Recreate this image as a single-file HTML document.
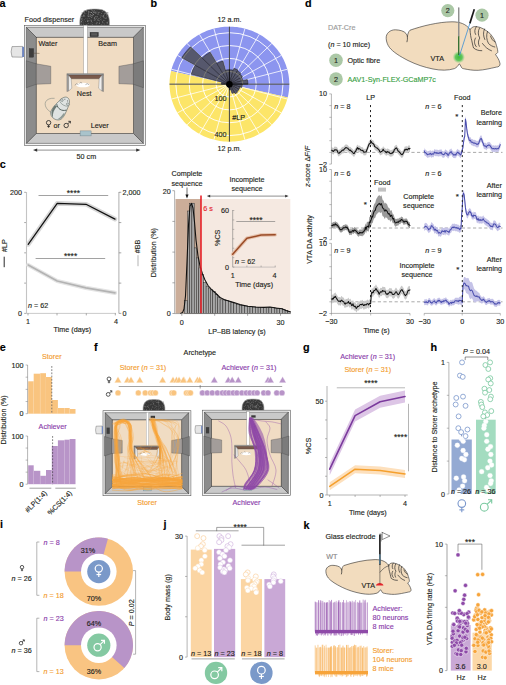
<!DOCTYPE html>
<html><head><meta charset="utf-8"><style>
html,body{margin:0;padding:0;background:#fff;width:506px;height:685px;overflow:hidden}
svg{display:block}
text{font-family:"Liberation Sans", sans-serif;}
</style></head><body>
<svg width="506" height="685" viewBox="0 0 506 685">
<rect width="506" height="685" fill="#fff"/>
<text x="-0.6" y="7.4" font-size="10.8" text-anchor="start" fill="#000" font-weight="bold" font-style="normal"  stroke="#000" stroke-width="0.14">a</text>
<rect x="24.30" y="25.30" width="121.10" height="120.10" fill="#f4f4f4" stroke="#5a5a5a" stroke-width="0.6" />
<polygon points="26.30,27.30 143.40,27.30 133.40,37.30 36.30,37.30" fill="#c9c9c9" stroke="#333" stroke-width="0.45" />
<polygon points="26.30,143.40 143.40,143.40 133.40,133.40 36.30,133.40" fill="#c9c9c9" stroke="#333" stroke-width="0.45" />
<polygon points="26.30,27.30 36.30,37.30 36.30,133.40 26.30,143.40" fill="#8c8c8c" stroke="#333" stroke-width="0.45" />
<polygon points="143.40,27.30 133.40,37.30 133.40,133.40 143.40,143.40" fill="#8c8c8c" stroke="#333" stroke-width="0.45" />
<rect x="36.30" y="37.30" width="97.10" height="96.10" fill="#f0dcc3" stroke="#333" stroke-width="0.5" />
<polygon points="26.30,60.80 36.30,63.80 36.30,84.30 26.30,87.70" fill="#7b7b7b" stroke="#3a3a3a" stroke-width="0.3" />
<polygon points="36.30,63.80 50.80,66.30 50.80,83.70 36.30,84.30" fill="#a39d9a" stroke="#3a3a3a" stroke-width="0.3" />
<polygon points="143.40,60.80 133.40,63.80 133.40,84.30 143.40,87.70" fill="#7b7b7b" stroke="#3a3a3a" stroke-width="0.3" />
<polygon points="133.40,63.80 118.90,66.30 118.90,83.70 133.40,84.30" fill="#a39d9a" stroke="#3a3a3a" stroke-width="0.3" />
<path d="M12,46.6 L22.5,46.4 L22.5,57.2 L12,57 Q10.2,51.8 12,46.6 Z" fill="#e6e6e6" stroke="#555" stroke-width="0.45"/>
<rect x="22.20" y="46.80" width="1.80" height="10.20" fill="#6d86c4" stroke="none" stroke-width="0.5" />
<rect x="29.20" y="48.60" width="4.40" height="8.60" fill="#3d3d3d" stroke="#222" stroke-width="0.3" />
<line x1="33.50" y1="53.20" x2="39.50" y2="53.40" stroke="#5a4a3a" stroke-width="0.5" />
<path d="M79.90,25.40 C79.30,18.43 80.80,11.95 87.00,9.80 C91.00,8.80 98.20,8.80 102.20,9.80 C108.40,11.95 109.90,18.43 109.30,25.40 Z" fill="#363636" stroke="#9a9a9a" stroke-width="0.6"/>
<circle cx="84.53" cy="11.96" r="0.30" fill="#7a7a7a" stroke="none" stroke-width="0.5" />
<circle cx="94.47" cy="18.04" r="0.41" fill="#b8b8b8" stroke="none" stroke-width="0.5" />
<circle cx="83.42" cy="24.47" r="0.34" fill="#b8b8b8" stroke="none" stroke-width="0.5" />
<circle cx="101.82" cy="24.87" r="0.30" fill="#b8b8b8" stroke="none" stroke-width="0.5" />
<circle cx="102.91" cy="15.87" r="0.43" fill="#7a7a7a" stroke="none" stroke-width="0.5" />
<circle cx="81.68" cy="24.51" r="0.44" fill="#7a7a7a" stroke="none" stroke-width="0.5" />
<circle cx="91.33" cy="21.59" r="0.40" fill="#b8b8b8" stroke="none" stroke-width="0.5" />
<circle cx="95.36" cy="13.24" r="0.36" fill="#b8b8b8" stroke="none" stroke-width="0.5" />
<circle cx="90.35" cy="14.57" r="0.44" fill="#b8b8b8" stroke="none" stroke-width="0.5" />
<circle cx="106.34" cy="18.55" r="0.29" fill="#7a7a7a" stroke="none" stroke-width="0.5" />
<circle cx="84.16" cy="19.82" r="0.35" fill="#b8b8b8" stroke="none" stroke-width="0.5" />
<circle cx="105.89" cy="22.00" r="0.37" fill="#5e5e5e" stroke="none" stroke-width="0.5" />
<circle cx="105.13" cy="11.98" r="0.37" fill="#b8b8b8" stroke="none" stroke-width="0.5" />
<circle cx="81.79" cy="21.19" r="0.33" fill="#b8b8b8" stroke="none" stroke-width="0.5" />
<circle cx="85.60" cy="16.52" r="0.27" fill="#5e5e5e" stroke="none" stroke-width="0.5" />
<circle cx="99.11" cy="23.25" r="0.35" fill="#9c9c9c" stroke="none" stroke-width="0.5" />
<circle cx="91.66" cy="17.42" r="0.34" fill="#7a7a7a" stroke="none" stroke-width="0.5" />
<circle cx="89.33" cy="11.95" r="0.38" fill="#b8b8b8" stroke="none" stroke-width="0.5" />
<circle cx="85.48" cy="21.44" r="0.40" fill="#7a7a7a" stroke="none" stroke-width="0.5" />
<circle cx="95.69" cy="11.76" r="0.33" fill="#9c9c9c" stroke="none" stroke-width="0.5" />
<circle cx="90.30" cy="11.96" r="0.34" fill="#5e5e5e" stroke="none" stroke-width="0.5" />
<circle cx="88.25" cy="16.53" r="0.33" fill="#7a7a7a" stroke="none" stroke-width="0.5" />
<circle cx="106.67" cy="17.08" r="0.35" fill="#9c9c9c" stroke="none" stroke-width="0.5" />
<circle cx="96.29" cy="18.39" r="0.35" fill="#7a7a7a" stroke="none" stroke-width="0.5" />
<circle cx="90.88" cy="16.44" r="0.35" fill="#b8b8b8" stroke="none" stroke-width="0.5" />
<circle cx="90.66" cy="19.62" r="0.34" fill="#5e5e5e" stroke="none" stroke-width="0.5" />
<circle cx="81.61" cy="21.40" r="0.36" fill="#9c9c9c" stroke="none" stroke-width="0.5" />
<circle cx="85.81" cy="23.50" r="0.26" fill="#5e5e5e" stroke="none" stroke-width="0.5" />
<circle cx="106.81" cy="23.83" r="0.34" fill="#7a7a7a" stroke="none" stroke-width="0.5" />
<circle cx="101.60" cy="20.61" r="0.27" fill="#5e5e5e" stroke="none" stroke-width="0.5" />
<circle cx="98.04" cy="19.64" r="0.28" fill="#7a7a7a" stroke="none" stroke-width="0.5" />
<circle cx="87.86" cy="10.36" r="0.38" fill="#5e5e5e" stroke="none" stroke-width="0.5" />
<circle cx="88.94" cy="14.17" r="0.34" fill="#b8b8b8" stroke="none" stroke-width="0.5" />
<circle cx="81.49" cy="19.00" r="0.41" fill="#b8b8b8" stroke="none" stroke-width="0.5" />
<circle cx="87.95" cy="21.03" r="0.44" fill="#9c9c9c" stroke="none" stroke-width="0.5" />
<circle cx="92.72" cy="10.00" r="0.25" fill="#9c9c9c" stroke="none" stroke-width="0.5" />
<circle cx="84.87" cy="13.92" r="0.34" fill="#9c9c9c" stroke="none" stroke-width="0.5" />
<circle cx="94.77" cy="18.39" r="0.45" fill="#9c9c9c" stroke="none" stroke-width="0.5" />
<circle cx="98.20" cy="14.29" r="0.29" fill="#b8b8b8" stroke="none" stroke-width="0.5" />
<circle cx="98.69" cy="18.87" r="0.38" fill="#5e5e5e" stroke="none" stroke-width="0.5" />
<circle cx="92.57" cy="13.64" r="0.44" fill="#9c9c9c" stroke="none" stroke-width="0.5" />
<circle cx="104.94" cy="20.22" r="0.31" fill="#7a7a7a" stroke="none" stroke-width="0.5" />
<circle cx="106.69" cy="13.54" r="0.36" fill="#b8b8b8" stroke="none" stroke-width="0.5" />
<circle cx="84.43" cy="16.34" r="0.37" fill="#7a7a7a" stroke="none" stroke-width="0.5" />
<circle cx="86.83" cy="11.14" r="0.28" fill="#b8b8b8" stroke="none" stroke-width="0.5" />
<circle cx="100.22" cy="17.13" r="0.29" fill="#b8b8b8" stroke="none" stroke-width="0.5" />
<circle cx="83.56" cy="16.15" r="0.37" fill="#b8b8b8" stroke="none" stroke-width="0.5" />
<circle cx="94.39" cy="10.58" r="0.31" fill="#b8b8b8" stroke="none" stroke-width="0.5" />
<circle cx="94.59" cy="19.93" r="0.43" fill="#b8b8b8" stroke="none" stroke-width="0.5" />
<circle cx="81.33" cy="21.83" r="0.41" fill="#5e5e5e" stroke="none" stroke-width="0.5" />
<circle cx="96.34" cy="22.84" r="0.29" fill="#b8b8b8" stroke="none" stroke-width="0.5" />
<circle cx="99.40" cy="12.11" r="0.43" fill="#5e5e5e" stroke="none" stroke-width="0.5" />
<circle cx="103.90" cy="16.74" r="0.26" fill="#9c9c9c" stroke="none" stroke-width="0.5" />
<circle cx="81.95" cy="22.87" r="0.43" fill="#9c9c9c" stroke="none" stroke-width="0.5" />
<circle cx="86.70" cy="13.31" r="0.32" fill="#5e5e5e" stroke="none" stroke-width="0.5" />
<circle cx="90.20" cy="20.45" r="0.28" fill="#b8b8b8" stroke="none" stroke-width="0.5" />
<circle cx="96.01" cy="23.31" r="0.33" fill="#7a7a7a" stroke="none" stroke-width="0.5" />
<circle cx="91.30" cy="9.76" r="0.42" fill="#9c9c9c" stroke="none" stroke-width="0.5" />
<circle cx="90.22" cy="15.51" r="0.27" fill="#b8b8b8" stroke="none" stroke-width="0.5" />
<circle cx="95.98" cy="16.26" r="0.32" fill="#5e5e5e" stroke="none" stroke-width="0.5" />
<circle cx="88.97" cy="16.74" r="0.34" fill="#7a7a7a" stroke="none" stroke-width="0.5" />
<circle cx="88.47" cy="12.88" r="0.25" fill="#5e5e5e" stroke="none" stroke-width="0.5" />
<circle cx="99.29" cy="23.50" r="0.42" fill="#7a7a7a" stroke="none" stroke-width="0.5" />
<circle cx="102.58" cy="22.03" r="0.28" fill="#b8b8b8" stroke="none" stroke-width="0.5" />
<circle cx="93.25" cy="14.50" r="0.40" fill="#9c9c9c" stroke="none" stroke-width="0.5" />
<circle cx="83.67" cy="10.99" r="0.41" fill="#b8b8b8" stroke="none" stroke-width="0.5" />
<circle cx="95.78" cy="12.40" r="0.39" fill="#5e5e5e" stroke="none" stroke-width="0.5" />
<circle cx="89.49" cy="21.73" r="0.26" fill="#5e5e5e" stroke="none" stroke-width="0.5" />
<circle cx="88.97" cy="15.79" r="0.33" fill="#b8b8b8" stroke="none" stroke-width="0.5" />
<circle cx="91.81" cy="23.92" r="0.44" fill="#5e5e5e" stroke="none" stroke-width="0.5" />
<circle cx="107.53" cy="23.20" r="0.41" fill="#9c9c9c" stroke="none" stroke-width="0.5" />
<circle cx="102.25" cy="11.29" r="0.38" fill="#b8b8b8" stroke="none" stroke-width="0.5" />
<circle cx="87.97" cy="16.63" r="0.29" fill="#5e5e5e" stroke="none" stroke-width="0.5" />
<circle cx="90.76" cy="12.38" r="0.45" fill="#7a7a7a" stroke="none" stroke-width="0.5" />
<circle cx="93.17" cy="14.94" r="0.44" fill="#5e5e5e" stroke="none" stroke-width="0.5" />
<circle cx="91.59" cy="20.22" r="0.29" fill="#5e5e5e" stroke="none" stroke-width="0.5" />
<circle cx="102.66" cy="16.06" r="0.30" fill="#5e5e5e" stroke="none" stroke-width="0.5" />
<circle cx="83.61" cy="15.56" r="0.30" fill="#7a7a7a" stroke="none" stroke-width="0.5" />
<circle cx="81.40" cy="21.18" r="0.30" fill="#7a7a7a" stroke="none" stroke-width="0.5" />
<circle cx="104.72" cy="13.77" r="0.38" fill="#7a7a7a" stroke="none" stroke-width="0.5" />
<circle cx="88.84" cy="12.80" r="0.34" fill="#b8b8b8" stroke="none" stroke-width="0.5" />
<circle cx="104.49" cy="23.36" r="0.27" fill="#5e5e5e" stroke="none" stroke-width="0.5" />
<circle cx="106.97" cy="22.26" r="0.45" fill="#9c9c9c" stroke="none" stroke-width="0.5" />
<circle cx="103.45" cy="20.02" r="0.39" fill="#7a7a7a" stroke="none" stroke-width="0.5" />
<circle cx="103.81" cy="15.71" r="0.43" fill="#9c9c9c" stroke="none" stroke-width="0.5" />
<circle cx="84.74" cy="11.00" r="0.41" fill="#7a7a7a" stroke="none" stroke-width="0.5" />
<circle cx="103.44" cy="15.38" r="0.29" fill="#9c9c9c" stroke="none" stroke-width="0.5" />
<circle cx="92.75" cy="22.49" r="0.30" fill="#9c9c9c" stroke="none" stroke-width="0.5" />
<circle cx="103.09" cy="16.51" r="0.42" fill="#b8b8b8" stroke="none" stroke-width="0.5" />
<circle cx="93.31" cy="18.86" r="0.28" fill="#5e5e5e" stroke="none" stroke-width="0.5" />
<circle cx="94.21" cy="12.79" r="0.45" fill="#b8b8b8" stroke="none" stroke-width="0.5" />
<circle cx="81.36" cy="14.34" r="0.37" fill="#9c9c9c" stroke="none" stroke-width="0.5" />
<circle cx="88.46" cy="16.29" r="0.37" fill="#9c9c9c" stroke="none" stroke-width="0.5" />
<circle cx="87.26" cy="24.79" r="0.35" fill="#5e5e5e" stroke="none" stroke-width="0.5" />
<circle cx="98.70" cy="18.21" r="0.30" fill="#9c9c9c" stroke="none" stroke-width="0.5" />
<circle cx="94.46" cy="17.59" r="0.39" fill="#9c9c9c" stroke="none" stroke-width="0.5" />
<circle cx="90.11" cy="15.57" r="0.44" fill="#5e5e5e" stroke="none" stroke-width="0.5" />
<circle cx="86.88" cy="10.83" r="0.28" fill="#5e5e5e" stroke="none" stroke-width="0.5" />
<circle cx="101.92" cy="11.42" r="0.31" fill="#5e5e5e" stroke="none" stroke-width="0.5" />
<circle cx="89.08" cy="16.47" r="0.39" fill="#9c9c9c" stroke="none" stroke-width="0.5" />
<circle cx="101.11" cy="15.82" r="0.43" fill="#7a7a7a" stroke="none" stroke-width="0.5" />
<circle cx="107.27" cy="16.18" r="0.28" fill="#9c9c9c" stroke="none" stroke-width="0.5" />
<circle cx="92.58" cy="10.52" r="0.35" fill="#7a7a7a" stroke="none" stroke-width="0.5" />
<circle cx="91.67" cy="15.17" r="0.35" fill="#b8b8b8" stroke="none" stroke-width="0.5" />
<circle cx="85.37" cy="13.76" r="0.35" fill="#7a7a7a" stroke="none" stroke-width="0.5" />
<circle cx="83.32" cy="21.00" r="0.30" fill="#7a7a7a" stroke="none" stroke-width="0.5" />
<circle cx="84.67" cy="13.05" r="0.34" fill="#7a7a7a" stroke="none" stroke-width="0.5" />
<circle cx="91.36" cy="12.64" r="0.33" fill="#b8b8b8" stroke="none" stroke-width="0.5" />
<circle cx="105.89" cy="18.21" r="0.44" fill="#b8b8b8" stroke="none" stroke-width="0.5" />
<circle cx="84.12" cy="15.73" r="0.43" fill="#b8b8b8" stroke="none" stroke-width="0.5" />
<circle cx="99.02" cy="20.66" r="0.40" fill="#b8b8b8" stroke="none" stroke-width="0.5" />
<circle cx="80.95" cy="22.00" r="0.37" fill="#b8b8b8" stroke="none" stroke-width="0.5" />
<circle cx="87.50" cy="20.93" r="0.31" fill="#9c9c9c" stroke="none" stroke-width="0.5" />
<circle cx="95.77" cy="20.73" r="0.42" fill="#5e5e5e" stroke="none" stroke-width="0.5" />
<circle cx="93.12" cy="11.75" r="0.36" fill="#9c9c9c" stroke="none" stroke-width="0.5" />
<circle cx="94.35" cy="11.83" r="0.36" fill="#9c9c9c" stroke="none" stroke-width="0.5" />
<circle cx="91.39" cy="20.56" r="0.43" fill="#7a7a7a" stroke="none" stroke-width="0.5" />
<circle cx="81.50" cy="16.21" r="0.36" fill="#7a7a7a" stroke="none" stroke-width="0.5" />
<circle cx="107.40" cy="13.28" r="0.27" fill="#9c9c9c" stroke="none" stroke-width="0.5" />
<circle cx="91.12" cy="12.60" r="0.35" fill="#b8b8b8" stroke="none" stroke-width="0.5" />
<circle cx="90.66" cy="16.83" r="0.27" fill="#7a7a7a" stroke="none" stroke-width="0.5" />
<circle cx="100.60" cy="19.55" r="0.32" fill="#b8b8b8" stroke="none" stroke-width="0.5" />
<circle cx="100.96" cy="16.18" r="0.38" fill="#7a7a7a" stroke="none" stroke-width="0.5" />
<circle cx="91.23" cy="21.79" r="0.45" fill="#7a7a7a" stroke="none" stroke-width="0.5" />
<circle cx="98.33" cy="13.87" r="0.45" fill="#9c9c9c" stroke="none" stroke-width="0.5" />
<circle cx="93.54" cy="12.16" r="0.44" fill="#b8b8b8" stroke="none" stroke-width="0.5" />
<circle cx="100.44" cy="9.82" r="0.34" fill="#9c9c9c" stroke="none" stroke-width="0.5" />
<circle cx="99.25" cy="21.89" r="0.39" fill="#7a7a7a" stroke="none" stroke-width="0.5" />
<circle cx="96.78" cy="10.08" r="0.42" fill="#5e5e5e" stroke="none" stroke-width="0.5" />
<circle cx="96.92" cy="13.69" r="0.35" fill="#7a7a7a" stroke="none" stroke-width="0.5" />
<circle cx="101.37" cy="15.12" r="0.38" fill="#5e5e5e" stroke="none" stroke-width="0.5" />
<circle cx="92.04" cy="15.29" r="0.41" fill="#b8b8b8" stroke="none" stroke-width="0.5" />
<circle cx="104.13" cy="13.18" r="0.32" fill="#7a7a7a" stroke="none" stroke-width="0.5" />
<circle cx="88.12" cy="14.09" r="0.28" fill="#5e5e5e" stroke="none" stroke-width="0.5" />
<circle cx="103.77" cy="17.50" r="0.35" fill="#b8b8b8" stroke="none" stroke-width="0.5" />
<circle cx="88.29" cy="23.40" r="0.26" fill="#b8b8b8" stroke="none" stroke-width="0.5" />
<circle cx="82.68" cy="18.14" r="0.35" fill="#9c9c9c" stroke="none" stroke-width="0.5" />
<circle cx="106.88" cy="14.36" r="0.38" fill="#b8b8b8" stroke="none" stroke-width="0.5" />
<circle cx="88.43" cy="20.25" r="0.30" fill="#9c9c9c" stroke="none" stroke-width="0.5" />
<circle cx="90.03" cy="23.86" r="0.34" fill="#5e5e5e" stroke="none" stroke-width="0.5" />
<circle cx="96.19" cy="24.14" r="0.38" fill="#5e5e5e" stroke="none" stroke-width="0.5" />
<circle cx="100.48" cy="12.46" r="0.32" fill="#5e5e5e" stroke="none" stroke-width="0.5" />
<circle cx="101.20" cy="18.91" r="0.28" fill="#b8b8b8" stroke="none" stroke-width="0.5" />
<circle cx="102.58" cy="11.67" r="0.39" fill="#5e5e5e" stroke="none" stroke-width="0.5" />
<circle cx="87.96" cy="15.59" r="0.42" fill="#9c9c9c" stroke="none" stroke-width="0.5" />
<circle cx="97.97" cy="20.07" r="0.44" fill="#b8b8b8" stroke="none" stroke-width="0.5" />
<circle cx="87.67" cy="20.79" r="0.38" fill="#7a7a7a" stroke="none" stroke-width="0.5" />
<circle cx="93.05" cy="10.96" r="0.37" fill="#9c9c9c" stroke="none" stroke-width="0.5" />
<circle cx="88.05" cy="16.86" r="0.41" fill="#9c9c9c" stroke="none" stroke-width="0.5" />
<circle cx="105.44" cy="18.17" r="0.40" fill="#5e5e5e" stroke="none" stroke-width="0.5" />
<circle cx="87.46" cy="13.93" r="0.26" fill="#5e5e5e" stroke="none" stroke-width="0.5" />
<circle cx="87.10" cy="19.99" r="0.44" fill="#7a7a7a" stroke="none" stroke-width="0.5" />
<circle cx="82.07" cy="12.54" r="0.43" fill="#7a7a7a" stroke="none" stroke-width="0.5" />
<circle cx="86.80" cy="24.37" r="0.32" fill="#b8b8b8" stroke="none" stroke-width="0.5" />
<circle cx="103.90" cy="23.10" r="0.27" fill="#9c9c9c" stroke="none" stroke-width="0.5" />
<circle cx="91.84" cy="17.34" r="0.40" fill="#b8b8b8" stroke="none" stroke-width="0.5" />
<circle cx="107.63" cy="21.30" r="0.34" fill="#5e5e5e" stroke="none" stroke-width="0.5" />
<circle cx="96.80" cy="21.67" r="0.32" fill="#5e5e5e" stroke="none" stroke-width="0.5" />
<circle cx="97.18" cy="11.01" r="0.26" fill="#7a7a7a" stroke="none" stroke-width="0.5" />
<circle cx="102.79" cy="11.80" r="0.43" fill="#5e5e5e" stroke="none" stroke-width="0.5" />
<circle cx="104.18" cy="20.52" r="0.33" fill="#9c9c9c" stroke="none" stroke-width="0.5" />
<circle cx="105.06" cy="13.32" r="0.41" fill="#9c9c9c" stroke="none" stroke-width="0.5" />
<circle cx="81.67" cy="18.99" r="0.36" fill="#7a7a7a" stroke="none" stroke-width="0.5" />
<circle cx="87.83" cy="23.69" r="0.43" fill="#5e5e5e" stroke="none" stroke-width="0.5" />
<circle cx="81.81" cy="23.97" r="0.26" fill="#9c9c9c" stroke="none" stroke-width="0.5" />
<circle cx="88.37" cy="23.11" r="0.29" fill="#7a7a7a" stroke="none" stroke-width="0.5" />
<circle cx="94.59" cy="22.91" r="0.39" fill="#5e5e5e" stroke="none" stroke-width="0.5" />
<circle cx="104.11" cy="14.78" r="0.32" fill="#b8b8b8" stroke="none" stroke-width="0.5" />
<circle cx="88.21" cy="20.93" r="0.30" fill="#9c9c9c" stroke="none" stroke-width="0.5" />
<circle cx="97.02" cy="12.87" r="0.32" fill="#9c9c9c" stroke="none" stroke-width="0.5" />
<circle cx="97.50" cy="16.35" r="0.43" fill="#7a7a7a" stroke="none" stroke-width="0.5" />
<circle cx="95.89" cy="16.68" r="0.43" fill="#b8b8b8" stroke="none" stroke-width="0.5" />
<circle cx="82.77" cy="20.82" r="0.30" fill="#7a7a7a" stroke="none" stroke-width="0.5" />
<circle cx="107.71" cy="22.60" r="0.42" fill="#9c9c9c" stroke="none" stroke-width="0.5" />
<circle cx="104.29" cy="24.10" r="0.43" fill="#7a7a7a" stroke="none" stroke-width="0.5" />
<circle cx="94.95" cy="17.25" r="0.45" fill="#7a7a7a" stroke="none" stroke-width="0.5" />
<circle cx="81.94" cy="16.79" r="0.38" fill="#b8b8b8" stroke="none" stroke-width="0.5" />
<circle cx="105.48" cy="13.24" r="0.25" fill="#b8b8b8" stroke="none" stroke-width="0.5" />
<circle cx="95.27" cy="23.52" r="0.27" fill="#5e5e5e" stroke="none" stroke-width="0.5" />
<circle cx="81.78" cy="19.03" r="0.31" fill="#5e5e5e" stroke="none" stroke-width="0.5" />
<circle cx="84.41" cy="12.77" r="0.42" fill="#7a7a7a" stroke="none" stroke-width="0.5" />
<circle cx="89.20" cy="18.41" r="0.35" fill="#9c9c9c" stroke="none" stroke-width="0.5" />
<circle cx="86.49" cy="10.81" r="0.44" fill="#b8b8b8" stroke="none" stroke-width="0.5" />
<circle cx="96.92" cy="23.30" r="0.35" fill="#b8b8b8" stroke="none" stroke-width="0.5" />
<circle cx="96.21" cy="12.01" r="0.43" fill="#7a7a7a" stroke="none" stroke-width="0.5" />
<circle cx="103.73" cy="20.45" r="0.29" fill="#9c9c9c" stroke="none" stroke-width="0.5" />
<circle cx="91.55" cy="19.95" r="0.32" fill="#b8b8b8" stroke="none" stroke-width="0.5" />
<circle cx="96.66" cy="24.24" r="0.33" fill="#5e5e5e" stroke="none" stroke-width="0.5" />
<circle cx="89.61" cy="20.74" r="0.36" fill="#7a7a7a" stroke="none" stroke-width="0.5" />
<circle cx="84.93" cy="10.94" r="0.41" fill="#5e5e5e" stroke="none" stroke-width="0.5" />
<circle cx="96.61" cy="18.00" r="0.35" fill="#5e5e5e" stroke="none" stroke-width="0.5" />
<circle cx="107.53" cy="12.45" r="0.43" fill="#7a7a7a" stroke="none" stroke-width="0.5" />
<circle cx="102.90" cy="22.85" r="0.37" fill="#b8b8b8" stroke="none" stroke-width="0.5" />
<circle cx="108.16" cy="12.93" r="0.32" fill="#5e5e5e" stroke="none" stroke-width="0.5" />
<circle cx="106.78" cy="15.07" r="0.31" fill="#b8b8b8" stroke="none" stroke-width="0.5" />
<circle cx="97.30" cy="19.70" r="0.26" fill="#9c9c9c" stroke="none" stroke-width="0.5" />
<circle cx="87.72" cy="21.52" r="0.43" fill="#9c9c9c" stroke="none" stroke-width="0.5" />
<circle cx="85.92" cy="18.62" r="0.41" fill="#7a7a7a" stroke="none" stroke-width="0.5" />
<circle cx="107.77" cy="14.50" r="0.29" fill="#7a7a7a" stroke="none" stroke-width="0.5" />
<circle cx="82.67" cy="16.18" r="0.42" fill="#7a7a7a" stroke="none" stroke-width="0.5" />
<circle cx="102.70" cy="21.58" r="0.35" fill="#9c9c9c" stroke="none" stroke-width="0.5" />
<circle cx="92.73" cy="15.89" r="0.39" fill="#b8b8b8" stroke="none" stroke-width="0.5" />
<circle cx="88.65" cy="11.29" r="0.42" fill="#b8b8b8" stroke="none" stroke-width="0.5" />
<circle cx="105.41" cy="18.40" r="0.36" fill="#5e5e5e" stroke="none" stroke-width="0.5" />
<circle cx="106.84" cy="12.71" r="0.41" fill="#7a7a7a" stroke="none" stroke-width="0.5" />
<circle cx="108.31" cy="20.98" r="0.25" fill="#9c9c9c" stroke="none" stroke-width="0.5" />
<circle cx="95.48" cy="19.09" r="0.27" fill="#b8b8b8" stroke="none" stroke-width="0.5" />
<circle cx="97.79" cy="17.11" r="0.26" fill="#b8b8b8" stroke="none" stroke-width="0.5" />
<circle cx="104.27" cy="17.90" r="0.44" fill="#9c9c9c" stroke="none" stroke-width="0.5" />
<circle cx="100.00" cy="15.10" r="0.41" fill="#7a7a7a" stroke="none" stroke-width="0.5" />
<circle cx="94.94" cy="9.72" r="0.44" fill="#5e5e5e" stroke="none" stroke-width="0.5" />
<circle cx="95.78" cy="16.17" r="0.36" fill="#5e5e5e" stroke="none" stroke-width="0.5" />
<circle cx="95.76" cy="12.40" r="0.37" fill="#b8b8b8" stroke="none" stroke-width="0.5" />
<circle cx="96.83" cy="17.99" r="0.35" fill="#9c9c9c" stroke="none" stroke-width="0.5" />
<circle cx="96.97" cy="16.50" r="0.30" fill="#9c9c9c" stroke="none" stroke-width="0.5" />
<circle cx="81.10" cy="18.42" r="0.32" fill="#7a7a7a" stroke="none" stroke-width="0.5" />
<circle cx="91.91" cy="10.60" r="0.43" fill="#7a7a7a" stroke="none" stroke-width="0.5" />
<circle cx="106.30" cy="11.98" r="0.30" fill="#b8b8b8" stroke="none" stroke-width="0.5" />
<circle cx="88.32" cy="12.97" r="0.40" fill="#b8b8b8" stroke="none" stroke-width="0.5" />
<circle cx="91.53" cy="12.63" r="0.32" fill="#b8b8b8" stroke="none" stroke-width="0.5" />
<circle cx="92.27" cy="24.62" r="0.41" fill="#9c9c9c" stroke="none" stroke-width="0.5" />
<circle cx="90.96" cy="22.96" r="0.44" fill="#5e5e5e" stroke="none" stroke-width="0.5" />
<circle cx="92.20" cy="10.56" r="0.40" fill="#5e5e5e" stroke="none" stroke-width="0.5" />
<circle cx="99.87" cy="18.28" r="0.29" fill="#b8b8b8" stroke="none" stroke-width="0.5" />
<circle cx="103.67" cy="10.40" r="0.39" fill="#b8b8b8" stroke="none" stroke-width="0.5" />
<circle cx="83.35" cy="22.92" r="0.30" fill="#9c9c9c" stroke="none" stroke-width="0.5" />
<circle cx="81.56" cy="21.03" r="0.40" fill="#b8b8b8" stroke="none" stroke-width="0.5" />
<circle cx="83.56" cy="14.98" r="0.42" fill="#9c9c9c" stroke="none" stroke-width="0.5" />
<circle cx="83.29" cy="15.56" r="0.36" fill="#7a7a7a" stroke="none" stroke-width="0.5" />
<circle cx="95.55" cy="19.61" r="0.40" fill="#7a7a7a" stroke="none" stroke-width="0.5" />
<circle cx="99.53" cy="12.15" r="0.45" fill="#7a7a7a" stroke="none" stroke-width="0.5" />
<circle cx="99.68" cy="22.17" r="0.41" fill="#7a7a7a" stroke="none" stroke-width="0.5" />
<circle cx="99.47" cy="23.57" r="0.27" fill="#b8b8b8" stroke="none" stroke-width="0.5" />
<circle cx="93.15" cy="14.49" r="0.43" fill="#b8b8b8" stroke="none" stroke-width="0.5" />
<circle cx="84.03" cy="11.86" r="0.28" fill="#7a7a7a" stroke="none" stroke-width="0.5" />
<circle cx="97.73" cy="14.18" r="0.35" fill="#9c9c9c" stroke="none" stroke-width="0.5" />
<circle cx="92.30" cy="11.34" r="0.42" fill="#5e5e5e" stroke="none" stroke-width="0.5" />
<circle cx="98.28" cy="12.53" r="0.41" fill="#9c9c9c" stroke="none" stroke-width="0.5" />
<circle cx="98.00" cy="11.75" r="0.25" fill="#7a7a7a" stroke="none" stroke-width="0.5" />
<circle cx="108.06" cy="14.86" r="0.26" fill="#5e5e5e" stroke="none" stroke-width="0.5" />
<circle cx="98.05" cy="20.32" r="0.30" fill="#7a7a7a" stroke="none" stroke-width="0.5" />
<circle cx="88.39" cy="14.12" r="0.28" fill="#b8b8b8" stroke="none" stroke-width="0.5" />
<circle cx="87.89" cy="18.68" r="0.36" fill="#7a7a7a" stroke="none" stroke-width="0.5" />
<circle cx="97.60" cy="22.63" r="0.30" fill="#b8b8b8" stroke="none" stroke-width="0.5" />
<circle cx="94.05" cy="20.23" r="0.29" fill="#b8b8b8" stroke="none" stroke-width="0.5" />
<circle cx="90.96" cy="17.72" r="0.29" fill="#5e5e5e" stroke="none" stroke-width="0.5" />
<circle cx="101.73" cy="13.61" r="0.36" fill="#b8b8b8" stroke="none" stroke-width="0.5" />
<circle cx="82.44" cy="19.92" r="0.38" fill="#9c9c9c" stroke="none" stroke-width="0.5" />
<circle cx="103.19" cy="11.29" r="0.37" fill="#5e5e5e" stroke="none" stroke-width="0.5" />
<rect x="83.70" y="25.30" width="3.60" height="48.80" fill="#ffffff" stroke="#8a8a8a" stroke-width="0.4" />
<rect x="90.00" y="32.30" width="8.40" height="4.40" fill="#3a3a3a" stroke="#222" stroke-width="0.3" />
<rect x="91.20" y="33.20" width="6.00" height="2.40" fill="#5a5a5a" stroke="none" stroke-width="0.5" />
<polygon points="66.90,73.60 103.50,73.60 103.50,74.90 66.90,74.90" fill="#bdbdbd" stroke="#444" stroke-width="0.3" />
<polygon points="67.60,74.90 102.80,74.90 99.40,78.80 71.00,78.80" fill="#7a5a4b" stroke="#333" stroke-width="0.3" />
<polygon points="66.90,74.90 68.60,74.90 68.60,91.00 66.90,91.60" fill="#a3a3a3" stroke="#444" stroke-width="0.3" />
<polygon points="68.60,74.90 71.20,78.80 71.80,88.20 68.60,91.00" fill="#eeeeee" stroke="#555" stroke-width="0.3" />
<polygon points="103.50,74.90 101.80,74.90 101.80,91.00 103.50,91.60" fill="#a3a3a3" stroke="#444" stroke-width="0.3" />
<polygon points="101.80,74.90 99.20,78.80 98.60,88.20 101.80,91.00" fill="#eeeeee" stroke="#555" stroke-width="0.3" />
<ellipse cx="83.00" cy="85.00" rx="6.80" ry="2.30" fill="#ffffff"/>
<path d="M74.80,85.20 q1.80,-2.60 3.60,-0.60 M79.50,83.40 q1.30,-2.00 2.60,-0.20 M85.50,84.60 q1.80,-2.00 3.60,0.20" fill="none" stroke="#777" stroke-width="0.55"/>
<text x="84.2" y="96.4" font-size="7.2" text-anchor="middle" fill="#231f20" font-weight="normal" font-style="normal"  stroke="#231f20" stroke-width="0.14">Nest</text>
<text x="38.6" y="46.2" font-size="7.2" text-anchor="start" fill="#231f20" font-weight="normal" font-style="normal"  stroke="#231f20" stroke-width="0.14">Water</text>
<text x="98.2" y="45.7" font-size="7.2" text-anchor="start" fill="#231f20" font-weight="normal" font-style="normal"  stroke="#231f20" stroke-width="0.14">Beam</text>
<text x="24.6" y="21.6" font-size="7.2" text-anchor="start" fill="#231f20" font-weight="normal" font-style="normal"  stroke="#231f20" stroke-width="0.14">Food dispenser</text>
<path d="M55.6,114.2 C47.5,112 43.8,105.8 45.6,101.9 C47,99 50.5,98 54.6,98.3" fill="none" stroke="#6f7a76" stroke-width="0.5"/>
<g transform="translate(61.2,107.6) rotate(33)"><path d="M0,-11.8 C3.4,-11.8 5,-7.5 5.6,-3.5 C6.6,1.5 7.3,5.5 6.6,8.8 C5.6,12 2.6,13.2 0,13.2 C-2.6,13.2 -5.6,12 -6.6,8.8 C-7.3,5.5 -6.6,1.5 -5.6,-3.5 C-5,-7.5 -3.4,-11.8 0,-11.8 Z" fill="#dfe3e1" stroke="#4a5752" stroke-width="0.5"/><path d="M-6.5,1.5 C-7.3,6 -6,11 -1.5,12.8 C-4,10 -5,6 -4.2,0.8 Z" fill="#6c7974"/><path d="M6.5,3 C7,7 6,10.5 3,12.3 C4.5,9.5 5.2,6.5 5,3.5 Z" fill="#8d9994"/><path d="M-5.6,-0.5 C-2.5,3 2.5,3 5.8,-0.8" fill="none" stroke="#56635e" stroke-width="0.9"/><path d="M-4.6,-4.5 C-2,-2.8 2,-2.8 4.8,-4.8" fill="none" stroke="#6c7974" stroke-width="0.5"/><ellipse cx="-3.6" cy="-6.6" rx="1.6" ry="1.2" fill="#c5cbc9" stroke="#4a5752" stroke-width="0.35"/><ellipse cx="3.8" cy="-6.4" rx="1.6" ry="1.2" fill="#c5cbc9" stroke="#4a5752" stroke-width="0.35"/><circle cx="-1.5" cy="-9" r="0.45" fill="#333"/><circle cx="1.6" cy="-9" r="0.45" fill="#333"/></g>
<text x="53.6" y="127.6" font-size="7.2" text-anchor="start" fill="#231f20" font-weight="normal" font-style="normal"  stroke="#231f20" stroke-width="0.14">or</text>
<g fill="none" stroke="#222" stroke-width="0.8"><circle cx="48.6" cy="122.7" r="2.2"/><line x1="48.6" y1="124.9" x2="48.6" y2="127.76"/><line x1="47.17" y1="126.33" x2="50.03" y2="126.33"/></g>
<g fill="none" stroke="#222" stroke-width="0.8"><circle cx="66.2" cy="125.5" r="2.2"/><line x1="67.75562000000001" y1="123.94438" x2="70.38" y2="121.32"/><polyline points="68.28999999999999,121.32 70.38,121.32 70.38,123.41"/></g>
<text x="90.7" y="127.8" font-size="7.2" text-anchor="start" fill="#231f20" font-weight="normal" font-style="normal"  stroke="#231f20" stroke-width="0.14">Lever</text>
<rect x="80.10" y="130.90" width="11.00" height="5.00" fill="#a9c3cb" stroke="#6a7a80" stroke-width="0.4" />
<line x1="35.00" y1="150.10" x2="138.50" y2="150.10" stroke="#444" stroke-width="0.6" />
<polygon points="33.00,150.10 37.20,148.50 37.20,151.70" fill="#333" stroke="none" stroke-width="0.5" />
<polygon points="140.40,150.10 136.20,148.50 136.20,151.70" fill="#333" stroke="none" stroke-width="0.5" />
<text x="86.4" y="159.0" font-size="7.2" text-anchor="middle" fill="#231f20" font-weight="normal" font-style="normal"  stroke="#231f20" stroke-width="0.14">50 cm</text>
<text x="150.4" y="7.2" font-size="10.8" text-anchor="start" fill="#000" font-weight="bold" font-style="normal"  stroke="#000" stroke-width="0.14">b</text>
<polygon points="229.40,84.15 171.11,70.92 171.62,68.98 172.21,67.05 172.87,65.15 173.59,63.26 174.39,61.41 175.25,59.58 176.17,57.78 177.16,56.01 178.22,54.28 179.34,52.58 180.51,50.92 181.75,49.31 183.05,47.73 184.40,46.20 185.81,44.72 187.27,43.28 188.78,41.89 190.34,40.56 191.95,39.28 193.60,38.05 195.30,36.88 197.04,35.76 198.82,34.71 200.63,33.71 202.49,32.78 204.37,31.91 206.28,31.10 208.23,30.36 210.20,29.69 212.19,29.08 214.20,28.53 216.23,28.06 218.28,27.65 220.34,27.31 222.41,27.04 224.49,26.84 226.58,26.71 228.67,26.65 230.76,26.66 232.85,26.75 234.93,26.90 237.01,27.12 239.08,27.41 241.14,27.76 243.18,28.19 245.21,28.69 247.21,29.25 249.20,29.88 251.16,30.58 253.09,31.34 255.00,32.17 256.87,33.05 258.71,34.01 260.52,35.02 262.29,36.09 264.01,37.22 265.70,38.41 267.34,39.65 268.93,40.95 270.48,42.30 271.98,43.70 273.42,45.16 274.81,46.65 276.15,48.20 277.43,49.79 278.65,51.42 279.81,53.09 280.91,54.79 281.94,56.54 282.91,58.31 283.82,60.12 284.66,61.96 285.43,63.83 286.14,65.71 286.77,67.63 287.34,69.56 287.83,71.51 288.26,73.47 288.61,75.45 288.89,77.44 289.10,79.44 289.23,81.44 289.30,83.45 289.28,85.45 289.20,87.46 289.04,89.46 288.81,91.46 288.51,93.44 288.14,95.42 287.69,97.38" fill="#8c95ef" stroke="none" stroke-width="0.5" />
<polygon points="229.40,84.15 287.69,97.38 287.18,99.32 286.59,101.25 285.93,103.15 285.21,105.04 284.41,106.89 283.55,108.72 282.63,110.52 281.64,112.29 280.58,114.02 279.46,115.72 278.29,117.38 277.05,118.99 275.75,120.57 274.40,122.10 272.99,123.58 271.53,125.02 270.02,126.41 268.46,127.74 266.85,129.02 265.20,130.25 263.50,131.42 261.76,132.54 259.98,133.59 258.17,134.59 256.31,135.52 254.43,136.39 252.52,137.20 250.57,137.94 248.60,138.61 246.61,139.22 244.60,139.77 242.57,140.24 240.52,140.65 238.46,140.99 236.39,141.26 234.31,141.46 232.22,141.59 230.13,141.65 228.04,141.64 225.95,141.55 223.87,141.40 221.79,141.18 219.72,140.89 217.66,140.54 215.62,140.11 213.59,139.61 211.59,139.05 209.60,138.42 207.64,137.72 205.71,136.96 203.80,136.13 201.93,135.25 200.09,134.29 198.28,133.28 196.51,132.21 194.79,131.08 193.10,129.89 191.46,128.65 189.87,127.35 188.32,126.00 186.82,124.60 185.38,123.14 183.99,121.65 182.65,120.10 181.37,118.51 180.15,116.88 178.99,115.21 177.89,113.51 176.86,111.76 175.89,109.99 174.98,108.18 174.14,106.34 173.37,104.47 172.66,102.59 172.03,100.67 171.46,98.74 170.97,96.79 170.54,94.83 170.19,92.85 169.91,90.86 169.70,88.86 169.57,86.86 169.50,84.85 169.52,82.85 169.60,80.84 169.76,78.84 169.99,76.84 170.29,74.86 170.66,72.88 171.11,70.92" fill="#fce568" stroke="none" stroke-width="0.5" />
<ellipse cx="229.4" cy="84.15" rx="13.4" ry="12.86" fill="none" stroke="#fff" stroke-width="0.9"/>
<ellipse cx="229.4" cy="84.15" rx="26.8" ry="25.73" fill="none" stroke="#fff" stroke-width="0.9"/>
<ellipse cx="229.4" cy="84.15" rx="40.2" ry="38.59" fill="none" stroke="#fff" stroke-width="0.9"/>
<ellipse cx="229.4" cy="84.15" rx="53.6" ry="51.45" fill="none" stroke="#fff" stroke-width="0.9"/>
<line x1="229.40" y1="84.15" x2="229.40" y2="26.65" stroke="#fff" stroke-width="0.8" />
<line x1="229.40" y1="84.15" x2="244.90" y2="28.61" stroke="#fff" stroke-width="0.8" />
<line x1="229.40" y1="84.15" x2="259.35" y2="34.35" stroke="#fff" stroke-width="0.8" />
<line x1="229.40" y1="84.15" x2="271.76" y2="43.49" stroke="#fff" stroke-width="0.8" />
<line x1="229.40" y1="84.15" x2="281.27" y2="55.40" stroke="#fff" stroke-width="0.8" />
<line x1="229.40" y1="84.15" x2="287.26" y2="69.27" stroke="#fff" stroke-width="0.8" />
<line x1="229.40" y1="84.15" x2="289.30" y2="84.15" stroke="#fff" stroke-width="0.8" />
<line x1="229.40" y1="84.15" x2="287.26" y2="99.03" stroke="#fff" stroke-width="0.8" />
<line x1="229.40" y1="84.15" x2="281.27" y2="112.90" stroke="#fff" stroke-width="0.8" />
<line x1="229.40" y1="84.15" x2="271.76" y2="124.81" stroke="#fff" stroke-width="0.8" />
<line x1="229.40" y1="84.15" x2="259.35" y2="133.95" stroke="#fff" stroke-width="0.8" />
<line x1="229.40" y1="84.15" x2="244.90" y2="139.69" stroke="#fff" stroke-width="0.8" />
<line x1="229.40" y1="84.15" x2="229.40" y2="141.65" stroke="#fff" stroke-width="0.8" />
<line x1="229.40" y1="84.15" x2="213.90" y2="139.69" stroke="#fff" stroke-width="0.8" />
<line x1="229.40" y1="84.15" x2="199.45" y2="133.95" stroke="#fff" stroke-width="0.8" />
<line x1="229.40" y1="84.15" x2="187.04" y2="124.81" stroke="#fff" stroke-width="0.8" />
<line x1="229.40" y1="84.15" x2="177.53" y2="112.90" stroke="#fff" stroke-width="0.8" />
<line x1="229.40" y1="84.15" x2="171.54" y2="99.03" stroke="#fff" stroke-width="0.8" />
<line x1="229.40" y1="84.15" x2="169.50" y2="84.15" stroke="#fff" stroke-width="0.8" />
<line x1="229.40" y1="84.15" x2="171.54" y2="69.27" stroke="#fff" stroke-width="0.8" />
<line x1="229.40" y1="84.15" x2="177.53" y2="55.40" stroke="#fff" stroke-width="0.8" />
<line x1="229.40" y1="84.15" x2="187.04" y2="43.49" stroke="#fff" stroke-width="0.8" />
<line x1="229.40" y1="84.15" x2="199.45" y2="34.35" stroke="#fff" stroke-width="0.8" />
<line x1="229.40" y1="84.15" x2="213.90" y2="28.61" stroke="#fff" stroke-width="0.8" />
<polygon points="229.40,84.15 229.40,69.75 230.05,69.76 230.71,69.81 231.36,69.87 232.00,69.97 232.65,70.09 233.28,70.24" fill="#56586d" stroke="#1e1e24" stroke-width="0.55" />
<polygon points="229.40,84.15 233.80,68.39 234.51,68.59 235.21,68.82 235.91,69.07 236.58,69.36 237.25,69.67 237.90,70.02" fill="#56586d" stroke="#1e1e24" stroke-width="0.55" />
<polygon points="229.40,84.15 237.40,70.85 238.00,71.20 238.58,71.57 239.14,71.96 239.68,72.38 240.21,72.83 240.71,73.29" fill="#56586d" stroke="#1e1e24" stroke-width="0.55" />
<polygon points="229.40,84.15 240.01,73.97 240.46,74.42 240.89,74.89 241.30,75.38 241.69,75.89 242.05,76.41 242.39,76.95" fill="#56586d" stroke="#1e1e24" stroke-width="0.55" />
<polygon points="229.40,84.15 241.52,77.43 241.82,77.94 242.09,78.47 242.33,79.01 242.56,79.55 242.75,80.11 242.92,80.67" fill="#56586d" stroke="#1e1e24" stroke-width="0.55" />
<polygon points="229.40,84.15 247.27,79.55 247.46,80.31 247.62,81.07 247.74,81.83 247.83,82.60 247.88,83.38 247.90,84.15" fill="#56586d" stroke="#1e1e24" stroke-width="0.55" />
<polygon points="229.40,84.15 242.40,84.15 242.39,84.69 242.35,85.24 242.29,85.78 242.20,86.32 242.09,86.85 241.96,87.38" fill="#56586d" stroke="#1e1e24" stroke-width="0.55" />
<polygon points="229.40,84.15 240.03,86.88 239.89,87.33 239.74,87.76 239.56,88.19 239.37,88.61 239.16,89.03 238.93,89.43" fill="#56586d" stroke="#1e1e24" stroke-width="0.55" />
<polygon points="229.40,84.15 238.93,89.43 238.68,89.82 238.41,90.21 238.13,90.58 237.83,90.94 237.51,91.28 237.18,91.62" fill="#56586d" stroke="#1e1e24" stroke-width="0.55" />
<polygon points="229.40,84.15 237.53,91.96 237.17,92.29 236.79,92.61 236.40,92.91 236.00,93.19 235.58,93.46 235.15,93.71" fill="#56586d" stroke="#1e1e24" stroke-width="0.55" />
<polygon points="229.40,84.15 234.40,92.46 234.02,92.66 233.63,92.85 233.23,93.02 232.82,93.17 232.41,93.31 231.99,93.42" fill="#56586d" stroke="#1e1e24" stroke-width="0.55" />
<polygon points="229.40,84.15 230.95,89.71 230.70,89.77 230.44,89.82 230.18,89.86 229.92,89.89 229.66,89.90 229.40,89.91" fill="#56586d" stroke="#1e1e24" stroke-width="0.55" />
<polygon points="229.40,84.15 229.40,87.99 229.23,87.99 229.05,87.98 228.88,87.96 228.71,87.93 228.53,87.90 228.36,87.86" fill="#56586d" stroke="#1e1e24" stroke-width="0.55" />
<polygon points="229.40,84.15 228.49,87.40 228.35,87.35 228.20,87.31 228.06,87.25 227.92,87.19 227.78,87.13 227.65,87.06" fill="#56586d" stroke="#1e1e24" stroke-width="0.55" />
<polygon points="229.40,84.15 227.90,86.64 227.79,86.58 227.68,86.51 227.57,86.43 227.47,86.36 227.37,86.27 227.28,86.19" fill="#56586d" stroke="#1e1e24" stroke-width="0.55" />
<polygon points="229.40,84.15 227.28,86.19 227.19,86.10 227.10,86.00 227.02,85.90 226.94,85.80 226.87,85.70 226.80,85.59" fill="#56586d" stroke="#1e1e24" stroke-width="0.55" />
<polygon points="229.40,84.15 226.80,85.59 226.74,85.48 226.68,85.37 226.63,85.25 226.58,85.13 226.54,85.02 226.50,84.90" fill="#56586d" stroke="#1e1e24" stroke-width="0.55" />
<polygon points="229.40,84.15 226.50,84.90 226.47,84.77 226.45,84.65 226.43,84.53 226.41,84.40 226.40,84.28 226.40,84.15" fill="#56586d" stroke="#1e1e24" stroke-width="0.55" />
<polygon points="229.40,84.15 221.40,84.15 221.41,83.82 221.43,83.48 221.47,83.15 221.52,82.82 221.59,82.49 221.67,82.16" fill="#56586d" stroke="#1e1e24" stroke-width="0.55" />
<polygon points="229.40,84.15 191.25,74.34 191.73,72.75 192.28,71.18 192.91,69.64 193.60,68.13 194.36,66.64 195.19,65.19" fill="#56586d" stroke="#1e1e24" stroke-width="0.55" />
<polygon points="229.40,84.15 181.77,57.75 183.01,55.78 184.35,53.87 185.77,52.01 187.27,50.21 188.85,48.48 190.51,46.82" fill="#56586d" stroke="#1e1e24" stroke-width="0.55" />
<polygon points="229.40,84.15 202.18,58.02 203.39,56.90 204.65,55.84 205.96,54.83 207.32,53.88 208.71,52.98 210.15,52.14" fill="#56586d" stroke="#1e1e24" stroke-width="0.55" />
<polygon points="229.40,84.15 216.90,63.37 217.86,62.86 218.83,62.40 219.83,61.98 220.85,61.60 221.88,61.26 222.93,60.97" fill="#56586d" stroke="#1e1e24" stroke-width="0.55" />
<polygon points="229.40,84.15 225.52,70.24 226.15,70.09 226.80,69.97 227.44,69.87 228.09,69.81 228.75,69.76 229.40,69.75" fill="#56586d" stroke="#1e1e24" stroke-width="0.55" />
<clipPath id="wclip"><polygon points="229.40,84.15 229.40,69.75 230.05,69.76 230.71,69.81 231.36,69.87 232.00,69.97 232.65,70.09 233.28,70.24"/><polygon points="229.40,84.15 233.80,68.39 234.51,68.59 235.21,68.82 235.91,69.07 236.58,69.36 237.25,69.67 237.90,70.02"/><polygon points="229.40,84.15 237.40,70.85 238.00,71.20 238.58,71.57 239.14,71.96 239.68,72.38 240.21,72.83 240.71,73.29"/><polygon points="229.40,84.15 240.01,73.97 240.46,74.42 240.89,74.89 241.30,75.38 241.69,75.89 242.05,76.41 242.39,76.95"/><polygon points="229.40,84.15 241.52,77.43 241.82,77.94 242.09,78.47 242.33,79.01 242.56,79.55 242.75,80.11 242.92,80.67"/><polygon points="229.40,84.15 247.27,79.55 247.46,80.31 247.62,81.07 247.74,81.83 247.83,82.60 247.88,83.38 247.90,84.15"/><polygon points="229.40,84.15 242.40,84.15 242.39,84.69 242.35,85.24 242.29,85.78 242.20,86.32 242.09,86.85 241.96,87.38"/><polygon points="229.40,84.15 240.03,86.88 239.89,87.33 239.74,87.76 239.56,88.19 239.37,88.61 239.16,89.03 238.93,89.43"/><polygon points="229.40,84.15 238.93,89.43 238.68,89.82 238.41,90.21 238.13,90.58 237.83,90.94 237.51,91.28 237.18,91.62"/><polygon points="229.40,84.15 237.53,91.96 237.17,92.29 236.79,92.61 236.40,92.91 236.00,93.19 235.58,93.46 235.15,93.71"/><polygon points="229.40,84.15 234.40,92.46 234.02,92.66 233.63,92.85 233.23,93.02 232.82,93.17 232.41,93.31 231.99,93.42"/><polygon points="229.40,84.15 230.95,89.71 230.70,89.77 230.44,89.82 230.18,89.86 229.92,89.89 229.66,89.90 229.40,89.91"/><polygon points="229.40,84.15 229.40,87.99 229.23,87.99 229.05,87.98 228.88,87.96 228.71,87.93 228.53,87.90 228.36,87.86"/><polygon points="229.40,84.15 228.49,87.40 228.35,87.35 228.20,87.31 228.06,87.25 227.92,87.19 227.78,87.13 227.65,87.06"/><polygon points="229.40,84.15 227.90,86.64 227.79,86.58 227.68,86.51 227.57,86.43 227.47,86.36 227.37,86.27 227.28,86.19"/><polygon points="229.40,84.15 227.28,86.19 227.19,86.10 227.10,86.00 227.02,85.90 226.94,85.80 226.87,85.70 226.80,85.59"/><polygon points="229.40,84.15 226.80,85.59 226.74,85.48 226.68,85.37 226.63,85.25 226.58,85.13 226.54,85.02 226.50,84.90"/><polygon points="229.40,84.15 226.50,84.90 226.47,84.77 226.45,84.65 226.43,84.53 226.41,84.40 226.40,84.28 226.40,84.15"/><polygon points="229.40,84.15 221.40,84.15 221.41,83.82 221.43,83.48 221.47,83.15 221.52,82.82 221.59,82.49 221.67,82.16"/><polygon points="229.40,84.15 191.25,74.34 191.73,72.75 192.28,71.18 192.91,69.64 193.60,68.13 194.36,66.64 195.19,65.19"/><polygon points="229.40,84.15 181.77,57.75 183.01,55.78 184.35,53.87 185.77,52.01 187.27,50.21 188.85,48.48 190.51,46.82"/><polygon points="229.40,84.15 202.18,58.02 203.39,56.90 204.65,55.84 205.96,54.83 207.32,53.88 208.71,52.98 210.15,52.14"/><polygon points="229.40,84.15 216.90,63.37 217.86,62.86 218.83,62.40 219.83,61.98 220.85,61.60 221.88,61.26 222.93,60.97"/><polygon points="229.40,84.15 225.52,70.24 226.15,70.09 226.80,69.97 227.44,69.87 228.09,69.81 228.75,69.76 229.40,69.75"/></clipPath>
<ellipse cx="229.4" cy="84.15" rx="13.4" ry="12.86" fill="none" stroke="#8d8a7a" stroke-width="0.7" clip-path="url(#wclip)"/>
<ellipse cx="229.4" cy="84.15" rx="26.8" ry="25.73" fill="none" stroke="#8d8a7a" stroke-width="0.7" clip-path="url(#wclip)"/>
<ellipse cx="229.4" cy="84.15" rx="40.2" ry="38.59" fill="none" stroke="#8d8a7a" stroke-width="0.7" clip-path="url(#wclip)"/>
<ellipse cx="229.4" cy="84.15" rx="53.6" ry="51.45" fill="none" stroke="#8d8a7a" stroke-width="0.7" clip-path="url(#wclip)"/>
<circle cx="229.40" cy="84.15" r="3.20" fill="#000" stroke="none" stroke-width="0.5" />
<line x1="169.50" y1="84.15" x2="289.30" y2="84.15" stroke="#000" stroke-width="0.75" />
<line x1="229.40" y1="26.65" x2="229.40" y2="141.65" stroke="#000" stroke-width="0.75" />
<text x="229.4" y="22.0" font-size="7.2" text-anchor="middle" fill="#231f20" font-weight="normal" font-style="normal"  stroke="#231f20" stroke-width="0.14">12 a.m.</text>
<text x="229.4" y="150.6" font-size="7.2" text-anchor="middle" fill="#231f20" font-weight="normal" font-style="normal"  stroke="#231f20" stroke-width="0.14">12 p.m.</text>
<text x="226.6" y="100.8" font-size="7.2" text-anchor="end" fill="#231f20" font-weight="normal" font-style="normal"  stroke="#231f20" stroke-width="0.14">100</text>
<text x="226.6" y="137.4" font-size="7.2" text-anchor="end" fill="#231f20" font-weight="normal" font-style="normal"  stroke="#231f20" stroke-width="0.14">400</text>
<text x="232.3" y="119.6" font-size="7.2" text-anchor="start" fill="#231f20" font-weight="normal" font-style="normal"  stroke="#231f20" stroke-width="0.14">#LP</text>
<text x="-0.2" y="168.0" font-size="10.8" text-anchor="start" fill="#000" font-weight="bold" font-style="normal"  stroke="#000" stroke-width="0.14">c</text>
<line x1="26.50" y1="192.00" x2="26.50" y2="313.40" stroke="#c4c4c4" stroke-width="1.1" />
<line x1="118.90" y1="192.00" x2="118.90" y2="313.40" stroke="#6a6a6a" stroke-width="0.55" />
<line x1="26.00" y1="313.40" x2="116.00" y2="313.40" stroke="#c4c4c4" stroke-width="0.9" />
<line x1="24.20" y1="192.30" x2="26.00" y2="192.30" stroke="#555" stroke-width="0.5" />
<line x1="118.90" y1="192.30" x2="121.30" y2="192.30" stroke="#555" stroke-width="0.5" />
<line x1="24.20" y1="222.57" x2="26.00" y2="222.57" stroke="#555" stroke-width="0.5" />
<line x1="118.90" y1="222.57" x2="121.30" y2="222.57" stroke="#555" stroke-width="0.5" />
<line x1="24.20" y1="252.84" x2="26.00" y2="252.84" stroke="#555" stroke-width="0.5" />
<line x1="118.90" y1="252.84" x2="121.30" y2="252.84" stroke="#555" stroke-width="0.5" />
<line x1="24.20" y1="283.11" x2="26.00" y2="283.11" stroke="#555" stroke-width="0.5" />
<line x1="118.90" y1="283.11" x2="121.30" y2="283.11" stroke="#555" stroke-width="0.5" />
<line x1="24.20" y1="313.38" x2="26.00" y2="313.38" stroke="#555" stroke-width="0.5" />
<line x1="118.90" y1="313.38" x2="121.30" y2="313.38" stroke="#555" stroke-width="0.5" />
<line x1="57.00" y1="313.40" x2="57.00" y2="315.40" stroke="#555" stroke-width="0.5" />
<line x1="86.30" y1="313.40" x2="86.30" y2="315.40" stroke="#555" stroke-width="0.5" />
<line x1="115.30" y1="313.40" x2="115.30" y2="315.40" stroke="#555" stroke-width="0.5" />
<line x1="28.00" y1="313.40" x2="28.00" y2="315.40" stroke="#555" stroke-width="0.5" />
<text x="21.9" y="194.8" font-size="7.2" text-anchor="end" fill="#231f20" font-weight="normal" font-style="normal"  stroke="#231f20" stroke-width="0.14">200</text>
<text x="21.9" y="315.9" font-size="7.2" text-anchor="end" fill="#231f20" font-weight="normal" font-style="normal"  stroke="#231f20" stroke-width="0.14">0</text>
<text x="122.6" y="194.8" font-size="7.2" text-anchor="start" fill="#231f20" font-weight="normal" font-style="normal"  stroke="#231f20" stroke-width="0.14">2,000</text>
<text x="122.6" y="315.9" font-size="7.2" text-anchor="start" fill="#231f20" font-weight="normal" font-style="normal"  stroke="#231f20" stroke-width="0.14">0</text>
<text x="28.0" y="323.7" font-size="7.2" text-anchor="middle" fill="#231f20" font-weight="normal" font-style="normal"  stroke="#231f20" stroke-width="0.14">1</text>
<text x="115.9" y="323.7" font-size="7.2" text-anchor="middle" fill="#231f20" font-weight="normal" font-style="normal"  stroke="#231f20" stroke-width="0.14">4</text>
<text x="72.4" y="332.2" font-size="7.2" text-anchor="middle" fill="#231f20" font-weight="normal" font-style="normal"  stroke="#231f20" stroke-width="0.14">Time (days)</text>
<text x="28.0" y="307.8" font-size="7.2" fill="#231f20" stroke="#231f20" stroke-width="0.14"><tspan font-style="italic">n</tspan> = 62</text>
<polyline points="28.20,244.30 57.20,203.40 86.00,204.30 115.00,219.10" fill="none" stroke="#d6d6d6" stroke-width="4.6" stroke-linejoin="round" stroke-linecap="round" />
<polyline points="28.20,244.30 57.20,203.40 86.00,204.30 115.00,219.10" fill="none" stroke="#111" stroke-width="1.25" stroke-linejoin="round" stroke-linecap="round" />
<polyline points="28.20,265.00 57.20,281.00 86.00,287.90 115.00,292.90" fill="none" stroke="#e4e4e4" stroke-width="4.2" stroke-linejoin="round" stroke-linecap="round" />
<polyline points="28.20,265.00 57.20,281.00 86.00,287.90 115.00,292.90" fill="none" stroke="#b3b3b3" stroke-width="1.6" stroke-linejoin="round" stroke-linecap="round" />
<line x1="38.50" y1="195.50" x2="108.20" y2="195.50" stroke="#555" stroke-width="0.55" />
<text x="73.4" y="196.2" font-size="8.5" text-anchor="middle" fill="#231f20" font-weight="normal" font-style="normal"  stroke="#231f20" stroke-width="0.14">****</text>
<line x1="35.60" y1="258.50" x2="105.20" y2="258.50" stroke="#555" stroke-width="0.55" />
<text x="70.6" y="259.3" font-size="8.5" text-anchor="middle" fill="#231f20" font-weight="normal" font-style="normal"  stroke="#231f20" stroke-width="0.14">****</text>
<g transform="translate(6.6,245.6) rotate(-90)"><text x="0" y="0" font-size="7.2" fill="#231f20" text-anchor="middle" stroke="#231f20" stroke-width="0.14">#LP</text></g>
<line x1="4.20" y1="256.70" x2="4.20" y2="267.20" stroke="#111" stroke-width="0.9" />
<g transform="translate(140.4,246.5) rotate(-90)"><text x="0" y="0" font-size="7.2" fill="#231f20" text-anchor="middle" stroke="#231f20" stroke-width="0.14">#BB</text></g>
<line x1="138.00" y1="255.20" x2="138.00" y2="266.20" stroke="#aaa" stroke-width="0.9" />
<rect x="175.50" y="199.00" width="25.50" height="114.50" fill="#cbad99" stroke="none" stroke-width="0.5" />
<rect x="201.00" y="199.00" width="89.30" height="114.50" fill="#f5e9e1" stroke="none" stroke-width="0.5" />
<rect x="184.20" y="300.70" width="3.50" height="12.80" fill="#a9a9a9" stroke="#222" stroke-width="0.45" />
<rect x="187.70" y="211.00" width="2.00" height="102.50" fill="#a9a9a9" stroke="#222" stroke-width="0.45" />
<rect x="189.70" y="203.20" width="2.20" height="110.30" fill="#a9a9a9" stroke="#222" stroke-width="0.45" />
<rect x="191.90" y="203.20" width="2.30" height="110.30" fill="#a9a9a9" stroke="#222" stroke-width="0.45" />
<rect x="194.20" y="247.90" width="2.20" height="65.60" fill="#a9a9a9" stroke="#222" stroke-width="0.45" />
<rect x="196.40" y="257.90" width="2.40" height="55.60" fill="#a9a9a9" stroke="#222" stroke-width="0.45" />
<rect x="198.80" y="267.90" width="2.20" height="45.60" fill="#a9a9a9" stroke="#222" stroke-width="0.45" />
<rect x="201.00" y="274.30" width="2.70" height="39.20" fill="#a9a9a9" stroke="#222" stroke-width="0.45" />
<rect x="203.70" y="282.50" width="2.40" height="31.00" fill="#a9a9a9" stroke="#222" stroke-width="0.45" />
<rect x="206.10" y="286.10" width="2.20" height="27.40" fill="#a9a9a9" stroke="#222" stroke-width="0.45" />
<rect x="208.30" y="288.00" width="2.20" height="25.50" fill="#a9a9a9" stroke="#222" stroke-width="0.45" />
<rect x="210.50" y="289.80" width="2.30" height="23.70" fill="#a9a9a9" stroke="#222" stroke-width="0.45" />
<rect x="212.80" y="291.60" width="2.40" height="21.90" fill="#a9a9a9" stroke="#222" stroke-width="0.45" />
<rect x="215.20" y="294.30" width="2.60" height="19.20" fill="#a9a9a9" stroke="#222" stroke-width="0.45" />
<rect x="217.80" y="297.10" width="2.30" height="16.40" fill="#a9a9a9" stroke="#222" stroke-width="0.45" />
<rect x="220.10" y="299.80" width="2.80" height="13.70" fill="#a9a9a9" stroke="#222" stroke-width="0.45" />
<rect x="222.90" y="299.80" width="2.70" height="13.70" fill="#a9a9a9" stroke="#222" stroke-width="0.45" />
<rect x="225.60" y="300.70" width="2.70" height="12.80" fill="#a9a9a9" stroke="#222" stroke-width="0.45" />
<rect x="228.30" y="301.60" width="2.70" height="11.90" fill="#a9a9a9" stroke="#222" stroke-width="0.45" />
<rect x="231.00" y="302.50" width="2.80" height="11.00" fill="#a9a9a9" stroke="#222" stroke-width="0.45" />
<rect x="233.80" y="303.50" width="2.70" height="10.00" fill="#a9a9a9" stroke="#222" stroke-width="0.45" />
<rect x="236.50" y="304.40" width="2.70" height="9.10" fill="#a9a9a9" stroke="#222" stroke-width="0.45" />
<rect x="239.20" y="305.00" width="2.70" height="8.50" fill="#a9a9a9" stroke="#222" stroke-width="0.45" />
<rect x="241.90" y="305.60" width="2.70" height="7.90" fill="#a9a9a9" stroke="#222" stroke-width="0.45" />
<rect x="244.60" y="306.00" width="2.70" height="7.50" fill="#a9a9a9" stroke="#222" stroke-width="0.45" />
<rect x="247.30" y="306.40" width="2.70" height="7.10" fill="#a9a9a9" stroke="#222" stroke-width="0.45" />
<rect x="250.00" y="306.80" width="2.70" height="6.70" fill="#a9a9a9" stroke="#222" stroke-width="0.45" />
<rect x="252.70" y="307.00" width="2.70" height="6.50" fill="#a9a9a9" stroke="#222" stroke-width="0.45" />
<rect x="255.40" y="307.20" width="2.70" height="6.30" fill="#a9a9a9" stroke="#222" stroke-width="0.45" />
<rect x="258.10" y="307.30" width="2.70" height="6.20" fill="#a9a9a9" stroke="#222" stroke-width="0.45" />
<rect x="260.80" y="307.40" width="2.70" height="6.10" fill="#a9a9a9" stroke="#222" stroke-width="0.45" />
<rect x="263.50" y="307.60" width="2.70" height="5.90" fill="#a9a9a9" stroke="#222" stroke-width="0.45" />
<rect x="266.20" y="307.80" width="2.70" height="5.70" fill="#a9a9a9" stroke="#222" stroke-width="0.45" />
<rect x="268.90" y="307.20" width="2.70" height="6.30" fill="#a9a9a9" stroke="#222" stroke-width="0.45" />
<rect x="271.60" y="307.60" width="2.70" height="5.90" fill="#a9a9a9" stroke="#222" stroke-width="0.45" />
<rect x="274.30" y="308.00" width="2.70" height="5.50" fill="#a9a9a9" stroke="#222" stroke-width="0.45" />
<rect x="277.00" y="308.40" width="2.70" height="5.10" fill="#a9a9a9" stroke="#222" stroke-width="0.45" />
<rect x="279.70" y="308.60" width="2.70" height="4.90" fill="#a9a9a9" stroke="#222" stroke-width="0.45" />
<rect x="282.40" y="309.40" width="2.70" height="4.10" fill="#a9a9a9" stroke="#222" stroke-width="0.45" />
<rect x="285.10" y="310.40" width="2.70" height="3.10" fill="#a9a9a9" stroke="#222" stroke-width="0.45" />
<rect x="287.80" y="311.40" width="2.50" height="2.10" fill="#a9a9a9" stroke="#222" stroke-width="0.45" />
<polyline points="180.50,313.40 182.50,312.60 184.00,309.00 185.50,296.00 187.00,262.00 188.50,225.00 190.00,206.00 191.50,203.40 193.00,208.00 194.50,222.00 196.00,240.00 198.00,256.00 200.00,266.00 202.50,274.00 205.00,280.00 208.00,285.50 212.00,290.00 216.00,293.50 220.00,297.50 224.00,299.60 228.00,300.80 234.00,302.60 240.00,304.60 248.00,306.20 256.00,307.00 264.00,307.40 270.00,307.00 276.00,308.00 282.00,308.80 286.00,310.40 290.00,311.80" fill="none" stroke="#111" stroke-width="1.1" stroke-linejoin="round" stroke-linecap="round" />
<line x1="201.00" y1="195.60" x2="201.00" y2="313.50" stroke="#e8222a" stroke-width="1.6" />
<text x="203.2" y="211.3" font-size="7.2" text-anchor="start" fill="#e3252c" font-weight="normal" font-style="normal"  stroke="#e3252c" stroke-width="0.14">6 s</text>
<line x1="174.60" y1="190.80" x2="174.60" y2="313.50" stroke="#777" stroke-width="0.55" />
<line x1="174.60" y1="313.60" x2="291.00" y2="313.60" stroke="#777" stroke-width="0.55" />
<line x1="172.40" y1="313.50" x2="174.60" y2="313.50" stroke="#555" stroke-width="0.5" />
<line x1="172.40" y1="282.80" x2="174.60" y2="282.80" stroke="#555" stroke-width="0.5" />
<line x1="172.40" y1="252.10" x2="174.60" y2="252.10" stroke="#555" stroke-width="0.5" />
<line x1="172.40" y1="221.40" x2="174.60" y2="221.40" stroke="#555" stroke-width="0.5" />
<line x1="172.40" y1="190.70" x2="174.60" y2="190.70" stroke="#555" stroke-width="0.5" />
<line x1="181.80" y1="313.60" x2="181.80" y2="315.80" stroke="#555" stroke-width="0.5" />
<line x1="214.70" y1="313.60" x2="214.70" y2="315.80" stroke="#555" stroke-width="0.5" />
<line x1="247.60" y1="313.60" x2="247.60" y2="315.80" stroke="#555" stroke-width="0.5" />
<line x1="280.50" y1="313.60" x2="280.50" y2="315.80" stroke="#555" stroke-width="0.5" />
<text x="170.8" y="194.0" font-size="7.2" text-anchor="end" fill="#231f20" font-weight="normal" font-style="normal"  stroke="#231f20" stroke-width="0.14">20</text>
<text x="170.8" y="316.0" font-size="7.2" text-anchor="end" fill="#231f20" font-weight="normal" font-style="normal"  stroke="#231f20" stroke-width="0.14">0</text>
<text x="181.8" y="324.6" font-size="7.2" text-anchor="middle" fill="#231f20" font-weight="normal" font-style="normal"  stroke="#231f20" stroke-width="0.14">0</text>
<text x="280.4" y="324.6" font-size="7.2" text-anchor="middle" fill="#231f20" font-weight="normal" font-style="normal"  stroke="#231f20" stroke-width="0.14">30</text>
<text x="237.0" y="334.0" font-size="7.2" text-anchor="middle" fill="#231f20" font-weight="normal" font-style="normal"  stroke="#231f20" stroke-width="0.14">LP–BB latency (s)</text>
<g transform="translate(155.9,252.6) rotate(-90)"><text x="0" y="0" font-size="7.2" fill="#231f20" text-anchor="middle" stroke="#231f20" stroke-width="0.14">Distribution (%)</text></g>
<text x="187.0" y="176.2" font-size="7.2" text-anchor="middle" fill="#231f20" font-weight="normal" font-style="normal"  stroke="#231f20" stroke-width="0.14">Complete</text>
<text x="187.0" y="185.5" font-size="7.2" text-anchor="middle" fill="#231f20" font-weight="normal" font-style="normal"  stroke="#231f20" stroke-width="0.14">sequence</text>
<line x1="187.00" y1="187.50" x2="187.00" y2="196.20" stroke="#111" stroke-width="0.6" />
<polygon points="187.00,198.60 185.40,194.60 188.60,194.60" fill="#111" stroke="none" stroke-width="0.5" />
<text x="247.0" y="181.7" font-size="7.2" text-anchor="middle" fill="#231f20" font-weight="normal" font-style="normal"  stroke="#231f20" stroke-width="0.14">Incomplete</text>
<text x="247.0" y="190.6" font-size="7.2" text-anchor="middle" fill="#231f20" font-weight="normal" font-style="normal"  stroke="#231f20" stroke-width="0.14">sequence</text>
<line x1="209.00" y1="196.10" x2="286.50" y2="196.10" stroke="#333" stroke-width="0.55" />
<polygon points="206.80,196.10 210.20,194.80 210.20,197.40" fill="#333" stroke="none" stroke-width="0.5" />
<polygon points="288.60,196.10 285.20,194.80 285.20,197.40" fill="#333" stroke="none" stroke-width="0.5" />
<line x1="232.70" y1="210.00" x2="232.70" y2="267.10" stroke="#666" stroke-width="0.5" />
<line x1="232.70" y1="267.10" x2="275.60" y2="267.10" stroke="#999" stroke-width="0.5" />
<line x1="232.70" y1="267.10" x2="234.30" y2="267.10" stroke="#666" stroke-width="0.4" />
<line x1="232.70" y1="257.67" x2="234.30" y2="257.67" stroke="#666" stroke-width="0.4" />
<line x1="232.70" y1="248.24" x2="234.30" y2="248.24" stroke="#666" stroke-width="0.4" />
<line x1="232.70" y1="238.81" x2="234.30" y2="238.81" stroke="#666" stroke-width="0.4" />
<line x1="232.70" y1="229.38" x2="234.30" y2="229.38" stroke="#666" stroke-width="0.4" />
<line x1="232.70" y1="219.95" x2="234.30" y2="219.95" stroke="#666" stroke-width="0.4" />
<line x1="232.70" y1="210.52" x2="234.30" y2="210.52" stroke="#666" stroke-width="0.4" />
<line x1="246.90" y1="267.10" x2="246.90" y2="265.50" stroke="#666" stroke-width="0.4" />
<line x1="261.10" y1="267.10" x2="261.10" y2="265.50" stroke="#666" stroke-width="0.4" />
<line x1="275.20" y1="267.10" x2="275.20" y2="265.50" stroke="#666" stroke-width="0.4" />
<text x="229.0" y="213.0" font-size="7.2" text-anchor="end" fill="#231f20" font-weight="normal" font-style="normal"  stroke="#231f20" stroke-width="0.14">60</text>
<text x="229.0" y="269.6" font-size="7.2" text-anchor="end" fill="#231f20" font-weight="normal" font-style="normal"  stroke="#231f20" stroke-width="0.14">0</text>
<text x="232.7" y="277.8" font-size="7.2" text-anchor="middle" fill="#231f20" font-weight="normal" font-style="normal"  stroke="#231f20" stroke-width="0.14">1</text>
<text x="274.6" y="277.8" font-size="7.2" text-anchor="middle" fill="#231f20" font-weight="normal" font-style="normal"  stroke="#231f20" stroke-width="0.14">4</text>
<text x="254.2" y="287.4" font-size="7.2" text-anchor="middle" fill="#231f20" font-weight="normal" font-style="normal"  stroke="#231f20" stroke-width="0.14">Time (days)</text>
<g transform="translate(220.4,237.8) rotate(-90)"><text x="0" y="0" font-size="7.2" fill="#231f20" text-anchor="middle" stroke="#231f20" stroke-width="0.14">%CS</text></g>
<text x="235.0" y="264.2" font-size="7.2" fill="#231f20" stroke="#231f20" stroke-width="0.14"><tspan font-style="italic">n</tspan> = 62</text>
<polyline points="232.70,254.30 246.90,238.20 261.10,235.10 275.20,234.80" fill="none" stroke="#e6c2ad" stroke-width="3.6" stroke-linejoin="round" stroke-linecap="round" />
<polyline points="232.70,254.30 246.90,238.20 261.10,235.10 275.20,234.80" fill="none" stroke="#9a4b26" stroke-width="1.5" stroke-linejoin="round" stroke-linecap="round" />
<line x1="236.30" y1="221.50" x2="275.20" y2="221.50" stroke="#666" stroke-width="0.55" />
<text x="256.0" y="223.3" font-size="8.5" text-anchor="middle" fill="#231f20" font-weight="normal" font-style="normal"  stroke="#231f20" stroke-width="0.14">****</text>
<text x="305.0" y="7.2" font-size="10.8" text-anchor="start" fill="#000" font-weight="bold" font-style="normal"  stroke="#000" stroke-width="0.14">d</text>
<text x="328.0" y="30.4" font-size="7.2" text-anchor="start" fill="#9a9a9a" font-weight="normal" font-style="normal"  stroke="#9a9a9a" stroke-width="0.14">DAT-Cre</text>
<text x="328.0" y="47.0" font-size="7.2" fill="#231f20" stroke="#231f20" stroke-width="0.14">(<tspan font-style="italic">n</tspan> = 10 mice)</text>
<circle cx="336.00" cy="60.30" r="6.80" fill="#abc8a6" stroke="none" stroke-width="0.5" />
<text x="336.0" y="62.9" font-size="7.2" text-anchor="middle" fill="#231f20" font-weight="normal" font-style="normal"  stroke="#231f20" stroke-width="0.14">1</text>
<text x="347.4" y="63.0" font-size="7.2" text-anchor="start" fill="#231f20" font-weight="normal" font-style="normal"  stroke="#231f20" stroke-width="0.14">Optic fibre</text>
<circle cx="336.00" cy="79.00" r="6.80" fill="#abc8a6" stroke="none" stroke-width="0.5" />
<text x="336.0" y="81.6" font-size="7.2" text-anchor="middle" fill="#231f20" font-weight="normal" font-style="normal"  stroke="#231f20" stroke-width="0.14">2</text>
<text x="347.4" y="81.6" font-size="7.2" text-anchor="start" fill="#3a9f45" font-weight="normal" font-style="normal"  stroke="#3a9f45" stroke-width="0.14">AAV1-Syn-FLEX-GCaMP7c</text>
<g transform="translate(0.000,0.000) scale(1,1)"><path d="M386.2,38.7 C385.6,33.2 390.5,29.6 395.5,29.8 C400,30 404,31 406,33.5 C406.8,34.5 407.2,35.5 407.4,36.5 C407.8,34 408.5,31.5 410,30.2 C422,26 438,22 452,21.8 C460,21.8 466,24 470,29.5 C472,26.8 474,26.3 476.4,26.6 C481,27 486,30 490,33.5 C493,37 495.5,41 496.4,45.3 C497.5,49 498,51 497.7,52.5 C497,53.5 496,54 495.5,54.4 C497,57 499,59 500,63.5 C500.3,66 498.5,67 496.4,67.1 C490,68.5 484,70 478.2,70.3 C472,70.5 468,69.5 464.5,68.9 C463,68.6 462,68.4 461.5,67.5 C460.5,65.5 459.8,64 459.2,63.8 C458.2,65.8 456.5,67.6 454.5,68.6 C448,70.6 441,70.6 433,69 C424,67.2 416,64.5 408,60.5 C400,56.4 393,52 389.5,47.5 C387.5,44.8 386.4,41.8 386.2,38.7 Z" fill="#f2dcbe" stroke="#2a2a2a" stroke-width="0.600"/><path d="M407.4,36.5 C407.6,38.5 407.5,40 407,41.8 M470,29.5 C470.3,34 470.8,37.5 471.8,40.7 C472.5,44 473,46.5 473.6,48 C476,50 479,50.8 481.8,50.7 M476.4,26.6 C474.6,29 474.2,32 475.6,34.5 M479.5,28 C477.8,31 477.8,35 479.8,38 C478.3,40.5 477.8,43.5 479.3,46.3 M484.5,29 C483,32.5 483.2,36 484.8,39.5 M487.5,31.5 C486,35 486.5,40 488.5,43.5 C490.5,45.5 492.5,46.5 494.8,47 M490.5,36 C491.5,39 493,41 495,42 M482.5,43.5 C485,47 488,49.5 491.5,50.8 M475.5,38 C473.8,41 474.2,44.5 476.4,46.8" fill="none" stroke="#2a2a2a" stroke-width="0.700" stroke-linecap="round"/></g>
<defs><radialGradient id="glow"><stop offset="0" stop-color="#3dbb3d" stop-opacity="1"/><stop offset="0.55" stop-color="#52c452" stop-opacity="0.9"/><stop offset="1" stop-color="#7fd07f" stop-opacity="0"/></radialGradient></defs>
<circle cx="458.80" cy="57.20" r="6.20" fill="url(#glow)" stroke="none" stroke-width="0.5" />
<line x1="458.70" y1="7.50" x2="458.70" y2="36.50" stroke="#6a6a6a" stroke-width="1.3" />
<line x1="458.70" y1="7.50" x2="458.70" y2="36.50" stroke="#c8c8c8" stroke-width="0.45" />
<line x1="458.70" y1="36.20" x2="458.70" y2="55.00" stroke="#2f6e2f" stroke-width="1.3" />
<line x1="474.30" y1="9.30" x2="469.80" y2="23.50" stroke="#1a1a1a" stroke-width="1.7" />
<line x1="469.80" y1="23.50" x2="459.40" y2="56.00" stroke="#3b8fd6" stroke-width="0.8" />
<circle cx="447.80" cy="10.60" r="6.60" fill="#abc8a6" stroke="none" stroke-width="0.5" />
<text x="447.8" y="13.2" font-size="7.2" text-anchor="middle" fill="#231f20" font-weight="normal" font-style="normal"  stroke="#231f20" stroke-width="0.14">2</text>
<circle cx="482.00" cy="15.20" r="6.60" fill="#abc8a6" stroke="none" stroke-width="0.5" />
<text x="482.0" y="17.8" font-size="7.2" text-anchor="middle" fill="#231f20" font-weight="normal" font-style="normal"  stroke="#231f20" stroke-width="0.14">1</text>
<text x="437.3" y="61.0" font-size="7.2" text-anchor="middle" fill="#231f20" font-weight="normal" font-style="normal"  stroke="#231f20" stroke-width="0.14">VTA</text>
<line x1="333.00" y1="152.40" x2="502.50" y2="152.40" stroke="#a0a0a0" stroke-width="0.9" stroke-dasharray="3.2,2.4"/>
<line x1="333.00" y1="228.00" x2="502.50" y2="228.00" stroke="#a0a0a0" stroke-width="0.9" stroke-dasharray="3.2,2.4"/>
<line x1="333.00" y1="301.80" x2="502.50" y2="301.80" stroke="#a0a0a0" stroke-width="0.9" stroke-dasharray="3.2,2.4"/>
<polygon points="331.40,147.17 332.05,147.13 332.71,147.87 333.36,148.22 334.02,147.36 334.67,146.60 335.33,146.50 335.98,146.88 336.64,146.67 337.29,147.56 337.95,149.28 338.60,150.01 339.26,149.90 339.91,148.93 340.57,148.94 341.22,148.06 341.88,147.32 342.53,146.84 343.19,146.99 343.84,146.55 344.50,145.58 345.15,145.04 345.81,144.26 346.46,144.44 347.12,144.84 347.77,144.95 348.43,145.96 349.08,146.59 349.74,147.29 350.39,146.81 351.05,147.81 351.70,148.31 352.36,148.71 353.01,149.59 353.67,150.31 354.32,150.20 354.98,148.60 355.63,148.32 356.29,146.54 356.94,145.20 357.60,144.43 358.25,146.00 358.91,145.15 359.56,145.76 360.22,145.96 360.88,147.00 361.53,146.96 362.19,147.46 362.84,147.03 363.50,148.70 364.15,149.00 364.81,148.76 365.46,148.71 366.12,148.74 366.77,146.79 367.42,145.28 368.08,143.43 368.74,141.66 369.39,140.52 370.04,140.22 370.70,139.11 371.36,138.42 372.01,139.93 372.66,140.07 373.32,140.57 373.98,141.32 374.63,143.25 375.28,143.70 375.94,144.22 376.59,144.70 377.25,144.90 377.90,145.58 378.56,146.26 379.21,146.98 379.87,148.65 380.52,149.02 381.18,148.32 381.83,148.21 382.49,147.70 383.14,146.08 383.80,147.38 384.45,147.73 385.11,147.95 385.76,149.09 386.42,149.56 387.07,148.21 387.73,148.78 388.38,148.90 389.04,148.86 389.69,150.08 390.35,150.09 391.00,150.53 391.66,149.79 392.31,150.01 392.97,148.78 393.62,148.95 394.28,146.52 394.94,145.81 395.59,145.14 396.25,144.63 396.90,145.20 397.56,146.69 398.21,148.01 398.87,147.96 399.52,149.35 400.18,149.63 400.83,150.73 401.49,151.27 402.14,151.50 402.80,150.62 403.45,149.81 404.11,148.14 404.76,146.39 405.42,146.83 406.07,145.82 406.73,146.48 407.38,146.66 408.03,145.89 408.69,145.13 409.35,145.83 410.00,145.13 410.00,151.57 409.35,152.27 408.69,151.57 408.03,152.33 407.38,153.10 406.73,152.92 406.07,152.26 405.42,153.26 404.76,152.83 404.11,154.57 403.45,156.24 402.80,157.05 402.14,157.94 401.49,157.71 400.83,157.17 400.18,156.06 399.52,155.79 398.87,154.40 398.21,154.44 397.56,153.13 396.90,151.64 396.25,151.06 395.59,151.58 394.94,152.24 394.28,152.96 393.62,155.38 392.97,155.21 392.31,156.45 391.66,156.22 391.00,156.96 390.35,156.53 389.69,156.51 389.04,155.30 388.38,155.33 387.73,155.22 387.07,154.64 386.42,156.00 385.76,155.52 385.11,154.39 384.45,154.16 383.80,153.81 383.14,152.52 382.49,154.14 381.83,154.65 381.18,154.76 380.52,155.46 379.87,155.08 379.21,153.42 378.56,152.70 377.90,152.01 377.25,151.34 376.59,151.13 375.94,150.66 375.28,150.14 374.63,149.68 373.98,147.76 373.32,147.01 372.66,146.51 372.01,146.37 371.36,144.86 370.70,145.54 370.04,146.66 369.39,146.95 368.74,148.10 368.08,149.87 367.42,151.72 366.77,153.22 366.12,155.18 365.46,155.15 364.81,155.19 364.15,155.43 363.50,155.13 362.84,153.47 362.19,153.90 361.53,153.40 360.88,153.44 360.22,152.39 359.56,152.20 358.91,151.58 358.25,152.43 357.60,150.87 356.94,151.64 356.29,152.98 355.63,154.75 354.98,155.03 354.32,156.63 353.67,156.75 353.01,156.02 352.36,155.15 351.70,154.75 351.05,154.25 350.39,153.25 349.74,153.72 349.08,153.02 348.43,152.39 347.77,151.38 347.12,151.27 346.46,150.88 345.81,150.70 345.15,151.48 344.50,152.02 343.84,152.98 343.19,153.43 342.53,153.28 341.88,153.76 341.22,154.50 340.57,155.37 339.91,155.36 339.26,156.33 338.60,156.45 337.95,155.71 337.29,153.99 336.64,153.10 335.98,153.31 335.33,152.94 334.67,153.03 334.02,153.79 333.36,154.65 332.71,154.31 332.05,153.57 331.40,153.61" fill="#c8c8c8" stroke="none" stroke-width="0.5" />
<polyline points="331.40,150.39 332.05,150.35 332.71,151.09 333.36,151.43 334.02,150.57 334.67,149.81 335.33,149.72 335.98,150.09 336.64,149.88 337.29,150.78 337.95,152.50 338.60,153.23 339.26,153.12 339.91,152.15 340.57,152.16 341.22,151.28 341.88,150.54 342.53,150.06 343.19,150.21 343.84,149.77 344.50,148.80 345.15,148.26 345.81,147.48 346.46,147.66 347.12,148.06 347.77,148.16 348.43,149.18 349.08,149.81 349.74,150.51 350.39,150.03 351.05,151.03 351.70,151.53 352.36,151.93 353.01,152.81 353.67,153.53 354.32,153.41 354.98,151.81 355.63,151.54 356.29,149.76 356.94,148.42 357.60,147.65 358.25,149.22 358.91,148.37 359.56,148.98 360.22,149.18 360.88,150.22 361.53,150.18 362.19,150.68 362.84,150.25 363.50,151.92 364.15,152.21 364.81,151.98 365.46,151.93 366.12,151.96 366.77,150.00 367.42,148.50 368.08,146.65 368.74,144.88 369.39,143.73 370.04,143.44 370.70,142.32 371.36,141.64 372.01,143.15 372.66,143.29 373.32,143.79 373.98,144.54 374.63,146.47 375.28,146.92 375.94,147.44 376.59,147.92 377.25,148.12 377.90,148.80 378.56,149.48 379.21,150.20 379.87,151.86 380.52,152.24 381.18,151.54 381.83,151.43 382.49,150.92 383.14,149.30 383.80,150.59 384.45,150.95 385.11,151.17 385.76,152.31 386.42,152.78 387.07,151.42 387.73,152.00 388.38,152.11 389.04,152.08 389.69,153.30 390.35,153.31 391.00,153.75 391.66,153.00 392.31,153.23 392.97,151.99 393.62,152.16 394.28,149.74 394.94,149.03 395.59,148.36 396.25,147.84 396.90,148.42 397.56,149.91 398.21,151.22 398.87,151.18 399.52,152.57 400.18,152.85 400.83,153.95 401.49,154.49 402.14,154.72 402.80,153.84 403.45,153.03 404.11,151.35 404.76,149.61 405.42,150.05 406.07,149.04 406.73,149.70 407.38,149.88 408.03,149.11 408.69,148.35 409.35,149.05 410.00,148.35" fill="none" stroke="#111" stroke-width="1.05" stroke-linejoin="round" stroke-linecap="round" />
<polygon points="424.20,147.59 424.83,149.54 425.47,149.41 426.10,150.01 426.74,150.65 427.37,151.53 428.00,151.06 428.64,151.00 429.27,151.08 429.91,150.30 430.54,150.14 431.18,151.55 431.81,150.77 432.44,150.50 433.08,151.11 433.71,150.69 434.35,148.89 434.98,149.49 435.62,149.73 436.25,149.24 436.88,150.19 437.52,149.55 438.15,150.24 438.79,149.90 439.42,149.99 440.05,149.07 440.69,149.96 441.32,149.04 441.96,150.84 442.59,150.97 443.23,151.23 443.86,151.40 444.49,150.92 445.13,149.60 445.76,149.59 446.40,150.57 447.03,150.20 447.66,151.85 448.30,152.17 448.93,150.89 449.57,149.45 450.20,149.60 450.83,148.66 451.47,148.59 452.10,150.39 452.74,150.53 453.37,151.65 454.01,151.59 454.64,151.75 455.27,151.13 455.91,151.95 456.54,149.90 457.18,149.50 457.81,148.86 458.44,149.92 459.08,149.75 459.71,150.70 460.35,151.73 460.98,151.12 461.62,149.01 462.25,147.13 462.88,144.39 463.52,139.13 464.15,135.05 464.79,132.77 465.42,115.86 466.06,119.33 466.69,125.18 467.32,129.83 467.96,132.90 468.59,134.57 469.23,136.82 469.86,137.39 470.49,137.00 471.13,138.73 471.76,138.93 472.40,138.99 473.03,139.47 473.67,139.89 474.30,139.86 474.93,139.89 475.57,140.31 476.20,140.50 476.84,141.26 477.47,140.75 478.10,141.09 478.74,140.09 479.37,138.12 480.01,136.58 480.64,135.56 481.27,135.33 481.91,136.86 482.54,139.09 483.18,139.98 483.81,142.24 484.45,142.88 485.08,142.58 485.71,143.07 486.35,143.98 486.98,142.76 487.62,142.20 488.25,142.21 488.88,141.64 489.52,142.03 490.15,142.47 490.79,143.69 491.42,144.36 492.06,145.61 492.69,145.55 493.32,145.34 493.96,145.62 494.59,145.73 495.23,145.22 495.86,145.57 496.50,145.74 497.13,145.26 497.76,145.52 498.40,145.62 499.03,144.19 499.67,143.11 500.30,141.42 500.30,147.85 499.67,149.54 499.03,150.63 498.40,152.06 497.76,151.96 497.13,151.70 496.50,152.18 495.86,152.00 495.23,151.65 494.59,152.17 493.96,152.05 493.32,151.77 492.69,151.99 492.06,152.05 491.42,150.80 490.79,150.13 490.15,148.91 489.52,148.47 488.88,148.07 488.25,148.64 487.62,148.63 486.98,149.19 486.35,150.42 485.71,149.50 485.08,149.01 484.45,149.31 483.81,148.68 483.18,146.41 482.54,145.53 481.91,143.29 481.27,141.76 480.64,141.99 480.01,143.02 479.37,144.55 478.74,146.53 478.10,147.52 477.47,147.19 476.84,147.69 476.20,146.93 475.57,146.75 474.93,146.33 474.30,146.30 473.67,146.32 473.03,145.91 472.40,145.43 471.76,145.36 471.13,145.17 470.49,143.43 469.86,143.83 469.23,143.26 468.59,141.01 467.96,139.34 467.32,136.26 466.69,131.61 466.06,125.77 465.42,122.29 464.79,139.21 464.15,141.48 463.52,145.56 462.88,150.82 462.25,153.57 461.62,155.45 460.98,157.56 460.35,158.16 459.71,157.14 459.08,156.19 458.44,156.36 457.81,155.29 457.18,155.94 456.54,156.33 455.91,158.38 455.27,157.57 454.64,158.19 454.01,158.03 453.37,158.08 452.74,156.97 452.10,156.82 451.47,155.03 450.83,155.09 450.20,156.03 449.57,155.89 448.93,157.32 448.30,158.60 447.66,158.29 447.03,156.63 446.40,157.00 445.76,156.02 445.13,156.03 444.49,157.36 443.86,157.84 443.23,157.67 442.59,157.40 441.96,157.27 441.32,155.48 440.69,156.39 440.05,155.51 439.42,156.43 438.79,156.34 438.15,156.68 437.52,155.99 436.88,156.62 436.25,155.68 435.62,156.17 434.98,155.92 434.35,155.33 433.71,157.12 433.08,157.55 432.44,156.94 431.81,157.21 431.18,157.98 430.54,156.58 429.91,156.73 429.27,157.51 428.64,157.43 428.00,157.50 427.37,157.97 426.74,157.09 426.10,156.45 425.47,155.85 424.83,155.98 424.20,154.02" fill="#c5c3e8" stroke="none" stroke-width="0.5" />
<polyline points="424.20,150.80 424.83,152.76 425.47,152.63 426.10,153.23 426.74,153.87 427.37,154.75 428.00,154.28 428.64,154.22 429.27,154.30 429.91,153.51 430.54,153.36 431.18,154.76 431.81,153.99 432.44,153.72 433.08,154.33 433.71,153.90 434.35,152.11 434.98,152.71 435.62,152.95 436.25,152.46 436.88,153.40 437.52,152.77 438.15,153.46 438.79,153.12 439.42,153.21 440.05,152.29 440.69,153.17 441.32,152.26 441.96,154.05 442.59,154.19 443.23,154.45 443.86,154.62 444.49,154.14 445.13,152.81 445.76,152.80 446.40,153.79 447.03,153.42 447.66,155.07 448.30,155.39 448.93,154.10 449.57,152.67 450.20,152.82 450.83,151.87 451.47,151.81 452.10,153.60 452.74,153.75 453.37,154.87 454.01,154.81 454.64,154.97 455.27,154.35 455.91,155.16 456.54,153.12 457.18,152.72 457.81,152.08 458.44,153.14 459.08,152.97 459.71,153.92 460.35,154.94 460.98,154.34 461.62,152.23 462.25,150.35 462.88,147.61 463.52,142.35 464.15,138.26 464.79,135.99 465.42,119.07 466.06,122.55 466.69,128.40 467.32,133.04 467.96,136.12 468.59,137.79 469.23,140.04 469.86,140.61 470.49,140.22 471.13,141.95 471.76,142.14 472.40,142.21 473.03,142.69 473.67,143.11 474.30,143.08 474.93,143.11 475.57,143.53 476.20,143.71 476.84,144.47 477.47,143.97 478.10,144.31 478.74,143.31 479.37,141.34 480.01,139.80 480.64,138.77 481.27,138.55 481.91,140.07 482.54,142.31 483.18,143.19 483.81,145.46 484.45,146.09 485.08,145.79 485.71,146.28 486.35,147.20 486.98,145.97 487.62,145.42 488.25,145.43 488.88,144.86 489.52,145.25 490.15,145.69 490.79,146.91 491.42,147.58 492.06,148.83 492.69,148.77 493.32,148.55 493.96,148.84 494.59,148.95 495.23,148.43 495.86,148.79 496.50,148.96 497.13,148.48 497.76,148.74 498.40,148.84 499.03,147.41 499.67,146.33 500.30,144.63" fill="none" stroke="#4b4fae" stroke-width="1.05" stroke-linejoin="round" stroke-linecap="round" />
<polygon points="331.40,222.69 332.05,222.92 332.71,222.50 333.36,221.78 334.02,222.46 334.67,221.81 335.33,220.91 335.98,222.17 336.64,221.89 337.29,222.50 337.95,223.22 338.60,224.24 339.26,225.10 339.91,226.47 340.57,226.91 341.22,226.83 341.88,226.68 342.53,226.04 343.19,225.04 343.84,224.90 344.50,224.86 345.15,224.67 345.81,224.08 346.46,224.82 347.12,224.38 347.77,225.86 348.43,226.60 349.08,228.83 349.74,229.55 350.39,228.95 351.05,229.49 351.70,229.09 352.36,227.89 353.01,227.62 353.67,228.48 354.32,227.09 354.98,227.27 355.63,227.91 356.29,228.27 356.94,229.05 357.60,230.02 358.25,230.61 358.91,230.74 359.56,229.33 360.22,229.75 360.88,229.34 361.53,229.40 362.19,229.69 362.84,228.55 363.50,228.30 364.15,227.16 364.81,226.28 365.46,223.23 366.12,225.19 366.77,222.33 367.42,222.05 368.08,221.23 368.74,222.17 369.39,216.71 370.04,216.91 370.70,215.15 371.36,213.11 372.01,209.92 372.66,210.30 373.32,206.89 373.98,204.53 374.63,203.40 375.28,202.77 375.94,199.94 376.59,198.42 377.25,197.62 377.90,196.35 378.56,195.82 379.21,195.01 379.87,195.83 380.52,196.44 381.18,195.11 381.83,196.62 382.49,199.51 383.14,200.34 383.80,200.91 384.45,203.22 385.11,203.42 385.76,202.54 386.42,203.67 387.07,204.36 387.73,206.30 388.38,207.75 389.04,207.65 389.69,208.69 390.35,211.04 391.00,210.19 391.66,210.29 392.31,212.70 392.97,214.46 393.62,214.17 394.28,216.71 394.94,218.31 395.59,219.10 396.25,218.95 396.90,218.67 397.56,218.62 398.21,219.06 398.87,217.94 399.52,217.72 400.18,218.04 400.83,217.12 401.49,216.43 402.14,217.11 402.80,217.34 403.45,218.79 404.11,219.30 404.76,218.46 405.42,218.43 406.07,218.74 406.73,218.35 407.38,219.49 408.03,221.10 408.69,221.67 409.35,222.26 410.00,222.56 410.00,228.20 409.35,227.90 408.69,227.32 408.03,226.76 407.38,225.16 406.73,224.04 406.07,224.44 405.42,224.16 404.76,224.22 404.11,225.10 403.45,224.63 402.80,223.23 402.14,223.07 401.49,222.47 400.83,223.25 400.18,224.28 399.52,224.09 398.87,224.46 398.21,225.74 397.56,225.50 396.90,225.77 396.25,226.30 395.59,226.73 394.94,226.24 394.28,224.99 393.62,222.82 392.97,223.51 392.31,222.17 391.66,220.23 391.00,220.61 390.35,221.96 389.69,220.13 389.04,219.61 388.38,220.25 387.73,219.33 387.07,217.92 386.42,217.73 385.76,217.10 385.11,218.43 384.45,218.65 383.80,216.73 383.14,216.48 382.49,215.91 381.83,213.24 381.18,211.87 380.52,213.27 379.87,212.68 379.21,211.80 378.56,212.47 377.90,212.80 377.25,213.82 376.59,214.30 375.94,215.46 375.28,217.87 374.63,218.05 373.98,218.70 373.32,220.55 372.66,223.44 372.01,222.53 371.36,225.18 370.70,226.69 370.04,227.93 369.39,227.22 368.74,232.20 368.08,230.80 367.42,231.18 366.77,231.06 366.12,233.54 365.46,231.23 364.81,233.96 364.15,234.56 363.50,235.45 362.84,235.47 362.19,236.41 361.53,235.95 360.88,235.74 360.22,236.01 359.56,235.48 358.91,236.80 358.25,236.58 357.60,235.93 356.94,234.90 356.29,234.08 355.63,233.67 354.98,233.01 354.32,232.80 353.67,234.17 353.01,233.29 352.36,233.55 351.70,234.73 351.05,235.13 350.39,234.59 349.74,235.18 349.08,234.46 348.43,232.23 347.77,231.48 347.12,230.00 346.46,230.44 345.81,229.70 345.15,230.29 344.50,230.47 343.84,230.51 343.19,230.66 342.53,231.66 341.88,232.29 341.22,232.45 340.57,232.52 339.91,232.09 339.26,230.71 338.60,229.86 337.95,228.83 337.29,228.11 336.64,227.50 335.98,227.78 335.33,226.52 334.67,227.43 334.02,228.08 333.36,227.40 332.71,228.11 332.05,228.54 331.40,228.30" fill="#9a9a9a" stroke="none" stroke-width="0.5" />
<polyline points="331.40,225.50 332.05,225.73 332.71,225.30 333.36,224.59 334.02,225.27 334.67,224.62 335.33,223.71 335.98,224.98 336.64,224.70 337.29,225.31 337.95,226.02 338.60,227.05 339.26,227.90 339.91,229.28 340.57,229.71 341.22,229.64 341.88,229.49 342.53,228.85 343.19,227.85 343.84,227.71 344.50,227.66 345.15,227.48 345.81,226.89 346.46,227.63 347.12,227.19 347.77,228.67 348.43,229.41 349.08,231.64 349.74,232.36 350.39,231.77 351.05,232.31 351.70,231.91 352.36,230.72 353.01,230.46 353.67,231.32 354.32,229.95 354.98,230.14 355.63,230.79 356.29,231.17 356.94,231.98 357.60,232.97 358.25,233.60 358.91,233.77 359.56,232.41 360.22,232.88 360.88,232.54 361.53,232.68 362.19,233.05 362.84,232.01 363.50,231.87 364.15,230.86 364.81,230.12 365.46,227.23 366.12,229.36 366.77,226.70 367.42,226.62 368.08,226.02 368.74,227.19 369.39,221.97 370.04,222.42 370.70,220.92 371.36,219.15 372.01,216.23 372.66,216.87 373.32,213.72 373.98,211.62 374.63,210.73 375.28,210.32 375.94,207.70 376.59,206.36 377.25,205.72 377.90,204.58 378.56,204.15 379.21,203.41 379.87,204.25 380.52,204.85 381.18,203.49 381.83,204.93 382.49,207.71 383.14,208.41 383.80,208.82 384.45,210.94 385.11,210.92 385.76,209.82 386.42,210.70 387.07,211.14 387.73,212.81 388.38,214.00 389.04,213.63 389.69,214.41 390.35,216.50 391.00,215.40 391.66,215.26 392.31,217.43 392.97,218.98 393.62,218.50 394.28,220.85 394.94,222.27 395.59,222.92 396.25,222.63 396.90,222.22 397.56,222.06 398.21,222.40 398.87,221.20 399.52,220.91 400.18,221.16 400.83,220.19 401.49,219.45 402.14,220.09 402.80,220.28 403.45,221.71 404.11,222.20 404.76,221.34 405.42,221.30 406.07,221.59 406.73,221.19 407.38,222.32 408.03,223.93 408.69,224.49 409.35,225.08 410.00,225.38" fill="none" stroke="#111" stroke-width="1.05" stroke-linejoin="round" stroke-linecap="round" />
<polygon points="424.20,223.63 424.83,223.39 425.47,222.68 426.10,222.96 426.74,223.16 427.37,224.24 428.00,225.04 428.64,226.21 429.27,225.52 429.91,225.33 430.54,224.59 431.18,222.68 431.81,222.08 432.44,223.37 433.08,223.64 433.71,224.52 434.35,226.48 434.98,226.38 435.62,225.68 436.25,227.32 436.88,226.94 437.52,227.05 438.15,228.92 438.79,229.62 439.42,228.99 440.05,229.43 440.69,229.70 441.32,229.05 441.96,227.36 442.59,227.55 443.23,228.08 443.86,227.94 444.49,227.20 445.13,228.75 445.76,227.13 446.40,227.27 447.03,227.56 447.66,228.08 448.30,227.93 448.93,229.03 449.57,227.63 450.20,226.24 450.83,225.91 451.47,225.32 452.10,223.85 452.74,223.71 453.37,224.20 454.01,223.36 454.64,223.67 455.27,224.35 455.91,224.12 456.54,223.92 457.18,225.05 457.81,224.19 458.44,224.63 459.08,225.43 459.71,226.08 460.35,224.84 460.98,225.42 461.62,211.75 462.25,204.79 462.88,191.13 463.52,189.65 464.15,191.44 464.79,197.29 465.42,204.12 466.06,208.26 466.69,210.60 467.32,211.48 467.96,211.10 468.59,209.08 469.23,208.64 469.86,207.74 470.49,208.91 471.13,209.65 471.76,212.29 472.40,212.10 473.03,213.48 473.67,211.61 474.30,211.97 474.93,211.99 475.57,212.09 476.20,213.48 476.84,215.89 477.47,216.27 478.10,215.04 478.74,216.71 479.37,216.18 480.01,216.99 480.64,216.09 481.27,216.81 481.91,216.60 482.54,216.49 483.18,215.29 483.81,216.47 484.45,217.29 485.08,217.83 485.71,218.43 486.35,218.48 486.98,219.40 487.62,219.46 488.25,219.88 488.88,220.45 489.52,221.57 490.15,222.12 490.79,222.89 491.42,222.67 492.06,223.07 492.69,223.36 493.32,221.06 493.96,220.25 494.59,220.51 495.23,220.67 495.86,221.41 496.50,222.98 497.13,223.66 497.76,224.21 498.40,223.66 499.03,222.36 499.67,222.96 500.30,222.90 500.30,229.92 499.67,229.98 499.03,229.38 498.40,230.68 497.76,231.23 497.13,230.68 496.50,230.00 495.86,228.43 495.23,227.69 494.59,227.53 493.96,227.27 493.32,228.08 492.69,230.38 492.06,230.09 491.42,229.69 490.79,229.91 490.15,229.14 489.52,228.59 488.88,227.47 488.25,226.90 487.62,226.48 486.98,226.42 486.35,225.50 485.71,225.45 485.08,224.85 484.45,224.31 483.81,223.49 483.18,222.31 482.54,223.51 481.91,223.62 481.27,223.83 480.64,223.11 480.01,224.01 479.37,223.20 478.74,223.73 478.10,222.06 477.47,223.29 476.84,222.91 476.20,220.50 475.57,219.11 474.93,219.01 474.30,218.99 473.67,218.63 473.03,220.50 472.40,219.12 471.76,219.31 471.13,216.67 470.49,215.93 469.86,214.76 469.23,215.66 468.59,216.10 467.96,218.12 467.32,218.50 466.69,217.62 466.06,215.28 465.42,211.14 464.79,204.31 464.15,198.46 463.52,196.67 462.88,198.15 462.25,211.81 461.62,218.77 460.98,232.44 460.35,231.86 459.71,233.10 459.08,232.45 458.44,231.65 457.81,231.21 457.18,232.07 456.54,230.94 455.91,231.14 455.27,231.37 454.64,230.69 454.01,230.38 453.37,231.22 452.74,230.73 452.10,230.87 451.47,232.34 450.83,232.93 450.20,233.26 449.57,234.65 448.93,236.05 448.30,234.95 447.66,235.10 447.03,234.58 446.40,234.29 445.76,234.15 445.13,235.77 444.49,234.22 443.86,234.96 443.23,235.10 442.59,234.57 441.96,234.38 441.32,236.07 440.69,236.72 440.05,236.45 439.42,236.01 438.79,236.64 438.15,235.94 437.52,234.07 436.88,233.96 436.25,234.34 435.62,232.70 434.98,233.40 434.35,233.50 433.71,231.54 433.08,230.66 432.44,230.39 431.81,229.10 431.18,229.70 430.54,231.61 429.91,232.35 429.27,232.54 428.64,233.23 428.00,232.06 427.37,231.26 426.74,230.18 426.10,229.98 425.47,229.70 424.83,230.41 424.20,230.65" fill="#c5c3e8" stroke="none" stroke-width="0.5" />
<polyline points="424.20,227.14 424.83,226.90 425.47,226.19 426.10,226.47 426.74,226.67 427.37,227.75 428.00,228.55 428.64,229.72 429.27,229.03 429.91,228.84 430.54,228.10 431.18,226.19 431.81,225.59 432.44,226.88 433.08,227.15 433.71,228.03 434.35,229.99 434.98,229.89 435.62,229.19 436.25,230.83 436.88,230.45 437.52,230.56 438.15,232.43 438.79,233.13 439.42,232.50 440.05,232.94 440.69,233.21 441.32,232.56 441.96,230.87 442.59,231.06 443.23,231.59 443.86,231.45 444.49,230.71 445.13,232.26 445.76,230.64 446.40,230.78 447.03,231.07 447.66,231.59 448.30,231.44 448.93,232.54 449.57,231.14 450.20,229.75 450.83,229.42 451.47,228.83 452.10,227.36 452.74,227.22 453.37,227.71 454.01,226.87 454.64,227.18 455.27,227.86 455.91,227.63 456.54,227.43 457.18,228.56 457.81,227.70 458.44,228.14 459.08,228.94 459.71,229.59 460.35,228.35 460.98,228.93 461.62,215.26 462.25,208.30 462.88,194.64 463.52,193.16 464.15,194.95 464.79,200.80 465.42,207.63 466.06,211.77 466.69,214.11 467.32,214.99 467.96,214.61 468.59,212.59 469.23,212.15 469.86,211.25 470.49,212.42 471.13,213.16 471.76,215.80 472.40,215.61 473.03,216.99 473.67,215.12 474.30,215.48 474.93,215.50 475.57,215.60 476.20,216.99 476.84,219.40 477.47,219.78 478.10,218.55 478.74,220.22 479.37,219.69 480.01,220.50 480.64,219.60 481.27,220.32 481.91,220.11 482.54,220.00 483.18,218.80 483.81,219.98 484.45,220.80 485.08,221.34 485.71,221.94 486.35,221.99 486.98,222.91 487.62,222.97 488.25,223.39 488.88,223.96 489.52,225.08 490.15,225.63 490.79,226.40 491.42,226.18 492.06,226.58 492.69,226.87 493.32,224.57 493.96,223.76 494.59,224.02 495.23,224.18 495.86,224.92 496.50,226.49 497.13,227.17 497.76,227.72 498.40,227.17 499.03,225.87 499.67,226.47 500.30,226.41" fill="none" stroke="#4b4fae" stroke-width="1.05" stroke-linejoin="round" stroke-linecap="round" />
<polygon points="331.40,294.83 332.05,295.50 332.71,294.33 333.36,294.78 334.02,292.94 334.67,293.45 335.33,292.28 335.98,293.46 336.64,294.41 337.29,295.53 337.95,296.39 338.60,297.24 339.26,297.08 339.91,297.01 340.57,297.70 341.22,296.07 341.88,296.16 342.53,297.21 343.19,297.45 343.84,297.79 344.50,299.54 345.15,300.04 345.81,298.79 346.46,299.12 347.12,298.96 347.77,298.59 348.43,297.47 349.08,299.00 349.74,299.61 350.39,298.51 351.05,299.96 351.70,301.54 352.36,301.22 353.01,299.72 353.67,301.85 354.32,302.55 354.98,302.07 355.63,302.84 356.29,304.43 356.94,303.65 357.60,302.13 358.25,302.32 358.91,302.21 359.56,301.17 360.22,300.46 360.88,300.44 361.53,300.71 362.19,299.87 362.84,300.15 363.50,301.41 364.15,301.48 364.81,300.40 365.46,300.66 366.12,300.90 366.77,299.96 367.42,299.49 368.08,299.89 368.74,300.74 369.39,299.35 370.04,299.18 370.70,299.50 371.36,289.41 372.01,287.98 372.66,288.85 373.32,288.24 373.98,286.33 374.63,286.48 375.28,285.66 375.94,284.36 376.59,285.48 377.25,287.03 377.90,286.86 378.56,288.71 379.21,290.07 379.87,288.71 380.52,287.79 381.18,287.88 381.83,287.97 382.49,286.45 383.14,286.87 383.80,287.02 384.45,287.06 385.11,286.95 385.76,289.13 386.42,290.14 387.07,289.48 387.73,290.24 388.38,289.39 389.04,288.71 389.69,287.68 390.35,288.49 391.00,287.86 391.66,288.45 392.31,290.11 392.97,290.34 393.62,290.47 394.28,289.92 394.94,289.25 395.59,287.80 396.25,287.66 396.90,288.71 397.56,290.01 398.21,290.53 398.87,290.02 399.52,289.05 400.18,287.72 400.83,286.46 401.49,285.74 402.14,285.75 402.80,287.21 403.45,287.81 404.11,289.87 404.76,290.70 405.42,291.60 406.07,290.86 406.73,290.31 407.38,288.26 408.03,286.69 408.69,286.17 409.35,286.19 410.00,285.82 410.00,294.01 409.35,294.38 408.69,294.36 408.03,294.88 407.38,296.45 406.73,298.50 406.07,299.05 405.42,299.79 404.76,298.89 404.11,298.06 403.45,296.00 402.80,295.40 402.14,293.94 401.49,293.93 400.83,294.65 400.18,295.91 399.52,297.24 398.87,298.21 398.21,298.72 397.56,298.20 396.90,296.90 396.25,295.85 395.59,295.99 394.94,297.44 394.28,298.11 393.62,298.66 392.97,298.53 392.31,298.30 391.66,296.64 391.00,296.05 390.35,296.68 389.69,295.87 389.04,296.90 388.38,297.58 387.73,298.43 387.07,297.67 386.42,298.33 385.76,297.32 385.11,295.14 384.45,295.25 383.80,295.21 383.14,295.06 382.49,294.64 381.83,296.16 381.18,296.07 380.52,295.98 379.87,296.90 379.21,298.26 378.56,296.90 377.90,295.05 377.25,295.22 376.59,293.67 375.94,292.55 375.28,293.85 374.63,294.67 373.98,294.52 373.32,296.43 372.66,297.04 372.01,296.17 371.36,297.60 370.70,307.69 370.04,307.37 369.39,307.54 368.74,308.93 368.08,308.08 367.42,307.68 366.77,308.15 366.12,309.09 365.46,308.85 364.81,308.59 364.15,309.67 363.50,309.60 362.84,308.34 362.19,308.06 361.53,308.90 360.88,308.63 360.22,308.65 359.56,309.36 358.91,310.40 358.25,310.51 357.60,310.32 356.94,311.84 356.29,312.62 355.63,311.03 354.98,310.26 354.32,310.74 353.67,310.04 353.01,307.91 352.36,309.41 351.70,309.73 351.05,308.15 350.39,306.70 349.74,307.80 349.08,307.19 348.43,305.66 347.77,306.78 347.12,307.15 346.46,307.31 345.81,306.98 345.15,308.23 344.50,307.73 343.84,305.98 343.19,305.64 342.53,305.40 341.88,304.35 341.22,304.26 340.57,305.89 339.91,305.20 339.26,305.27 338.60,305.43 337.95,304.58 337.29,303.72 336.64,302.60 335.98,301.65 335.33,300.47 334.67,301.64 334.02,301.13 333.36,302.97 332.71,302.52 332.05,303.69 331.40,303.02" fill="#c8c8c8" stroke="none" stroke-width="0.5" />
<polyline points="331.40,298.93 332.05,299.60 332.71,298.42 333.36,298.88 334.02,297.03 334.67,297.55 335.33,296.37 335.98,297.56 336.64,298.51 337.29,299.63 337.95,300.48 338.60,301.34 339.26,301.18 339.91,301.11 340.57,301.80 341.22,300.17 341.88,300.26 342.53,301.31 343.19,301.54 343.84,301.89 344.50,303.64 345.15,304.13 345.81,302.88 346.46,303.21 347.12,303.06 347.77,302.69 348.43,301.57 349.08,303.10 349.74,303.70 350.39,302.61 351.05,304.05 351.70,305.63 352.36,305.31 353.01,303.82 353.67,305.95 354.32,306.64 354.98,306.16 355.63,306.93 356.29,308.53 356.94,307.75 357.60,306.23 358.25,306.41 358.91,306.31 359.56,305.26 360.22,304.55 360.88,304.53 361.53,304.81 362.19,303.96 362.84,304.24 363.50,305.51 364.15,305.58 364.81,304.50 365.46,304.75 366.12,304.99 366.77,304.05 367.42,303.59 368.08,303.98 368.74,304.84 369.39,303.45 370.04,303.28 370.70,303.59 371.36,293.51 372.01,292.08 372.66,292.94 373.32,292.33 373.98,290.42 374.63,290.57 375.28,289.76 375.94,288.45 376.59,289.58 377.25,291.13 377.90,290.95 378.56,292.81 379.21,294.17 379.87,292.81 380.52,291.88 381.18,291.98 381.83,292.07 382.49,290.55 383.14,290.97 383.80,291.12 384.45,291.16 385.11,291.05 385.76,293.22 386.42,294.24 387.07,293.57 387.73,294.33 388.38,293.48 389.04,292.80 389.69,291.77 390.35,292.59 391.00,291.96 391.66,292.54 392.31,294.20 392.97,294.44 393.62,294.57 394.28,294.01 394.94,293.35 395.59,291.89 396.25,291.75 396.90,292.80 397.56,294.11 398.21,294.63 398.87,294.11 399.52,293.14 400.18,291.81 400.83,290.55 401.49,289.84 402.14,289.84 402.80,291.30 403.45,291.91 404.11,293.96 404.76,294.79 405.42,295.69 406.07,294.95 406.73,294.41 407.38,292.36 408.03,290.78 408.69,290.27 409.35,290.29 410.00,289.91" fill="none" stroke="#111" stroke-width="1.05" stroke-linejoin="round" stroke-linecap="round" />
<polygon points="424.20,299.29 424.83,299.57 425.47,299.50 426.10,298.87 426.74,299.61 427.37,299.75 428.00,299.90 428.64,297.92 429.27,298.17 429.91,298.07 430.54,299.63 431.18,299.69 431.81,300.46 432.44,299.70 433.08,298.95 433.71,298.53 434.35,298.03 434.98,299.12 435.62,299.51 436.25,300.10 436.88,298.81 437.52,298.53 438.15,297.49 438.79,298.37 439.42,297.62 440.05,298.27 440.69,299.16 441.32,299.73 441.96,298.41 442.59,298.95 443.23,298.91 443.86,297.79 444.49,298.29 445.13,297.99 445.76,297.18 446.40,297.81 447.03,299.15 447.66,299.00 448.30,299.49 448.93,301.55 449.57,300.64 450.20,300.00 450.83,299.68 451.47,300.51 452.10,299.23 452.74,299.89 453.37,299.46 454.01,299.52 454.64,298.57 455.27,297.75 455.91,297.71 456.54,297.80 457.18,297.55 457.81,298.04 458.44,298.19 459.08,296.76 459.71,296.95 460.35,296.49 460.98,296.25 461.62,296.34 462.25,297.75 462.88,282.03 463.52,278.71 464.15,276.93 464.79,276.99 465.42,277.26 466.06,278.53 466.69,278.08 467.32,278.14 467.96,277.85 468.59,278.21 469.23,280.36 469.86,281.62 470.49,282.37 471.13,281.69 471.76,282.35 472.40,283.03 473.03,285.32 473.67,287.17 474.30,288.92 474.93,289.44 475.57,290.36 476.20,290.95 476.84,290.48 477.47,291.74 478.10,292.51 478.74,292.60 479.37,292.96 480.01,294.98 480.64,295.58 481.27,296.52 481.91,297.22 482.54,296.94 483.18,296.01 483.81,296.86 484.45,296.94 485.08,298.58 485.71,298.91 486.35,299.59 486.98,298.80 487.62,298.62 488.25,297.94 488.88,298.43 489.52,297.77 490.15,298.69 490.79,299.23 491.42,299.04 492.06,298.62 492.69,299.10 493.32,299.27 493.96,300.14 494.59,301.07 495.23,300.92 495.86,301.35 496.50,301.27 497.13,300.75 497.76,300.00 498.40,300.10 499.03,299.47 499.67,300.37 500.30,300.08 500.30,305.70 499.67,305.99 499.03,305.09 498.40,305.71 497.76,305.62 497.13,306.37 496.50,306.89 495.86,306.97 495.23,306.53 494.59,306.69 493.96,305.75 493.32,304.88 492.69,304.72 492.06,304.24 491.42,304.66 490.79,304.85 490.15,304.31 489.52,303.40 488.88,304.06 488.25,303.58 487.62,304.28 486.98,304.49 486.35,305.31 485.71,304.68 485.08,304.40 484.45,302.85 483.81,302.86 483.18,302.15 482.54,303.26 481.91,303.75 481.27,303.32 480.64,302.70 480.01,302.49 479.37,300.93 478.74,301.09 478.10,301.60 477.47,301.49 476.84,300.95 476.20,302.18 475.57,302.37 474.93,302.26 474.30,302.53 473.67,301.53 473.03,300.38 472.40,298.70 471.76,298.52 471.13,298.23 470.49,299.14 469.86,298.47 469.23,297.13 468.59,294.75 467.96,294.02 467.32,293.80 466.69,293.13 466.06,292.90 465.42,290.87 464.79,289.81 464.15,288.94 463.52,289.93 462.88,292.49 462.25,307.50 461.62,305.43 460.98,304.74 460.35,304.46 459.71,304.46 459.08,303.89 458.44,304.99 457.81,304.57 457.18,303.86 456.54,303.95 455.91,303.72 455.27,303.65 454.64,304.39 454.01,305.29 453.37,305.18 452.74,305.58 452.10,304.90 451.47,306.16 450.83,305.32 450.20,305.63 449.57,306.27 448.93,307.18 448.30,305.11 447.66,304.62 447.03,304.77 446.40,303.42 445.76,302.80 445.13,303.61 444.49,303.91 443.86,303.41 443.23,304.53 442.59,304.57 441.96,304.02 441.32,305.34 440.69,304.77 440.05,303.89 439.42,303.24 438.79,303.99 438.15,303.11 437.52,304.14 436.88,304.43 436.25,305.71 435.62,305.13 434.98,304.73 434.35,303.65 433.71,304.15 433.08,304.57 432.44,305.31 431.81,306.07 431.18,305.30 430.54,305.24 429.91,303.69 429.27,303.79 428.64,303.53 428.00,305.51 427.37,305.36 426.74,305.22 426.10,304.49 425.47,305.12 424.83,305.19 424.20,304.91" fill="#c5c3e8" stroke="none" stroke-width="0.5" />
<polyline points="424.20,302.10 424.83,302.38 425.47,302.31 426.10,301.68 426.74,302.41 427.37,302.56 428.00,302.71 428.64,300.73 429.27,300.98 429.91,300.88 430.54,302.43 431.18,302.49 431.81,303.26 432.44,302.50 433.08,301.76 433.71,301.34 434.35,300.84 434.98,301.93 435.62,302.32 436.25,302.91 436.88,301.62 437.52,301.34 438.15,300.30 438.79,301.18 439.42,300.43 440.05,301.08 440.69,301.96 441.32,302.53 441.96,301.21 442.59,301.76 443.23,301.72 443.86,300.60 444.49,301.10 445.13,300.80 445.76,299.99 446.40,300.62 447.03,301.96 447.66,301.81 448.30,302.30 448.93,304.36 449.57,303.46 450.20,302.81 450.83,302.50 451.47,303.33 452.10,302.06 452.74,302.73 453.37,302.32 454.01,302.40 454.64,301.48 455.27,300.70 455.91,300.71 456.54,300.88 457.18,300.71 457.81,301.31 458.44,301.59 459.08,300.32 459.71,300.71 460.35,300.48 460.98,300.49 461.62,300.89 462.25,302.62 462.88,287.26 463.52,284.32 464.15,282.94 464.79,283.40 465.42,284.06 466.06,285.72 466.69,285.61 467.32,285.97 467.96,285.93 468.59,286.48 469.23,288.74 469.86,290.05 470.49,290.75 471.13,289.96 471.76,290.43 472.40,290.87 473.03,292.85 473.67,294.35 474.30,295.72 474.93,295.85 475.57,296.36 476.20,296.57 476.84,295.72 477.47,296.61 478.10,297.05 478.74,296.84 479.37,296.95 480.01,298.74 480.64,299.14 481.27,299.92 481.91,300.48 482.54,300.10 483.18,299.08 483.81,299.86 484.45,299.90 485.08,301.49 485.71,301.80 486.35,302.45 486.98,301.64 487.62,301.45 488.25,300.76 488.88,301.24 489.52,300.59 490.15,301.50 490.79,302.04 491.42,301.85 492.06,301.43 492.69,301.91 493.32,302.07 493.96,302.94 494.59,303.88 495.23,303.73 495.86,304.16 496.50,304.08 497.13,303.56 497.76,302.81 498.40,302.91 499.03,302.28 499.67,303.18 500.30,302.89" fill="none" stroke="#4b4fae" stroke-width="1.05" stroke-linejoin="round" stroke-linecap="round" />
<line x1="331.40" y1="93.90" x2="331.40" y2="164.10" stroke="#777" stroke-width="0.55" />
<line x1="329.30" y1="93.90" x2="331.40" y2="93.90" stroke="#666" stroke-width="0.45" />
<line x1="329.30" y1="105.60" x2="331.40" y2="105.60" stroke="#666" stroke-width="0.45" />
<line x1="329.30" y1="117.30" x2="331.40" y2="117.30" stroke="#666" stroke-width="0.45" />
<line x1="329.30" y1="129.00" x2="331.40" y2="129.00" stroke="#666" stroke-width="0.45" />
<line x1="329.30" y1="140.70" x2="331.40" y2="140.70" stroke="#666" stroke-width="0.45" />
<line x1="329.30" y1="152.40" x2="331.40" y2="152.40" stroke="#666" stroke-width="0.45" />
<line x1="329.30" y1="164.10" x2="331.40" y2="164.10" stroke="#666" stroke-width="0.45" />
<text x="327.0" y="96.4" font-size="7.2" text-anchor="end" fill="#231f20" font-weight="normal" font-style="normal"  stroke="#231f20" stroke-width="0.14">10</text>
<text x="327.0" y="166.6" font-size="7.2" text-anchor="end" fill="#231f20" font-weight="normal" font-style="normal"  stroke="#231f20" stroke-width="0.14">−2</text>
<line x1="331.40" y1="169.50" x2="331.40" y2="239.70" stroke="#777" stroke-width="0.55" />
<line x1="329.30" y1="169.50" x2="331.40" y2="169.50" stroke="#666" stroke-width="0.45" />
<line x1="329.30" y1="181.20" x2="331.40" y2="181.20" stroke="#666" stroke-width="0.45" />
<line x1="329.30" y1="192.90" x2="331.40" y2="192.90" stroke="#666" stroke-width="0.45" />
<line x1="329.30" y1="204.60" x2="331.40" y2="204.60" stroke="#666" stroke-width="0.45" />
<line x1="329.30" y1="216.30" x2="331.40" y2="216.30" stroke="#666" stroke-width="0.45" />
<line x1="329.30" y1="228.00" x2="331.40" y2="228.00" stroke="#666" stroke-width="0.45" />
<line x1="329.30" y1="239.70" x2="331.40" y2="239.70" stroke="#666" stroke-width="0.45" />
<text x="327.0" y="172.0" font-size="7.2" text-anchor="end" fill="#231f20" font-weight="normal" font-style="normal"  stroke="#231f20" stroke-width="0.14">10</text>
<text x="327.0" y="242.2" font-size="7.2" text-anchor="end" fill="#231f20" font-weight="normal" font-style="normal"  stroke="#231f20" stroke-width="0.14">−2</text>
<line x1="331.40" y1="243.30" x2="331.40" y2="313.50" stroke="#777" stroke-width="0.55" />
<line x1="329.30" y1="243.30" x2="331.40" y2="243.30" stroke="#666" stroke-width="0.45" />
<line x1="329.30" y1="255.00" x2="331.40" y2="255.00" stroke="#666" stroke-width="0.45" />
<line x1="329.30" y1="266.70" x2="331.40" y2="266.70" stroke="#666" stroke-width="0.45" />
<line x1="329.30" y1="278.40" x2="331.40" y2="278.40" stroke="#666" stroke-width="0.45" />
<line x1="329.30" y1="290.10" x2="331.40" y2="290.10" stroke="#666" stroke-width="0.45" />
<line x1="329.30" y1="301.80" x2="331.40" y2="301.80" stroke="#666" stroke-width="0.45" />
<line x1="329.30" y1="313.50" x2="331.40" y2="313.50" stroke="#666" stroke-width="0.45" />
<text x="327.0" y="245.8" font-size="7.2" text-anchor="end" fill="#231f20" font-weight="normal" font-style="normal"  stroke="#231f20" stroke-width="0.14">10</text>
<text x="327.0" y="316.0" font-size="7.2" text-anchor="end" fill="#231f20" font-weight="normal" font-style="normal"  stroke="#231f20" stroke-width="0.14">−2</text>
<line x1="331.40" y1="313.40" x2="410.00" y2="313.40" stroke="#777" stroke-width="0.55" />
<line x1="424.20" y1="313.40" x2="500.30" y2="313.40" stroke="#777" stroke-width="0.55" />
<line x1="331.40" y1="313.40" x2="331.40" y2="315.50" stroke="#666" stroke-width="0.45" />
<line x1="370.70" y1="313.40" x2="370.70" y2="315.50" stroke="#666" stroke-width="0.45" />
<line x1="410.00" y1="313.40" x2="410.00" y2="315.50" stroke="#666" stroke-width="0.45" />
<line x1="424.20" y1="313.40" x2="424.20" y2="315.50" stroke="#666" stroke-width="0.45" />
<line x1="462.20" y1="313.40" x2="462.20" y2="315.50" stroke="#666" stroke-width="0.45" />
<line x1="500.30" y1="313.40" x2="500.30" y2="315.50" stroke="#666" stroke-width="0.45" />
<text x="331.4" y="323.7" font-size="7.2" text-anchor="middle" fill="#231f20" font-weight="normal" font-style="normal"  stroke="#231f20" stroke-width="0.14">−30</text>
<text x="410.0" y="323.7" font-size="7.2" text-anchor="middle" fill="#231f20" font-weight="normal" font-style="normal"  stroke="#231f20" stroke-width="0.14">30</text>
<text x="424.6" y="323.7" font-size="7.2" text-anchor="middle" fill="#231f20" font-weight="normal" font-style="normal"  stroke="#231f20" stroke-width="0.14">−30</text>
<text x="462.2" y="323.7" font-size="7.2" text-anchor="middle" fill="#231f20" font-weight="normal" font-style="normal"  stroke="#231f20" stroke-width="0.14">0</text>
<text x="500.3" y="323.7" font-size="7.2" text-anchor="middle" fill="#231f20" font-weight="normal" font-style="normal"  stroke="#231f20" stroke-width="0.14">30</text>
<text x="376.5" y="333.0" font-size="7.2" text-anchor="middle" fill="#231f20" font-weight="normal" font-style="normal"  stroke="#231f20" stroke-width="0.14">Time (s)</text>
<line x1="370.50" y1="105.00" x2="370.50" y2="313.40" stroke="#1a1a1a" stroke-width="0.95" stroke-dasharray="2.1,2.9"/>
<line x1="462.30" y1="105.00" x2="462.30" y2="313.40" stroke="#1a1a1a" stroke-width="0.95" stroke-dasharray="2.1,2.9"/>
<text x="370.6" y="100.2" font-size="7.2" text-anchor="middle" fill="#231f20" font-weight="normal" font-style="normal"  stroke="#231f20" stroke-width="0.14">LP</text>
<text x="462.3" y="100.2" font-size="7.2" text-anchor="middle" fill="#231f20" font-weight="normal" font-style="normal"  stroke="#231f20" stroke-width="0.14">Food</text>
<text x="334.2" y="109.3" font-size="7.2" fill="#231f20" stroke="#231f20" stroke-width="0.14"><tspan font-style="italic">n</tspan> = 8</text>
<text x="425.3" y="109.3" font-size="7.2" fill="#231f20" stroke="#231f20" stroke-width="0.14"><tspan font-style="italic">n</tspan> = 6</text>
<text x="334.2" y="175.5" font-size="7.2" fill="#231f20" stroke="#231f20" stroke-width="0.14"><tspan font-style="italic">n</tspan> = 6</text>
<text x="425.3" y="175.5" font-size="7.2" fill="#231f20" stroke="#231f20" stroke-width="0.14"><tspan font-style="italic">n</tspan> = 6</text>
<text x="334.2" y="253.2" font-size="7.2" fill="#231f20" stroke="#231f20" stroke-width="0.14"><tspan font-style="italic">n</tspan> = 9</text>
<text x="425.3" y="253.2" font-size="7.2" fill="#231f20" stroke="#231f20" stroke-width="0.14"><tspan font-style="italic">n</tspan> = 9</text>
<text x="502.0" y="115.4" font-size="7.2" text-anchor="end" fill="#231f20" font-weight="normal" font-style="normal"  stroke="#231f20" stroke-width="0.14">Before</text>
<text x="502.0" y="124.6" font-size="7.2" text-anchor="end" fill="#231f20" font-weight="normal" font-style="normal"  stroke="#231f20" stroke-width="0.14">learning</text>
<text x="502.0" y="188.3" font-size="7.2" text-anchor="end" fill="#231f20" font-weight="normal" font-style="normal"  stroke="#231f20" stroke-width="0.14">After</text>
<text x="502.0" y="197.3" font-size="7.2" text-anchor="end" fill="#231f20" font-weight="normal" font-style="normal"  stroke="#231f20" stroke-width="0.14">learning</text>
<text x="502.0" y="261.9" font-size="7.2" text-anchor="end" fill="#231f20" font-weight="normal" font-style="normal"  stroke="#231f20" stroke-width="0.14">After</text>
<text x="502.0" y="271.1" font-size="7.2" text-anchor="end" fill="#231f20" font-weight="normal" font-style="normal"  stroke="#231f20" stroke-width="0.14">learning</text>
<text x="418.7" y="198.7" font-size="7.2" text-anchor="middle" fill="#231f20" font-weight="normal" font-style="normal"  stroke="#231f20" stroke-width="0.14">Complete</text>
<text x="418.7" y="207.5" font-size="7.2" text-anchor="middle" fill="#231f20" font-weight="normal" font-style="normal"  stroke="#231f20" stroke-width="0.14">sequence</text>
<text x="417.0" y="267.6" font-size="7.2" text-anchor="middle" fill="#231f20" font-weight="normal" font-style="normal"  stroke="#231f20" stroke-width="0.14">Incomplete</text>
<text x="417.0" y="276.6" font-size="7.2" text-anchor="middle" fill="#231f20" font-weight="normal" font-style="normal"  stroke="#231f20" stroke-width="0.14">sequence</text>
<text x="382.2" y="185.3" font-size="7.2" text-anchor="middle" fill="#231f20" font-weight="normal" font-style="normal"  stroke="#231f20" stroke-width="0.14">Food</text>
<rect x="378.00" y="187.60" width="8.00" height="4.00" fill="#c2c2c2" stroke="none" stroke-width="0.5" />
<text x="365.4" y="206.6" font-size="8" text-anchor="middle" fill="#231f20" font-weight="normal" font-style="normal"  stroke="#231f20" stroke-width="0.14">*</text>
<text x="456.9" y="118.8" font-size="8" text-anchor="middle" fill="#231f20" font-weight="normal" font-style="normal"  stroke="#231f20" stroke-width="0.14">*</text>
<text x="457.2" y="198.8" font-size="8" text-anchor="middle" fill="#231f20" font-weight="normal" font-style="normal"  stroke="#231f20" stroke-width="0.14">*</text>
<text x="457.9" y="272.0" font-size="8" text-anchor="middle" fill="#231f20" font-weight="normal" font-style="normal"  stroke="#231f20" stroke-width="0.14">*</text>
<g transform="translate(310.2,166.5) rotate(-90)"><text x="0" y="0" font-size="7.2" fill="#231f20" text-anchor="middle" stroke="#231f20" stroke-width="0.14"><tspan font-style="italic">z</tspan>-score Δ<tspan font-style="italic">F</tspan>/<tspan font-style="italic">F</tspan></text></g>
<g transform="translate(311.6,239.4) rotate(-90)"><text x="0" y="0" font-size="7.2" fill="#231f20" text-anchor="middle" stroke="#231f20" stroke-width="0.14">VTA DA activity</text></g>
<text x="-0.2" y="350.6" font-size="10.8" text-anchor="start" fill="#000" font-weight="bold" font-style="normal"  stroke="#000" stroke-width="0.14">e</text>
<text x="51.8" y="358.8" font-size="7.2" text-anchor="middle" fill="#f39c2f" font-weight="normal" font-style="normal"  stroke="#f39c2f" stroke-width="0.14">Storer</text>
<text x="52.6" y="429.3" font-size="7.2" text-anchor="middle" fill="#8a3cab" font-weight="normal" font-style="normal"  stroke="#8a3cab" stroke-width="0.14">Achiever</text>
<rect x="28.20" y="381.30" width="5.50" height="32.40" fill="#f9c47f" stroke="none" stroke-width="0.5" />
<rect x="28.20" y="465.30" width="5.50" height="18.90" fill="#b894c8" stroke="none" stroke-width="0.5" />
<line x1="33.70" y1="381.30" x2="33.70" y2="413.70" stroke="#fce3c3" stroke-width="0.35" />
<line x1="33.70" y1="470.80" x2="33.70" y2="484.20" stroke="#dcc6e4" stroke-width="0.35" />
<rect x="33.70" y="373.70" width="6.60" height="40.00" fill="#f9c47f" stroke="none" stroke-width="0.5" />
<rect x="33.70" y="470.80" width="6.60" height="13.40" fill="#b894c8" stroke="none" stroke-width="0.5" />
<line x1="40.30" y1="373.70" x2="40.30" y2="413.70" stroke="#fce3c3" stroke-width="0.35" />
<line x1="40.30" y1="475.80" x2="40.30" y2="484.20" stroke="#dcc6e4" stroke-width="0.35" />
<rect x="40.30" y="373.20" width="5.70" height="40.50" fill="#f9c47f" stroke="none" stroke-width="0.5" />
<rect x="40.30" y="475.80" width="5.70" height="8.40" fill="#b894c8" stroke="none" stroke-width="0.5" />
<line x1="46.00" y1="377.00" x2="46.00" y2="413.70" stroke="#fce3c3" stroke-width="0.35" />
<line x1="46.00" y1="475.80" x2="46.00" y2="484.20" stroke="#dcc6e4" stroke-width="0.35" />
<rect x="46.00" y="377.00" width="5.80" height="36.70" fill="#f9c47f" stroke="none" stroke-width="0.5" />
<rect x="46.00" y="470.00" width="5.80" height="14.20" fill="#b894c8" stroke="none" stroke-width="0.5" />
<line x1="51.80" y1="400.00" x2="51.80" y2="413.70" stroke="#fce3c3" stroke-width="0.35" />
<line x1="51.80" y1="470.00" x2="51.80" y2="484.20" stroke="#dcc6e4" stroke-width="0.35" />
<rect x="51.80" y="400.00" width="6.10" height="13.70" fill="#f9c47f" stroke="none" stroke-width="0.5" />
<rect x="51.80" y="446.00" width="6.10" height="38.20" fill="#b894c8" stroke="none" stroke-width="0.5" />
<line x1="57.90" y1="408.00" x2="57.90" y2="413.70" stroke="#fce3c3" stroke-width="0.35" />
<line x1="57.90" y1="446.00" x2="57.90" y2="484.20" stroke="#dcc6e4" stroke-width="0.35" />
<rect x="57.90" y="408.00" width="6.60" height="5.70" fill="#f9c47f" stroke="none" stroke-width="0.5" />
<rect x="57.90" y="440.30" width="6.60" height="43.90" fill="#b894c8" stroke="none" stroke-width="0.5" />
<line x1="64.50" y1="408.00" x2="64.50" y2="413.70" stroke="#fce3c3" stroke-width="0.35" />
<line x1="64.50" y1="440.30" x2="64.50" y2="484.20" stroke="#dcc6e4" stroke-width="0.35" />
<rect x="64.50" y="408.00" width="5.20" height="5.70" fill="#f9c47f" stroke="none" stroke-width="0.5" />
<rect x="64.50" y="439.70" width="5.20" height="44.50" fill="#b894c8" stroke="none" stroke-width="0.5" />
<line x1="69.70" y1="409.00" x2="69.70" y2="413.70" stroke="#fce3c3" stroke-width="0.35" />
<line x1="69.70" y1="439.70" x2="69.70" y2="484.20" stroke="#dcc6e4" stroke-width="0.35" />
<rect x="69.70" y="409.00" width="5.80" height="4.70" fill="#f9c47f" stroke="none" stroke-width="0.5" />
<rect x="69.70" y="439.00" width="5.80" height="45.20" fill="#b894c8" stroke="none" stroke-width="0.5" />
<line x1="27.60" y1="365.00" x2="27.60" y2="413.70" stroke="#777" stroke-width="0.55" />
<line x1="25.60" y1="413.70" x2="27.60" y2="413.70" stroke="#666" stroke-width="0.45" />
<line x1="25.60" y1="401.52" x2="27.60" y2="401.52" stroke="#666" stroke-width="0.45" />
<line x1="25.60" y1="389.35" x2="27.60" y2="389.35" stroke="#666" stroke-width="0.45" />
<line x1="25.60" y1="377.18" x2="27.60" y2="377.18" stroke="#666" stroke-width="0.45" />
<line x1="25.60" y1="365.00" x2="27.60" y2="365.00" stroke="#666" stroke-width="0.45" />
<text x="23.5" y="367.5" font-size="7.2" text-anchor="end" fill="#231f20" font-weight="normal" font-style="normal"  stroke="#231f20" stroke-width="0.14">100</text>
<text x="23.5" y="416.2" font-size="7.2" text-anchor="end" fill="#231f20" font-weight="normal" font-style="normal"  stroke="#231f20" stroke-width="0.14">0</text>
<line x1="27.60" y1="436.00" x2="27.60" y2="484.20" stroke="#777" stroke-width="0.55" />
<line x1="25.60" y1="484.20" x2="27.60" y2="484.20" stroke="#666" stroke-width="0.45" />
<line x1="25.60" y1="472.15" x2="27.60" y2="472.15" stroke="#666" stroke-width="0.45" />
<line x1="25.60" y1="460.10" x2="27.60" y2="460.10" stroke="#666" stroke-width="0.45" />
<line x1="25.60" y1="448.05" x2="27.60" y2="448.05" stroke="#666" stroke-width="0.45" />
<line x1="25.60" y1="436.00" x2="27.60" y2="436.00" stroke="#666" stroke-width="0.45" />
<text x="23.5" y="438.5" font-size="7.2" text-anchor="end" fill="#231f20" font-weight="normal" font-style="normal"  stroke="#231f20" stroke-width="0.14">100</text>
<text x="23.5" y="486.7" font-size="7.2" text-anchor="end" fill="#231f20" font-weight="normal" font-style="normal"  stroke="#231f20" stroke-width="0.14">0</text>
<line x1="51.80" y1="366.00" x2="51.80" y2="413.70" stroke="#333" stroke-width="0.6" stroke-dasharray="1.8,1.4"/>
<line x1="52.60" y1="436.00" x2="52.60" y2="484.20" stroke="#333" stroke-width="0.6" stroke-dasharray="1.8,1.4"/>
<line x1="29.50" y1="488.20" x2="51.30" y2="488.20" stroke="#555" stroke-width="0.55" />
<line x1="55.30" y1="488.20" x2="75.80" y2="488.20" stroke="#555" stroke-width="0.55" />
<g transform="translate(47.5,493.5) rotate(-45)"><text x="0" y="0" font-size="7.2" fill="#231f20" text-anchor="end" stroke="#231f20" stroke-width="0.14">#LP(1:4)</text></g>
<g transform="translate(72.5,493.5) rotate(-45)"><text x="0" y="0" font-size="7.2" fill="#231f20" text-anchor="end" stroke="#231f20" stroke-width="0.14">%CS(1:4)</text></g>
<g transform="translate(5.8,420.0) rotate(-90)"><text x="0" y="0" font-size="7.2" fill="#231f20" text-anchor="middle" stroke="#231f20" stroke-width="0.14">Distribution (%)</text></g>
<text x="93.9" y="350.6" font-size="10.8" text-anchor="start" fill="#000" font-weight="bold" font-style="normal"  stroke="#000" stroke-width="0.14">f</text>
<text x="199.8" y="355.0" font-size="7.2" text-anchor="middle" fill="#231f20" font-weight="normal" font-style="normal"  stroke="#231f20" stroke-width="0.14">Archetype</text>
<text x="143" y="369.7" font-size="7.2" fill="#f39c2f" text-anchor="middle" stroke="#f39c2f" stroke-width="0.14">Storer (<tspan font-style="italic">n</tspan> = 31)</text>
<text x="249" y="369.7" font-size="7.2" fill="#8a3cab" text-anchor="middle" stroke="#8a3cab" stroke-width="0.14">Achiever (<tspan font-style="italic">n</tspan> = 31)</text>
<g fill="none" stroke="#222" stroke-width="0.75"><circle cx="109.0" cy="378.9" r="1.9"/><line x1="109.0" y1="380.79999999999995" x2="109.0" y2="383.27"/><line x1="107.765" y1="382.03499999999997" x2="110.235" y2="382.03499999999997"/></g>
<g fill="none" stroke="#222" stroke-width="0.75"><circle cx="108.2" cy="394.4" r="1.9"/><line x1="109.54349" y1="393.05651" x2="111.81" y2="390.78999999999996"/><polyline points="110.005,390.78999999999996 111.81,390.78999999999996 111.81,392.59499999999997"/></g>
<polygon points="114.40,382.80 121.60,382.80 118.00,376.40" fill="#f9c47f" stroke="#fff" stroke-width="0.4" />
<polygon points="123.80,382.80 131.00,382.80 127.40,376.40" fill="#f9c47f" stroke="#fff" stroke-width="0.4" />
<polygon points="127.40,382.80 134.60,382.80 131.00,376.40" fill="#f9c47f" stroke="#fff" stroke-width="0.4" />
<polygon points="136.20,382.80 143.40,382.80 139.80,376.40" fill="#f9c47f" stroke="#fff" stroke-width="0.4" />
<polygon points="159.00,382.80 166.20,382.80 162.60,376.40" fill="#f9c47f" stroke="#fff" stroke-width="0.4" />
<polygon points="169.40,382.80 176.60,382.80 173.00,376.40" fill="#f9c47f" stroke="#fff" stroke-width="0.4" />
<polygon points="172.90,382.80 180.10,382.80 176.50,376.40" fill="#f9c47f" stroke="#fff" stroke-width="0.4" />
<polygon points="175.40,382.80 182.60,382.80 179.00,376.40" fill="#f9c47f" stroke="#fff" stroke-width="0.4" />
<polygon points="180.40,382.80 187.60,382.80 184.00,376.40" fill="#f9c47f" stroke="#fff" stroke-width="0.4" />
<polygon points="179.70,382.80 186.90,382.80 183.30,376.40" fill="#f9c47f" stroke="#fff" stroke-width="0.4" />
<polygon points="186.20,382.80 193.40,382.80 189.80,376.40" fill="#f9c47f" stroke="#fff" stroke-width="0.4" />
<polygon points="193.80,382.80 201.00,382.80 197.40,376.40" fill="#f9c47f" stroke="#fff" stroke-width="0.4" />
<polygon points="196.00,382.80 203.20,382.80 199.60,376.40" fill="#f9c47f" stroke="#fff" stroke-width="0.4" />
<polygon points="210.70,382.80 217.90,382.80 214.30,376.40" fill="#b894c8" stroke="#fff" stroke-width="0.4" />
<polygon points="224.70,382.80 231.90,382.80 228.30,376.40" fill="#b894c8" stroke="#fff" stroke-width="0.4" />
<polygon points="228.60,382.80 235.80,382.80 232.20,376.40" fill="#b894c8" stroke="#fff" stroke-width="0.4" />
<polygon points="234.70,382.80 241.90,382.80 238.30,376.40" fill="#b894c8" stroke="#fff" stroke-width="0.4" />
<polygon points="264.40,382.80 271.60,382.80 268.00,376.40" fill="#b894c8" stroke="#fff" stroke-width="0.4" />
<polygon points="266.90,382.80 274.10,382.80 270.50,376.40" fill="#b894c8" stroke="#fff" stroke-width="0.4" />
<polygon points="279.00,382.80 286.20,382.80 282.60,376.40" fill="#b894c8" stroke="#fff" stroke-width="0.4" />
<line x1="118.70" y1="386.50" x2="282.20" y2="386.50" stroke="#555" stroke-width="0.55" />
<line x1="200.20" y1="385.00" x2="200.20" y2="388.50" stroke="#555" stroke-width="0.55" />
<circle cx="118.00" cy="392.90" r="2.95" fill="#f9c47f" stroke="#fff" stroke-width="0.4" />
<circle cx="138.30" cy="392.90" r="2.95" fill="#f9c47f" stroke="#fff" stroke-width="0.4" />
<circle cx="145.20" cy="392.90" r="2.95" fill="#f9c47f" stroke="#fff" stroke-width="0.4" />
<circle cx="150.50" cy="392.90" r="2.95" fill="#f9c47f" stroke="#fff" stroke-width="0.4" />
<circle cx="152.70" cy="392.90" r="2.95" fill="#f9c47f" stroke="#fff" stroke-width="0.4" />
<circle cx="155.40" cy="392.90" r="2.95" fill="#f9c47f" stroke="#fff" stroke-width="0.4" />
<circle cx="172.00" cy="392.90" r="2.95" fill="#f9c47f" stroke="#fff" stroke-width="0.4" />
<circle cx="173.80" cy="392.90" r="2.95" fill="#f9c47f" stroke="#fff" stroke-width="0.4" />
<circle cx="186.40" cy="392.90" r="2.95" fill="#f9c47f" stroke="#fff" stroke-width="0.4" />
<circle cx="188.70" cy="392.90" r="2.95" fill="#f9c47f" stroke="#fff" stroke-width="0.4" />
<circle cx="190.50" cy="392.90" r="2.95" fill="#f9c47f" stroke="#fff" stroke-width="0.4" />
<circle cx="202.40" cy="392.90" r="2.95" fill="#b894c8" stroke="#fff" stroke-width="0.4" />
<circle cx="207.20" cy="392.90" r="2.95" fill="#b894c8" stroke="#fff" stroke-width="0.4" />
<circle cx="212.20" cy="392.90" r="2.95" fill="#b894c8" stroke="#fff" stroke-width="0.4" />
<circle cx="217.40" cy="392.90" r="2.95" fill="#b894c8" stroke="#fff" stroke-width="0.4" />
<circle cx="222.40" cy="392.90" r="2.95" fill="#b894c8" stroke="#fff" stroke-width="0.4" />
<circle cx="225.60" cy="392.90" r="2.95" fill="#b894c8" stroke="#fff" stroke-width="0.4" />
<circle cx="228.90" cy="392.90" r="2.95" fill="#b894c8" stroke="#fff" stroke-width="0.4" />
<circle cx="233.20" cy="392.90" r="2.95" fill="#b894c8" stroke="#fff" stroke-width="0.4" />
<circle cx="236.90" cy="392.90" r="2.95" fill="#b894c8" stroke="#fff" stroke-width="0.4" />
<circle cx="241.90" cy="392.90" r="2.95" fill="#b894c8" stroke="#fff" stroke-width="0.4" />
<circle cx="246.30" cy="392.90" r="2.95" fill="#b894c8" stroke="#fff" stroke-width="0.4" />
<circle cx="249.90" cy="392.90" r="2.95" fill="#b894c8" stroke="#fff" stroke-width="0.4" />
<circle cx="253.90" cy="392.90" r="2.95" fill="#b894c8" stroke="#fff" stroke-width="0.4" />
<circle cx="257.20" cy="392.90" r="2.95" fill="#b894c8" stroke="#fff" stroke-width="0.4" />
<circle cx="263.70" cy="392.90" r="2.95" fill="#b894c8" stroke="#fff" stroke-width="0.4" />
<circle cx="268.00" cy="392.90" r="2.95" fill="#b894c8" stroke="#fff" stroke-width="0.4" />
<circle cx="276.70" cy="392.90" r="2.95" fill="#b894c8" stroke="#fff" stroke-width="0.4" />
<circle cx="282.00" cy="392.90" r="2.95" fill="#b894c8" stroke="#fff" stroke-width="0.4" />
<path d="M143.17,411.00 C142.73,406.13 143.84,401.60 148.40,400.10 C151.35,399.40 156.65,399.40 159.60,400.10 C164.16,401.60 165.27,406.13 164.83,411.00 Z" fill="#363636" stroke="#9a9a9a" stroke-width="0.6"/>
<circle cx="147.98" cy="400.81" r="0.28" fill="#b8b8b8" stroke="none" stroke-width="0.5" />
<circle cx="148.08" cy="405.22" r="0.24" fill="#b8b8b8" stroke="none" stroke-width="0.5" />
<circle cx="151.91" cy="400.61" r="0.31" fill="#7a7a7a" stroke="none" stroke-width="0.5" />
<circle cx="159.32" cy="405.06" r="0.32" fill="#7a7a7a" stroke="none" stroke-width="0.5" />
<circle cx="158.91" cy="406.28" r="0.27" fill="#b8b8b8" stroke="none" stroke-width="0.5" />
<circle cx="155.96" cy="407.84" r="0.23" fill="#5e5e5e" stroke="none" stroke-width="0.5" />
<circle cx="144.53" cy="403.47" r="0.22" fill="#5e5e5e" stroke="none" stroke-width="0.5" />
<circle cx="155.22" cy="405.50" r="0.34" fill="#7a7a7a" stroke="none" stroke-width="0.5" />
<circle cx="149.28" cy="408.26" r="0.21" fill="#9c9c9c" stroke="none" stroke-width="0.5" />
<circle cx="150.43" cy="404.73" r="0.27" fill="#b8b8b8" stroke="none" stroke-width="0.5" />
<circle cx="156.08" cy="406.37" r="0.36" fill="#5e5e5e" stroke="none" stroke-width="0.5" />
<circle cx="157.35" cy="402.79" r="0.26" fill="#7a7a7a" stroke="none" stroke-width="0.5" />
<circle cx="163.94" cy="408.09" r="0.28" fill="#7a7a7a" stroke="none" stroke-width="0.5" />
<circle cx="163.25" cy="401.68" r="0.33" fill="#9c9c9c" stroke="none" stroke-width="0.5" />
<circle cx="157.90" cy="401.70" r="0.24" fill="#7a7a7a" stroke="none" stroke-width="0.5" />
<circle cx="158.97" cy="400.84" r="0.25" fill="#b8b8b8" stroke="none" stroke-width="0.5" />
<circle cx="148.41" cy="409.85" r="0.22" fill="#5e5e5e" stroke="none" stroke-width="0.5" />
<circle cx="148.52" cy="407.43" r="0.29" fill="#5e5e5e" stroke="none" stroke-width="0.5" />
<circle cx="148.61" cy="401.63" r="0.24" fill="#7a7a7a" stroke="none" stroke-width="0.5" />
<circle cx="144.32" cy="404.65" r="0.36" fill="#5e5e5e" stroke="none" stroke-width="0.5" />
<circle cx="158.69" cy="402.66" r="0.22" fill="#b8b8b8" stroke="none" stroke-width="0.5" />
<circle cx="152.01" cy="401.14" r="0.32" fill="#5e5e5e" stroke="none" stroke-width="0.5" />
<circle cx="145.74" cy="406.68" r="0.33" fill="#7a7a7a" stroke="none" stroke-width="0.5" />
<circle cx="157.04" cy="406.13" r="0.25" fill="#9c9c9c" stroke="none" stroke-width="0.5" />
<circle cx="158.06" cy="402.37" r="0.23" fill="#7a7a7a" stroke="none" stroke-width="0.5" />
<circle cx="147.75" cy="401.04" r="0.31" fill="#7a7a7a" stroke="none" stroke-width="0.5" />
<circle cx="145.61" cy="403.83" r="0.26" fill="#9c9c9c" stroke="none" stroke-width="0.5" />
<circle cx="147.47" cy="401.68" r="0.30" fill="#7a7a7a" stroke="none" stroke-width="0.5" />
<circle cx="146.50" cy="410.56" r="0.29" fill="#9c9c9c" stroke="none" stroke-width="0.5" />
<circle cx="153.19" cy="404.86" r="0.34" fill="#5e5e5e" stroke="none" stroke-width="0.5" />
<circle cx="149.78" cy="409.48" r="0.27" fill="#9c9c9c" stroke="none" stroke-width="0.5" />
<circle cx="154.71" cy="402.09" r="0.22" fill="#5e5e5e" stroke="none" stroke-width="0.5" />
<circle cx="159.17" cy="402.31" r="0.20" fill="#b8b8b8" stroke="none" stroke-width="0.5" />
<circle cx="151.87" cy="400.07" r="0.26" fill="#b8b8b8" stroke="none" stroke-width="0.5" />
<circle cx="146.93" cy="407.32" r="0.36" fill="#5e5e5e" stroke="none" stroke-width="0.5" />
<circle cx="150.80" cy="409.99" r="0.24" fill="#5e5e5e" stroke="none" stroke-width="0.5" />
<circle cx="156.37" cy="400.13" r="0.22" fill="#5e5e5e" stroke="none" stroke-width="0.5" />
<circle cx="156.54" cy="408.20" r="0.28" fill="#5e5e5e" stroke="none" stroke-width="0.5" />
<circle cx="156.95" cy="408.27" r="0.22" fill="#7a7a7a" stroke="none" stroke-width="0.5" />
<circle cx="163.71" cy="406.12" r="0.23" fill="#9c9c9c" stroke="none" stroke-width="0.5" />
<circle cx="156.80" cy="402.34" r="0.34" fill="#5e5e5e" stroke="none" stroke-width="0.5" />
<circle cx="161.84" cy="404.97" r="0.33" fill="#7a7a7a" stroke="none" stroke-width="0.5" />
<circle cx="158.34" cy="401.95" r="0.35" fill="#9c9c9c" stroke="none" stroke-width="0.5" />
<circle cx="144.81" cy="410.51" r="0.36" fill="#5e5e5e" stroke="none" stroke-width="0.5" />
<circle cx="144.84" cy="405.07" r="0.30" fill="#7a7a7a" stroke="none" stroke-width="0.5" />
<circle cx="162.99" cy="406.77" r="0.29" fill="#9c9c9c" stroke="none" stroke-width="0.5" />
<circle cx="153.37" cy="403.64" r="0.34" fill="#7a7a7a" stroke="none" stroke-width="0.5" />
<circle cx="155.98" cy="401.29" r="0.23" fill="#5e5e5e" stroke="none" stroke-width="0.5" />
<circle cx="153.01" cy="404.22" r="0.30" fill="#7a7a7a" stroke="none" stroke-width="0.5" />
<circle cx="145.82" cy="402.25" r="0.28" fill="#5e5e5e" stroke="none" stroke-width="0.5" />
<circle cx="158.80" cy="409.98" r="0.30" fill="#5e5e5e" stroke="none" stroke-width="0.5" />
<circle cx="151.49" cy="408.15" r="0.32" fill="#5e5e5e" stroke="none" stroke-width="0.5" />
<circle cx="158.83" cy="401.72" r="0.22" fill="#7a7a7a" stroke="none" stroke-width="0.5" />
<circle cx="162.38" cy="405.33" r="0.26" fill="#9c9c9c" stroke="none" stroke-width="0.5" />
<circle cx="157.03" cy="410.09" r="0.34" fill="#b8b8b8" stroke="none" stroke-width="0.5" />
<circle cx="155.21" cy="406.27" r="0.29" fill="#5e5e5e" stroke="none" stroke-width="0.5" />
<circle cx="151.04" cy="410.26" r="0.25" fill="#9c9c9c" stroke="none" stroke-width="0.5" />
<circle cx="150.04" cy="405.56" r="0.22" fill="#9c9c9c" stroke="none" stroke-width="0.5" />
<circle cx="155.06" cy="401.39" r="0.35" fill="#7a7a7a" stroke="none" stroke-width="0.5" />
<circle cx="151.72" cy="404.78" r="0.27" fill="#9c9c9c" stroke="none" stroke-width="0.5" />
<circle cx="162.63" cy="407.20" r="0.21" fill="#b8b8b8" stroke="none" stroke-width="0.5" />
<circle cx="159.10" cy="409.93" r="0.22" fill="#9c9c9c" stroke="none" stroke-width="0.5" />
<circle cx="156.62" cy="402.52" r="0.28" fill="#7a7a7a" stroke="none" stroke-width="0.5" />
<circle cx="154.75" cy="407.99" r="0.28" fill="#b8b8b8" stroke="none" stroke-width="0.5" />
<circle cx="151.73" cy="409.46" r="0.34" fill="#7a7a7a" stroke="none" stroke-width="0.5" />
<circle cx="153.11" cy="401.85" r="0.28" fill="#9c9c9c" stroke="none" stroke-width="0.5" />
<circle cx="150.96" cy="401.61" r="0.25" fill="#9c9c9c" stroke="none" stroke-width="0.5" />
<circle cx="158.32" cy="410.07" r="0.36" fill="#b8b8b8" stroke="none" stroke-width="0.5" />
<circle cx="153.86" cy="403.90" r="0.32" fill="#b8b8b8" stroke="none" stroke-width="0.5" />
<circle cx="145.27" cy="407.19" r="0.32" fill="#7a7a7a" stroke="none" stroke-width="0.5" />
<circle cx="163.23" cy="407.32" r="0.31" fill="#5e5e5e" stroke="none" stroke-width="0.5" />
<circle cx="146.66" cy="406.55" r="0.35" fill="#5e5e5e" stroke="none" stroke-width="0.5" />
<circle cx="151.54" cy="410.23" r="0.29" fill="#5e5e5e" stroke="none" stroke-width="0.5" />
<circle cx="163.01" cy="402.82" r="0.31" fill="#9c9c9c" stroke="none" stroke-width="0.5" />
<circle cx="158.70" cy="408.67" r="0.26" fill="#7a7a7a" stroke="none" stroke-width="0.5" />
<circle cx="158.69" cy="404.28" r="0.27" fill="#b8b8b8" stroke="none" stroke-width="0.5" />
<circle cx="158.64" cy="402.47" r="0.29" fill="#5e5e5e" stroke="none" stroke-width="0.5" />
<circle cx="144.06" cy="405.98" r="0.32" fill="#9c9c9c" stroke="none" stroke-width="0.5" />
<circle cx="148.38" cy="404.18" r="0.22" fill="#5e5e5e" stroke="none" stroke-width="0.5" />
<circle cx="147.63" cy="406.63" r="0.30" fill="#7a7a7a" stroke="none" stroke-width="0.5" />
<circle cx="161.06" cy="409.89" r="0.26" fill="#5e5e5e" stroke="none" stroke-width="0.5" />
<circle cx="151.69" cy="403.66" r="0.28" fill="#5e5e5e" stroke="none" stroke-width="0.5" />
<circle cx="158.28" cy="405.61" r="0.26" fill="#7a7a7a" stroke="none" stroke-width="0.5" />
<circle cx="153.98" cy="410.37" r="0.31" fill="#b8b8b8" stroke="none" stroke-width="0.5" />
<circle cx="148.09" cy="402.17" r="0.26" fill="#7a7a7a" stroke="none" stroke-width="0.5" />
<circle cx="162.76" cy="409.52" r="0.35" fill="#b8b8b8" stroke="none" stroke-width="0.5" />
<circle cx="144.84" cy="404.73" r="0.25" fill="#5e5e5e" stroke="none" stroke-width="0.5" />
<circle cx="162.92" cy="402.25" r="0.32" fill="#b8b8b8" stroke="none" stroke-width="0.5" />
<circle cx="145.73" cy="406.68" r="0.27" fill="#7a7a7a" stroke="none" stroke-width="0.5" />
<circle cx="158.00" cy="402.67" r="0.25" fill="#9c9c9c" stroke="none" stroke-width="0.5" />
<circle cx="156.98" cy="402.75" r="0.33" fill="#9c9c9c" stroke="none" stroke-width="0.5" />
<circle cx="146.79" cy="409.25" r="0.35" fill="#b8b8b8" stroke="none" stroke-width="0.5" />
<circle cx="144.58" cy="406.44" r="0.24" fill="#9c9c9c" stroke="none" stroke-width="0.5" />
<circle cx="163.68" cy="404.22" r="0.29" fill="#9c9c9c" stroke="none" stroke-width="0.5" />
<circle cx="160.70" cy="407.06" r="0.33" fill="#b8b8b8" stroke="none" stroke-width="0.5" />
<circle cx="144.77" cy="409.58" r="0.28" fill="#b8b8b8" stroke="none" stroke-width="0.5" />
<circle cx="158.42" cy="400.73" r="0.33" fill="#7a7a7a" stroke="none" stroke-width="0.5" />
<circle cx="163.49" cy="408.77" r="0.29" fill="#5e5e5e" stroke="none" stroke-width="0.5" />
<circle cx="156.09" cy="409.23" r="0.31" fill="#9c9c9c" stroke="none" stroke-width="0.5" />
<circle cx="151.29" cy="409.40" r="0.27" fill="#b8b8b8" stroke="none" stroke-width="0.5" />
<circle cx="144.89" cy="406.61" r="0.23" fill="#b8b8b8" stroke="none" stroke-width="0.5" />
<circle cx="163.32" cy="402.07" r="0.34" fill="#7a7a7a" stroke="none" stroke-width="0.5" />
<circle cx="148.52" cy="407.47" r="0.22" fill="#5e5e5e" stroke="none" stroke-width="0.5" />
<circle cx="148.09" cy="406.86" r="0.23" fill="#b8b8b8" stroke="none" stroke-width="0.5" />
<circle cx="148.60" cy="407.43" r="0.29" fill="#b8b8b8" stroke="none" stroke-width="0.5" />
<circle cx="160.02" cy="405.86" r="0.21" fill="#9c9c9c" stroke="none" stroke-width="0.5" />
<circle cx="153.17" cy="403.52" r="0.22" fill="#9c9c9c" stroke="none" stroke-width="0.5" />
<circle cx="149.04" cy="402.78" r="0.22" fill="#7a7a7a" stroke="none" stroke-width="0.5" />
<circle cx="156.67" cy="405.29" r="0.28" fill="#5e5e5e" stroke="none" stroke-width="0.5" />
<circle cx="156.80" cy="400.34" r="0.25" fill="#9c9c9c" stroke="none" stroke-width="0.5" />
<circle cx="156.35" cy="400.59" r="0.34" fill="#5e5e5e" stroke="none" stroke-width="0.5" />
<circle cx="149.91" cy="409.98" r="0.30" fill="#b8b8b8" stroke="none" stroke-width="0.5" />
<circle cx="158.29" cy="403.01" r="0.32" fill="#7a7a7a" stroke="none" stroke-width="0.5" />
<circle cx="152.89" cy="407.78" r="0.29" fill="#7a7a7a" stroke="none" stroke-width="0.5" />
<circle cx="158.12" cy="409.81" r="0.26" fill="#7a7a7a" stroke="none" stroke-width="0.5" />
<circle cx="152.81" cy="406.96" r="0.34" fill="#b8b8b8" stroke="none" stroke-width="0.5" />
<circle cx="155.66" cy="407.82" r="0.23" fill="#7a7a7a" stroke="none" stroke-width="0.5" />
<circle cx="159.08" cy="408.31" r="0.28" fill="#9c9c9c" stroke="none" stroke-width="0.5" />
<circle cx="154.87" cy="405.48" r="0.33" fill="#9c9c9c" stroke="none" stroke-width="0.5" />
<circle cx="147.80" cy="406.24" r="0.30" fill="#b8b8b8" stroke="none" stroke-width="0.5" />
<circle cx="146.69" cy="410.58" r="0.32" fill="#b8b8b8" stroke="none" stroke-width="0.5" />
<circle cx="152.97" cy="402.69" r="0.26" fill="#9c9c9c" stroke="none" stroke-width="0.5" />
<circle cx="152.11" cy="402.71" r="0.21" fill="#7a7a7a" stroke="none" stroke-width="0.5" />
<circle cx="158.39" cy="402.94" r="0.31" fill="#b8b8b8" stroke="none" stroke-width="0.5" />
<circle cx="155.49" cy="407.31" r="0.24" fill="#7a7a7a" stroke="none" stroke-width="0.5" />
<circle cx="148.34" cy="401.39" r="0.25" fill="#5e5e5e" stroke="none" stroke-width="0.5" />
<circle cx="158.17" cy="407.19" r="0.25" fill="#7a7a7a" stroke="none" stroke-width="0.5" />
<circle cx="146.44" cy="409.68" r="0.24" fill="#7a7a7a" stroke="none" stroke-width="0.5" />
<circle cx="145.63" cy="403.94" r="0.20" fill="#5e5e5e" stroke="none" stroke-width="0.5" />
<circle cx="156.71" cy="406.43" r="0.34" fill="#7a7a7a" stroke="none" stroke-width="0.5" />
<circle cx="146.77" cy="404.84" r="0.21" fill="#b8b8b8" stroke="none" stroke-width="0.5" />
<rect x="103.00" y="410.70" width="87.90" height="85.00" fill="#f4f4f4" stroke="#5a5a5a" stroke-width="0.6" />
<polygon points="105.00,412.70 188.90,412.70 181.64,419.96 112.26,419.96" fill="#c9c9c9" stroke="#333" stroke-width="0.45" />
<polygon points="105.00,493.70 188.90,493.70 181.64,486.44 112.26,486.44" fill="#c9c9c9" stroke="#333" stroke-width="0.45" />
<polygon points="105.00,412.70 112.26,419.96 112.26,486.44 105.00,493.70" fill="#8c8c8c" stroke="#333" stroke-width="0.45" />
<polygon points="188.90,412.70 181.64,419.96 181.64,486.44 188.90,493.70" fill="#8c8c8c" stroke="#333" stroke-width="0.45" />
<rect x="112.26" y="419.96" width="69.38" height="66.48" fill="#f0dcc3" stroke="#333" stroke-width="0.5" />
<polygon points="104.45,436.47 111.71,438.65 111.71,453.52 104.45,455.99" fill="#7b7b7b" stroke="#3a3a3a" stroke-width="0.3" />
<polygon points="111.71,438.65 122.23,440.46 122.23,453.09 111.71,453.52" fill="#a39d9a" stroke="#3a3a3a" stroke-width="0.3" />
<polygon points="189.45,436.47 182.19,438.65 182.19,453.52 189.45,455.99" fill="#7b7b7b" stroke="#3a3a3a" stroke-width="0.3" />
<polygon points="182.19,438.65 171.67,440.46 171.67,453.09 182.19,453.52" fill="#a39d9a" stroke="#3a3a3a" stroke-width="0.3" />
<path d="M242.17,410.50 C241.73,405.63 242.84,401.10 247.40,399.60 C250.35,398.90 255.65,398.90 258.60,399.60 C263.16,401.10 264.27,405.63 263.83,410.50 Z" fill="#363636" stroke="#9a9a9a" stroke-width="0.6"/>
<circle cx="253.77" cy="406.08" r="0.30" fill="#9c9c9c" stroke="none" stroke-width="0.5" />
<circle cx="262.75" cy="407.73" r="0.21" fill="#b8b8b8" stroke="none" stroke-width="0.5" />
<circle cx="248.54" cy="406.69" r="0.25" fill="#7a7a7a" stroke="none" stroke-width="0.5" />
<circle cx="247.13" cy="400.79" r="0.24" fill="#b8b8b8" stroke="none" stroke-width="0.5" />
<circle cx="252.89" cy="400.53" r="0.32" fill="#5e5e5e" stroke="none" stroke-width="0.5" />
<circle cx="259.01" cy="399.75" r="0.30" fill="#b8b8b8" stroke="none" stroke-width="0.5" />
<circle cx="254.63" cy="399.73" r="0.28" fill="#9c9c9c" stroke="none" stroke-width="0.5" />
<circle cx="250.37" cy="408.27" r="0.25" fill="#b8b8b8" stroke="none" stroke-width="0.5" />
<circle cx="251.04" cy="403.98" r="0.34" fill="#7a7a7a" stroke="none" stroke-width="0.5" />
<circle cx="261.81" cy="406.17" r="0.23" fill="#9c9c9c" stroke="none" stroke-width="0.5" />
<circle cx="248.15" cy="405.90" r="0.26" fill="#5e5e5e" stroke="none" stroke-width="0.5" />
<circle cx="255.69" cy="407.76" r="0.32" fill="#9c9c9c" stroke="none" stroke-width="0.5" />
<circle cx="248.09" cy="406.78" r="0.26" fill="#5e5e5e" stroke="none" stroke-width="0.5" />
<circle cx="260.04" cy="406.24" r="0.26" fill="#5e5e5e" stroke="none" stroke-width="0.5" />
<circle cx="261.81" cy="408.12" r="0.31" fill="#7a7a7a" stroke="none" stroke-width="0.5" />
<circle cx="261.18" cy="403.63" r="0.26" fill="#7a7a7a" stroke="none" stroke-width="0.5" />
<circle cx="258.74" cy="409.48" r="0.27" fill="#9c9c9c" stroke="none" stroke-width="0.5" />
<circle cx="249.85" cy="409.55" r="0.21" fill="#b8b8b8" stroke="none" stroke-width="0.5" />
<circle cx="250.83" cy="404.10" r="0.27" fill="#5e5e5e" stroke="none" stroke-width="0.5" />
<circle cx="243.96" cy="406.51" r="0.31" fill="#7a7a7a" stroke="none" stroke-width="0.5" />
<circle cx="260.74" cy="402.26" r="0.28" fill="#9c9c9c" stroke="none" stroke-width="0.5" />
<circle cx="252.17" cy="404.21" r="0.24" fill="#9c9c9c" stroke="none" stroke-width="0.5" />
<circle cx="254.81" cy="406.64" r="0.35" fill="#9c9c9c" stroke="none" stroke-width="0.5" />
<circle cx="259.81" cy="407.59" r="0.27" fill="#5e5e5e" stroke="none" stroke-width="0.5" />
<circle cx="247.42" cy="401.75" r="0.31" fill="#b8b8b8" stroke="none" stroke-width="0.5" />
<circle cx="244.70" cy="406.66" r="0.34" fill="#7a7a7a" stroke="none" stroke-width="0.5" />
<circle cx="255.39" cy="408.49" r="0.31" fill="#5e5e5e" stroke="none" stroke-width="0.5" />
<circle cx="244.43" cy="409.13" r="0.31" fill="#b8b8b8" stroke="none" stroke-width="0.5" />
<circle cx="255.03" cy="400.20" r="0.23" fill="#7a7a7a" stroke="none" stroke-width="0.5" />
<circle cx="253.68" cy="403.35" r="0.27" fill="#5e5e5e" stroke="none" stroke-width="0.5" />
<circle cx="257.52" cy="404.26" r="0.31" fill="#9c9c9c" stroke="none" stroke-width="0.5" />
<circle cx="261.61" cy="406.13" r="0.21" fill="#5e5e5e" stroke="none" stroke-width="0.5" />
<circle cx="263.05" cy="408.49" r="0.28" fill="#b8b8b8" stroke="none" stroke-width="0.5" />
<circle cx="244.83" cy="405.96" r="0.32" fill="#5e5e5e" stroke="none" stroke-width="0.5" />
<circle cx="253.51" cy="408.40" r="0.22" fill="#7a7a7a" stroke="none" stroke-width="0.5" />
<circle cx="255.55" cy="401.76" r="0.24" fill="#9c9c9c" stroke="none" stroke-width="0.5" />
<circle cx="252.07" cy="405.61" r="0.29" fill="#b8b8b8" stroke="none" stroke-width="0.5" />
<circle cx="246.19" cy="400.51" r="0.32" fill="#9c9c9c" stroke="none" stroke-width="0.5" />
<circle cx="253.05" cy="402.61" r="0.29" fill="#7a7a7a" stroke="none" stroke-width="0.5" />
<circle cx="246.23" cy="400.37" r="0.32" fill="#7a7a7a" stroke="none" stroke-width="0.5" />
<circle cx="252.19" cy="399.70" r="0.34" fill="#7a7a7a" stroke="none" stroke-width="0.5" />
<circle cx="258.50" cy="401.96" r="0.34" fill="#9c9c9c" stroke="none" stroke-width="0.5" />
<circle cx="252.36" cy="401.74" r="0.29" fill="#7a7a7a" stroke="none" stroke-width="0.5" />
<circle cx="252.91" cy="404.84" r="0.27" fill="#5e5e5e" stroke="none" stroke-width="0.5" />
<circle cx="252.53" cy="404.75" r="0.34" fill="#7a7a7a" stroke="none" stroke-width="0.5" />
<circle cx="260.71" cy="403.64" r="0.32" fill="#b8b8b8" stroke="none" stroke-width="0.5" />
<circle cx="248.48" cy="408.99" r="0.30" fill="#9c9c9c" stroke="none" stroke-width="0.5" />
<circle cx="261.04" cy="401.40" r="0.27" fill="#5e5e5e" stroke="none" stroke-width="0.5" />
<circle cx="252.10" cy="409.25" r="0.29" fill="#5e5e5e" stroke="none" stroke-width="0.5" />
<circle cx="246.71" cy="407.32" r="0.28" fill="#7a7a7a" stroke="none" stroke-width="0.5" />
<circle cx="252.53" cy="407.43" r="0.28" fill="#5e5e5e" stroke="none" stroke-width="0.5" />
<circle cx="252.46" cy="406.43" r="0.34" fill="#7a7a7a" stroke="none" stroke-width="0.5" />
<circle cx="245.31" cy="410.09" r="0.35" fill="#5e5e5e" stroke="none" stroke-width="0.5" />
<circle cx="262.46" cy="403.43" r="0.36" fill="#b8b8b8" stroke="none" stroke-width="0.5" />
<circle cx="254.73" cy="401.70" r="0.29" fill="#5e5e5e" stroke="none" stroke-width="0.5" />
<circle cx="249.18" cy="403.08" r="0.29" fill="#5e5e5e" stroke="none" stroke-width="0.5" />
<circle cx="242.98" cy="405.63" r="0.30" fill="#5e5e5e" stroke="none" stroke-width="0.5" />
<circle cx="253.69" cy="400.08" r="0.32" fill="#b8b8b8" stroke="none" stroke-width="0.5" />
<circle cx="258.31" cy="405.14" r="0.32" fill="#9c9c9c" stroke="none" stroke-width="0.5" />
<circle cx="259.18" cy="403.04" r="0.22" fill="#7a7a7a" stroke="none" stroke-width="0.5" />
<circle cx="249.85" cy="409.91" r="0.24" fill="#b8b8b8" stroke="none" stroke-width="0.5" />
<circle cx="243.88" cy="408.68" r="0.24" fill="#b8b8b8" stroke="none" stroke-width="0.5" />
<circle cx="257.82" cy="403.91" r="0.33" fill="#b8b8b8" stroke="none" stroke-width="0.5" />
<circle cx="250.64" cy="403.66" r="0.29" fill="#9c9c9c" stroke="none" stroke-width="0.5" />
<circle cx="244.55" cy="402.65" r="0.22" fill="#9c9c9c" stroke="none" stroke-width="0.5" />
<circle cx="253.13" cy="402.18" r="0.36" fill="#7a7a7a" stroke="none" stroke-width="0.5" />
<circle cx="245.94" cy="403.78" r="0.22" fill="#7a7a7a" stroke="none" stroke-width="0.5" />
<circle cx="256.68" cy="406.07" r="0.31" fill="#b8b8b8" stroke="none" stroke-width="0.5" />
<circle cx="248.15" cy="408.08" r="0.27" fill="#9c9c9c" stroke="none" stroke-width="0.5" />
<circle cx="254.51" cy="407.45" r="0.22" fill="#9c9c9c" stroke="none" stroke-width="0.5" />
<circle cx="245.69" cy="405.08" r="0.32" fill="#b8b8b8" stroke="none" stroke-width="0.5" />
<circle cx="249.89" cy="401.57" r="0.23" fill="#9c9c9c" stroke="none" stroke-width="0.5" />
<circle cx="257.04" cy="401.69" r="0.22" fill="#9c9c9c" stroke="none" stroke-width="0.5" />
<circle cx="262.60" cy="402.35" r="0.30" fill="#b8b8b8" stroke="none" stroke-width="0.5" />
<circle cx="247.32" cy="405.77" r="0.36" fill="#9c9c9c" stroke="none" stroke-width="0.5" />
<circle cx="249.02" cy="402.60" r="0.35" fill="#b8b8b8" stroke="none" stroke-width="0.5" />
<circle cx="255.69" cy="403.05" r="0.27" fill="#7a7a7a" stroke="none" stroke-width="0.5" />
<circle cx="251.89" cy="408.95" r="0.30" fill="#5e5e5e" stroke="none" stroke-width="0.5" />
<circle cx="248.47" cy="407.23" r="0.31" fill="#b8b8b8" stroke="none" stroke-width="0.5" />
<circle cx="249.76" cy="407.11" r="0.28" fill="#5e5e5e" stroke="none" stroke-width="0.5" />
<circle cx="259.95" cy="406.43" r="0.35" fill="#b8b8b8" stroke="none" stroke-width="0.5" />
<circle cx="246.34" cy="402.17" r="0.31" fill="#9c9c9c" stroke="none" stroke-width="0.5" />
<circle cx="251.32" cy="402.07" r="0.35" fill="#9c9c9c" stroke="none" stroke-width="0.5" />
<circle cx="255.48" cy="406.74" r="0.32" fill="#b8b8b8" stroke="none" stroke-width="0.5" />
<circle cx="252.98" cy="406.98" r="0.28" fill="#b8b8b8" stroke="none" stroke-width="0.5" />
<circle cx="259.30" cy="402.49" r="0.27" fill="#b8b8b8" stroke="none" stroke-width="0.5" />
<circle cx="257.03" cy="408.51" r="0.31" fill="#b8b8b8" stroke="none" stroke-width="0.5" />
<circle cx="251.66" cy="409.41" r="0.27" fill="#b8b8b8" stroke="none" stroke-width="0.5" />
<circle cx="250.21" cy="408.24" r="0.34" fill="#b8b8b8" stroke="none" stroke-width="0.5" />
<circle cx="249.92" cy="403.89" r="0.27" fill="#9c9c9c" stroke="none" stroke-width="0.5" />
<circle cx="252.74" cy="407.45" r="0.31" fill="#7a7a7a" stroke="none" stroke-width="0.5" />
<circle cx="248.53" cy="405.88" r="0.27" fill="#b8b8b8" stroke="none" stroke-width="0.5" />
<circle cx="245.02" cy="403.35" r="0.30" fill="#5e5e5e" stroke="none" stroke-width="0.5" />
<circle cx="250.51" cy="400.18" r="0.29" fill="#b8b8b8" stroke="none" stroke-width="0.5" />
<circle cx="256.62" cy="407.55" r="0.33" fill="#b8b8b8" stroke="none" stroke-width="0.5" />
<circle cx="244.47" cy="409.85" r="0.27" fill="#7a7a7a" stroke="none" stroke-width="0.5" />
<circle cx="243.89" cy="402.48" r="0.27" fill="#b8b8b8" stroke="none" stroke-width="0.5" />
<circle cx="262.91" cy="409.61" r="0.25" fill="#9c9c9c" stroke="none" stroke-width="0.5" />
<circle cx="244.87" cy="400.74" r="0.23" fill="#7a7a7a" stroke="none" stroke-width="0.5" />
<circle cx="259.29" cy="406.85" r="0.32" fill="#7a7a7a" stroke="none" stroke-width="0.5" />
<circle cx="262.20" cy="404.27" r="0.22" fill="#5e5e5e" stroke="none" stroke-width="0.5" />
<circle cx="262.56" cy="404.72" r="0.22" fill="#9c9c9c" stroke="none" stroke-width="0.5" />
<circle cx="258.26" cy="408.08" r="0.34" fill="#b8b8b8" stroke="none" stroke-width="0.5" />
<circle cx="248.30" cy="402.46" r="0.35" fill="#5e5e5e" stroke="none" stroke-width="0.5" />
<circle cx="256.85" cy="407.41" r="0.35" fill="#7a7a7a" stroke="none" stroke-width="0.5" />
<circle cx="253.62" cy="402.02" r="0.21" fill="#9c9c9c" stroke="none" stroke-width="0.5" />
<circle cx="256.48" cy="405.15" r="0.34" fill="#7a7a7a" stroke="none" stroke-width="0.5" />
<circle cx="257.30" cy="405.25" r="0.30" fill="#5e5e5e" stroke="none" stroke-width="0.5" />
<circle cx="262.78" cy="405.44" r="0.29" fill="#5e5e5e" stroke="none" stroke-width="0.5" />
<circle cx="255.38" cy="405.90" r="0.31" fill="#9c9c9c" stroke="none" stroke-width="0.5" />
<circle cx="250.00" cy="407.13" r="0.36" fill="#9c9c9c" stroke="none" stroke-width="0.5" />
<circle cx="247.66" cy="402.60" r="0.34" fill="#b8b8b8" stroke="none" stroke-width="0.5" />
<circle cx="261.56" cy="400.67" r="0.28" fill="#7a7a7a" stroke="none" stroke-width="0.5" />
<circle cx="256.93" cy="406.07" r="0.28" fill="#b8b8b8" stroke="none" stroke-width="0.5" />
<circle cx="246.14" cy="402.95" r="0.25" fill="#9c9c9c" stroke="none" stroke-width="0.5" />
<circle cx="248.21" cy="402.00" r="0.27" fill="#b8b8b8" stroke="none" stroke-width="0.5" />
<circle cx="248.94" cy="402.77" r="0.27" fill="#5e5e5e" stroke="none" stroke-width="0.5" />
<circle cx="246.78" cy="400.79" r="0.28" fill="#9c9c9c" stroke="none" stroke-width="0.5" />
<circle cx="256.79" cy="400.39" r="0.31" fill="#9c9c9c" stroke="none" stroke-width="0.5" />
<circle cx="255.77" cy="401.84" r="0.26" fill="#b8b8b8" stroke="none" stroke-width="0.5" />
<circle cx="251.52" cy="402.63" r="0.27" fill="#7a7a7a" stroke="none" stroke-width="0.5" />
<circle cx="256.17" cy="399.53" r="0.32" fill="#b8b8b8" stroke="none" stroke-width="0.5" />
<circle cx="255.16" cy="406.97" r="0.36" fill="#9c9c9c" stroke="none" stroke-width="0.5" />
<circle cx="255.28" cy="409.57" r="0.20" fill="#5e5e5e" stroke="none" stroke-width="0.5" />
<circle cx="254.08" cy="405.20" r="0.28" fill="#7a7a7a" stroke="none" stroke-width="0.5" />
<circle cx="246.68" cy="409.13" r="0.30" fill="#9c9c9c" stroke="none" stroke-width="0.5" />
<circle cx="260.50" cy="401.04" r="0.29" fill="#9c9c9c" stroke="none" stroke-width="0.5" />
<circle cx="250.74" cy="405.95" r="0.34" fill="#b8b8b8" stroke="none" stroke-width="0.5" />
<circle cx="251.77" cy="404.83" r="0.34" fill="#9c9c9c" stroke="none" stroke-width="0.5" />
<circle cx="250.77" cy="405.94" r="0.36" fill="#9c9c9c" stroke="none" stroke-width="0.5" />
<circle cx="256.22" cy="405.82" r="0.27" fill="#b8b8b8" stroke="none" stroke-width="0.5" />
<rect x="202.40" y="410.20" width="88.00" height="85.20" fill="#f4f4f4" stroke="#5a5a5a" stroke-width="0.6" />
<polygon points="204.40,412.20 288.40,412.20 281.13,419.47 211.67,419.47" fill="#c9c9c9" stroke="#333" stroke-width="0.45" />
<polygon points="204.40,493.40 288.40,493.40 281.13,486.13 211.67,486.13" fill="#c9c9c9" stroke="#333" stroke-width="0.45" />
<polygon points="204.40,412.20 211.67,419.47 211.67,486.13 204.40,493.40" fill="#8c8c8c" stroke="#333" stroke-width="0.45" />
<polygon points="288.40,412.20 281.13,419.47 281.13,486.13 288.40,493.40" fill="#8c8c8c" stroke="#333" stroke-width="0.45" />
<rect x="211.67" y="419.47" width="69.47" height="66.67" fill="#f0dcc3" stroke="#333" stroke-width="0.5" />
<polygon points="203.85,436.00 211.12,438.18 211.12,453.07 203.85,455.54" fill="#7b7b7b" stroke="#3a3a3a" stroke-width="0.3" />
<polygon points="211.12,438.18 221.66,439.99 221.66,452.64 211.12,453.07" fill="#a39d9a" stroke="#3a3a3a" stroke-width="0.3" />
<polygon points="288.95,436.00 281.68,438.18 281.68,453.07 288.95,455.54" fill="#7b7b7b" stroke="#3a3a3a" stroke-width="0.3" />
<polygon points="281.68,438.18 271.14,439.99 271.14,452.64 281.68,453.07" fill="#a39d9a" stroke="#3a3a3a" stroke-width="0.3" />
<rect x="146.20" y="412.20" width="2.40" height="33.97" fill="#ffffff" stroke="#8a8a8a" stroke-width="0.35" />
<rect x="150.67" y="415.78" width="4.36" height="2.32" fill="#3a3a3a" stroke="none" stroke-width="0.5" />
<polygon points="133.97,445.76 160.54,445.76 160.54,446.70 133.97,446.70" fill="#bdbdbd" stroke="#444" stroke-width="0.3" />
<polygon points="134.48,446.70 160.03,446.70 157.56,449.53 136.95,449.53" fill="#7a5a4b" stroke="#333" stroke-width="0.3" />
<polygon points="133.97,446.70 135.21,446.70 135.21,458.39 133.97,458.82" fill="#a3a3a3" stroke="#444" stroke-width="0.3" />
<polygon points="135.21,446.70 137.09,449.53 137.53,456.36 135.21,458.39" fill="#eeeeee" stroke="#555" stroke-width="0.3" />
<polygon points="160.54,446.70 159.30,446.70 159.30,458.39 160.54,458.82" fill="#a3a3a3" stroke="#444" stroke-width="0.3" />
<polygon points="159.30,446.70 157.42,449.53 156.98,456.36 159.30,458.39" fill="#eeeeee" stroke="#555" stroke-width="0.3" />
<ellipse cx="145.66" cy="454.03" rx="4.94" ry="1.67" fill="#ffffff"/>
<path d="M139.71,454.18 q1.31,-1.89 2.61,-0.44 M143.12,452.87 q0.94,-1.45 1.89,-0.15 M147.47,453.74 q1.31,-1.45 2.61,0.15" fill="none" stroke="#777" stroke-width="0.40"/>
<rect x="143.41" y="487.28" width="7.98" height="3.63" fill="#a9c3cb" stroke="#6a7a80" stroke-width="0.3" />
<path d="M96.10,426.16 L102.27,426.02 L102.27,433.93 L96.10,433.78 Q95.02,429.93 96.10,426.16 Z" fill="#e6e6e6" stroke="#555" stroke-width="0.4"/>
<rect x="101.84" y="426.31" width="1.09" height="7.40" fill="#6d86c4" stroke="none" stroke-width="0.5" />
<rect x="106.56" y="427.61" width="3.19" height="6.24" fill="#3d3d3d" stroke="none" stroke-width="0.5" />
<rect x="246.80" y="411.70" width="2.40" height="34.01" fill="#ffffff" stroke="#8a8a8a" stroke-width="0.35" />
<rect x="251.27" y="415.29" width="4.36" height="2.33" fill="#3a3a3a" stroke="none" stroke-width="0.5" />
<polygon points="234.56,445.30 261.15,445.30 261.15,446.24 234.56,446.24" fill="#bdbdbd" stroke="#444" stroke-width="0.3" />
<polygon points="235.07,446.24 260.64,446.24 258.17,449.08 237.54,449.08" fill="#7a5a4b" stroke="#333" stroke-width="0.3" />
<polygon points="234.56,446.24 235.79,446.24 235.79,457.94 234.56,458.38" fill="#a3a3a3" stroke="#444" stroke-width="0.3" />
<polygon points="235.79,446.24 237.68,449.08 238.12,455.91 235.79,457.94" fill="#eeeeee" stroke="#555" stroke-width="0.3" />
<polygon points="261.15,446.24 259.92,446.24 259.92,457.94 261.15,458.38" fill="#a3a3a3" stroke="#444" stroke-width="0.3" />
<polygon points="259.92,446.24 258.03,449.08 257.59,455.91 259.92,457.94" fill="#eeeeee" stroke="#555" stroke-width="0.3" />
<ellipse cx="246.26" cy="453.58" rx="4.94" ry="1.67" fill="#ffffff"/>
<path d="M240.30,453.73 q1.31,-1.89 2.62,-0.44 M243.71,452.42 q0.94,-1.45 1.89,-0.15 M248.07,453.29 q1.31,-1.45 2.62,0.15" fill="none" stroke="#777" stroke-width="0.40"/>
<rect x="244.00" y="486.86" width="7.99" height="3.63" fill="#a9c3cb" stroke="#6a7a80" stroke-width="0.3" />
<path d="M195.50,425.68 L201.67,425.53 L201.67,433.45 L195.50,433.31 Q194.41,429.46 195.50,425.68 Z" fill="#e6e6e6" stroke="#555" stroke-width="0.4"/>
<rect x="201.24" y="425.82" width="1.09" height="7.41" fill="#6d86c4" stroke="none" stroke-width="0.5" />
<rect x="205.96" y="427.13" width="3.20" height="6.25" fill="#3d3d3d" stroke="none" stroke-width="0.5" />
<g fill="none" stroke-linecap="round">
<path d="M120.0,481.7 C119.8,478.4 118.8,469.2 118.5,462.2 C118.3,455.2 118.6,445.4 118.4,439.5 C118.2,433.6 117.0,429.6 117.1,426.7 C117.1,423.8 117.4,422.9 118.5,421.9 C119.5,421.0 121.3,420.3 123.2,420.8 C125.2,421.4 128.9,421.8 130.0,425.1 C131.1,428.3 129.7,435.8 129.9,440.2 C130.2,444.6 128.8,444.4 131.6,451.4 C134.4,458.5 144.3,477.4 146.9,482.6" stroke="#f7a43a" stroke-width="0.4" opacity="0.75"/>
<path d="M120.4,479.7 C120.3,476.7 120.6,468.0 119.8,461.8 C119.0,455.6 116.5,448.3 115.6,442.5 C114.7,436.6 113.7,429.7 114.5,426.6 C115.3,423.6 118.9,425.4 120.4,424.1 C122.0,422.8 122.1,418.7 123.7,418.8 C125.3,418.8 128.9,421.2 129.9,424.5 C131.0,427.8 129.6,433.8 130.0,438.5 C130.3,443.1 132.6,444.8 131.8,452.3 C131.1,459.8 126.5,478.1 125.4,483.2" stroke="#f7a43a" stroke-width="0.4" opacity="0.75"/>
<path d="M114.7,482.4 C115.0,479.2 116.1,470.2 116.4,463.0 C116.6,455.9 116.3,445.7 116.4,439.7 C116.4,433.7 116.3,430.3 116.8,427.0 C117.3,423.7 117.7,420.8 119.5,419.9 C121.3,418.9 126.1,420.4 127.4,421.4 C128.8,422.4 127.2,423.2 127.8,426.0 C128.4,428.7 130.1,433.3 130.9,438.0 C131.8,442.7 132.2,448.2 133.0,454.3 C133.7,460.3 135.1,471.2 135.6,474.5" stroke="#f7a43a" stroke-width="0.4" opacity="0.75"/>
<path d="M120.9,485.3 C120.6,481.6 119.4,470.9 118.8,463.0 C118.2,455.2 117.1,444.0 117.3,438.1 C117.5,432.2 119.2,430.2 119.8,427.6 C120.3,424.9 120.1,423.6 120.6,422.3 C121.0,421.0 121.5,419.0 122.6,419.8 C123.7,420.5 126.2,423.9 127.3,426.9 C128.4,429.9 128.7,433.5 129.3,437.8 C130.0,442.0 130.1,446.5 131.1,452.6 C132.2,458.6 134.9,470.4 135.7,473.9" stroke="#f7a43a" stroke-width="0.4" opacity="0.75"/>
<path d="M122.6,485.9 C121.5,482.0 117.5,470.2 116.1,462.4 C114.8,454.6 114.5,444.8 114.3,439.0 C114.1,433.1 113.7,430.0 115.1,427.3 C116.4,424.6 120.5,423.5 122.4,422.6 C124.3,421.6 125.4,421.1 126.6,421.4 C127.8,421.8 128.8,422.2 129.4,424.6 C130.0,426.9 130.0,431.2 130.1,435.6 C130.2,439.9 129.6,445.1 129.8,450.7 C130.0,456.4 131.1,466.3 131.4,469.4" stroke="#f7a43a" stroke-width="0.4" opacity="0.75"/>
<path d="M118.2,484.7 C118.3,480.9 119.2,469.3 118.5,461.8 C117.9,454.4 114.8,445.9 114.2,440.1 C113.7,434.3 114.6,430.1 115.3,427.1 C116.1,424.1 117.7,422.8 118.9,422.1 C120.0,421.5 120.0,422.9 122.0,423.3 C124.0,423.7 129.7,422.2 130.9,424.6 C132.1,427.1 129.0,433.4 129.2,438.0 C129.5,442.6 131.6,446.5 132.4,452.4 C133.3,458.3 133.9,469.8 134.2,473.3" stroke="#f7a43a" stroke-width="0.4" opacity="0.75"/>
<path d="M116.4,482.8 C116.3,479.6 115.6,470.1 115.6,463.2 C115.5,456.2 116.0,447.4 116.2,441.1 C116.4,434.8 116.4,428.3 116.8,425.5 C117.2,422.6 117.4,425.0 118.6,424.1 C119.8,423.2 121.9,420.0 123.9,420.1 C125.9,420.3 129.7,421.9 130.8,425.1 C131.9,428.3 130.8,434.9 130.5,439.5 C130.2,444.0 126.6,446.1 129.0,452.4 C131.3,458.8 142.0,473.5 144.6,477.7" stroke="#f7a43a" stroke-width="0.4" opacity="0.75"/>
<path d="M115.9,484.7 C116.3,480.7 117.8,468.4 118.5,460.9 C119.1,453.4 120.6,445.3 120.0,439.6 C119.4,434.0 114.6,429.6 114.8,426.9 C114.9,424.2 118.9,424.5 120.8,423.4 C122.8,422.4 125.2,420.8 126.5,420.8 C127.7,420.8 127.5,420.7 128.2,423.5 C128.9,426.3 129.8,432.9 130.4,437.4 C131.0,441.9 129.5,443.5 131.9,450.7 C134.2,457.9 142.3,475.4 144.4,480.3" stroke="#f7a43a" stroke-width="0.4" opacity="0.75"/>
<path d="M121.1,484.3 C120.1,480.7 115.8,469.7 115.1,462.5 C114.4,455.4 116.7,447.4 116.9,441.5 C117.1,435.5 116.0,430.0 116.2,426.8 C116.5,423.5 116.9,422.8 118.5,421.9 C120.1,421.0 124.0,420.8 125.7,421.4 C127.4,422.0 127.8,422.8 128.6,425.6 C129.5,428.4 130.4,433.8 130.6,438.3 C130.9,442.7 128.4,445.5 130.2,452.2 C131.9,458.9 139.3,474.3 141.1,478.7" stroke="#f7a43a" stroke-width="0.4" opacity="0.75"/>
<path d="M116.1,486.2 C116.6,482.4 119.0,470.9 119.0,463.2 C119.0,455.6 116.7,446.3 116.2,440.2 C115.7,434.1 115.7,429.8 116.0,426.7 C116.4,423.6 117.3,422.7 118.3,421.5 C119.3,420.4 120.0,419.6 121.9,420.0 C123.8,420.4 128.0,421.3 129.6,424.1 C131.2,426.8 131.0,432.0 131.3,436.7 C131.5,441.4 132.1,446.2 131.0,452.4 C129.8,458.6 125.6,470.2 124.5,473.8" stroke="#f7a43a" stroke-width="0.4" opacity="0.75"/>
<path d="M123.6,485.7 C122.8,481.9 119.7,470.5 118.4,462.8 C117.1,455.1 116.6,445.9 115.9,439.6 C115.3,433.4 114.1,428.3 114.5,425.5 C114.9,422.6 116.7,423.1 118.4,422.5 C120.2,422.0 123.2,421.6 125.2,422.0 C127.2,422.4 129.0,422.3 130.3,424.8 C131.7,427.4 133.5,433.0 133.5,437.5 C133.6,441.9 128.9,445.6 130.6,451.6 C132.3,457.6 141.3,469.8 143.5,473.5" stroke="#f7a43a" stroke-width="0.4" opacity="0.75"/>
<path d="M117.8,481.7 C117.9,478.5 118.8,469.9 118.4,463.0 C118.0,456.1 115.6,446.6 115.4,440.3 C115.2,434.0 116.0,428.2 117.0,425.2 C118.0,422.1 120.0,422.2 121.2,421.9 C122.5,421.6 123.2,423.1 124.5,423.5 C125.8,423.9 128.2,421.8 129.2,424.3 C130.2,426.8 129.8,434.0 130.4,438.6 C131.0,443.2 129.3,445.8 132.7,451.9 C136.0,458.0 147.4,471.3 150.4,475.2" stroke="#f7a43a" stroke-width="0.4" opacity="0.75"/>
<path d="M120.5,482.0 C119.7,478.6 116.5,468.6 115.8,461.8 C115.0,455.0 116.1,446.9 116.0,441.2 C115.9,435.4 114.6,430.7 115.2,427.2 C115.8,423.8 117.6,421.4 119.4,420.5 C121.2,419.5 124.9,420.5 126.0,421.4 C127.1,422.2 125.0,423.0 126.0,425.6 C127.0,428.2 130.5,432.8 131.8,437.2 C133.2,441.6 131.9,446.6 133.9,452.2 C135.9,457.7 142.1,467.4 143.7,470.5" stroke="#f7a43a" stroke-width="0.4" opacity="0.75"/>
<path d="M120.0,483.7 C119.6,480.0 118.3,468.5 117.6,461.5 C116.8,454.5 115.5,447.4 115.7,441.8 C116.0,436.2 118.4,431.3 118.9,427.8 C119.5,424.3 118.1,421.6 119.0,420.8 C119.9,420.0 122.7,422.2 124.4,422.9 C126.2,423.5 128.9,422.2 129.7,424.7 C130.4,427.3 128.7,433.6 128.7,438.2 C128.8,442.7 128.4,444.4 130.2,452.0 C132.1,459.6 138.0,478.4 139.6,483.7" stroke="#f7a43a" stroke-width="0.4" opacity="0.75"/>
<path d="M122.7,477.1 C122.1,474.6 119.4,468.5 119.2,462.3 C119.0,456.0 121.9,445.4 121.5,439.5 C121.0,433.6 116.6,429.8 116.4,426.7 C116.1,423.6 119.0,422.5 120.0,421.2 C121.1,420.0 121.4,418.7 122.9,419.2 C124.4,419.8 127.7,421.0 128.8,424.5 C130.0,428.0 129.0,435.4 129.7,440.2 C130.3,444.9 132.4,446.2 132.6,453.1 C132.9,460.0 131.5,476.7 131.3,481.4" stroke="#f7a43a" stroke-width="0.4" opacity="0.75"/>
<path d="M120.7,478.5 C119.7,475.6 115.5,467.7 114.9,461.2 C114.3,454.8 117.0,445.3 117.0,439.6 C117.1,434.0 115.2,430.4 115.4,427.4 C115.6,424.3 116.4,422.2 118.2,421.1 C120.0,420.0 124.1,420.1 126.3,420.8 C128.4,421.6 130.1,422.5 131.0,425.5 C131.9,428.6 132.1,434.8 131.7,439.1 C131.2,443.5 129.2,446.2 128.4,451.9 C127.6,457.7 127.2,470.0 127.0,473.6" stroke="#f7a43a" stroke-width="0.4" opacity="0.75"/>
<path d="M115.9,482.4 C116.1,479.1 117.0,470.1 117.1,463.0 C117.2,455.8 116.6,445.6 116.4,439.4 C116.2,433.1 115.2,428.4 116.0,425.6 C116.8,422.8 119.7,423.2 121.3,422.6 C122.9,421.9 124.5,421.1 125.6,421.5 C126.7,421.8 127.1,422.0 128.1,424.6 C129.1,427.2 131.3,432.4 131.6,437.2 C132.0,442.0 129.9,446.4 130.4,453.6 C130.9,460.8 134.1,475.9 134.8,480.3" stroke="#f7a43a" stroke-width="0.4" opacity="0.75"/>
<path d="M114.7,479.7 C115.4,476.7 118.7,468.4 119.0,461.7 C119.4,455.0 117.4,445.4 116.8,439.5 C116.3,433.6 115.1,429.1 115.6,426.3 C116.0,423.5 118.2,423.7 119.6,422.7 C121.0,421.7 122.6,420.1 124.0,420.6 C125.5,421.0 127.2,422.7 128.4,425.4 C129.7,428.0 130.9,432.5 131.5,436.7 C132.1,441.0 128.6,444.1 132.0,451.0 C135.4,457.9 148.5,473.4 151.8,477.9" stroke="#f7a43a" stroke-width="0.4" opacity="0.75"/>
<path d="M120.2,482.7 C119.7,479.3 117.5,469.5 117.1,462.3 C116.7,455.0 117.8,445.1 117.7,439.3 C117.6,433.4 116.7,429.8 116.5,427.0 C116.3,424.1 115.4,423.3 116.6,422.2 C117.8,421.1 122.0,420.0 123.9,420.5 C125.9,421.0 127.2,422.1 128.4,425.1 C129.5,428.1 130.6,433.9 131.0,438.5 C131.3,443.1 128.0,446.8 130.5,452.7 C133.0,458.6 143.3,470.4 145.8,473.9" stroke="#f7a43a" stroke-width="0.4" opacity="0.75"/>
<path d="M116.7,481.4 C117.3,478.2 120.5,469.1 120.1,462.5 C119.7,455.8 115.0,447.9 114.3,441.7 C113.5,435.6 115.4,428.9 115.7,425.6 C116.0,422.4 114.4,422.8 116.2,422.2 C118.0,421.7 124.5,421.5 126.5,422.2 C128.6,422.9 127.8,423.9 128.5,426.4 C129.1,429.0 129.9,433.1 130.4,437.4 C130.9,441.7 131.6,446.3 131.6,452.2 C131.6,458.1 130.5,469.5 130.3,473.0" stroke="#f7a43a" stroke-width="0.4" opacity="0.75"/>
<path d="M116.9,486.0 C116.9,481.7 116.7,468.0 116.8,460.4 C116.8,452.9 117.3,446.6 117.0,440.6 C116.7,434.7 114.7,428.2 114.9,424.9 C115.2,421.6 116.9,421.6 118.6,421.0 C120.3,420.3 123.0,420.4 125.2,421.2 C127.3,422.0 130.4,422.8 131.3,425.6 C132.1,428.5 130.8,433.9 130.1,438.2 C129.5,442.4 126.8,445.3 127.5,451.1 C128.1,456.9 133.1,469.2 134.2,472.9" stroke="#f7a43a" stroke-width="0.4" opacity="0.75"/>
<path d="M115.4,478.4 C115.6,475.8 116.9,468.7 117.0,462.3 C117.1,456.0 116.2,445.9 116.1,440.2 C116.0,434.5 115.9,431.0 116.5,428.0 C117.0,425.0 117.3,423.1 119.3,422.1 C121.4,421.1 126.9,421.2 128.6,421.8 C130.4,422.5 129.6,423.3 129.7,426.1 C129.8,428.9 128.6,434.3 129.1,438.7 C129.6,443.1 128.9,446.1 132.5,452.4 C136.2,458.8 147.7,472.6 150.7,476.6" stroke="#f7a43a" stroke-width="0.4" opacity="0.75"/>
<path d="M124.9,482.9 C123.3,479.5 116.8,469.1 115.2,462.1 C113.5,455.1 115.0,447.2 115.1,441.0 C115.2,434.8 115.4,427.8 116.0,424.8 C116.7,421.8 117.4,423.5 119.0,422.8 C120.5,422.1 123.6,420.1 125.5,420.6 C127.3,421.0 128.7,422.5 129.9,425.6 C131.1,428.6 132.2,434.6 132.6,438.9 C132.9,443.2 129.3,445.7 132.0,451.2 C134.7,456.7 145.9,468.3 148.7,471.7" stroke="#f7a43a" stroke-width="0.4" opacity="0.75"/>
<path d="M116.5,479.0 C116.5,476.1 116.8,468.1 116.9,461.7 C116.9,455.3 117.0,446.5 116.9,440.8 C116.7,435.1 115.8,430.4 116.1,427.3 C116.3,424.2 116.9,423.4 118.4,422.2 C119.9,421.0 123.0,419.6 125.0,419.9 C127.1,420.2 129.7,421.3 130.6,424.1 C131.6,426.9 130.9,431.9 130.6,436.7 C130.4,441.5 128.3,446.2 129.1,452.7 C129.9,459.1 134.2,471.4 135.2,475.2" stroke="#f7a43a" stroke-width="0.4" opacity="0.75"/>
<path d="M114.2,424.2 C115.4,423.8 119.5,421.7 121.4,421.7 C123.2,421.7 124.8,423.9 125.5,424.3" stroke="#f7a43a" stroke-width="0.4" opacity="0.75"/>
<path d="M114.8,424.0 C115.6,423.5 117.1,421.4 119.7,421.0 C122.2,420.6 128.1,421.5 129.8,421.5" stroke="#f7a43a" stroke-width="0.4" opacity="0.75"/>
<path d="M114.4,424.1 C115.2,423.4 117.1,420.7 119.2,420.3 C121.2,419.9 125.3,421.6 126.5,421.8" stroke="#f7a43a" stroke-width="0.4" opacity="0.75"/>
<path d="M115.8,423.6 C116.6,423.2 118.4,421.4 120.6,421.1 C122.8,420.8 127.6,421.9 129.0,422.0" stroke="#f7a43a" stroke-width="0.4" opacity="0.75"/>
<path d="M112.4,423.7 C113.6,423.2 116.7,421.1 119.4,421.0 C122.2,420.9 127.3,422.9 128.9,423.2" stroke="#f7a43a" stroke-width="0.4" opacity="0.75"/>
<path d="M112.9,424.1 C113.7,423.8 115.9,422.4 117.8,422.2 C119.6,422.1 123.1,423.0 124.1,423.1" stroke="#f7a43a" stroke-width="0.4" opacity="0.75"/>
<path d="M152.9,420.4 C153.2,422.2 153.4,427.9 154.5,430.8 C155.7,433.8 158.6,434.9 159.9,438.4 C161.2,441.8 160.8,445.7 162.3,451.3 C163.8,456.9 167.7,468.6 168.7,472.0" stroke="#f7a43a" stroke-width="0.4" opacity="0.75"/>
<path d="M152.8,420.4 C153.2,421.6 154.1,424.5 155.1,427.6 C156.1,430.7 157.7,435.4 158.7,439.2 C159.8,442.9 160.7,446.4 161.5,450.2 C162.3,453.9 163.4,459.7 163.8,461.7" stroke="#f7a43a" stroke-width="0.4" opacity="0.75"/>
<path d="M151.7,419.2 C152.0,420.7 152.6,425.1 153.8,428.6 C155.0,432.1 157.8,436.1 158.9,440.1 C160.0,444.2 159.9,449.2 160.3,452.8 C160.7,456.3 161.2,459.9 161.3,461.3" stroke="#f7a43a" stroke-width="0.4" opacity="0.75"/>
<path d="M152.7,418.1 C152.7,419.7 151.5,423.8 152.6,427.6 C153.7,431.4 157.1,437.1 159.5,441.0 C161.8,444.9 163.3,444.1 166.8,450.9 C170.2,457.7 178.1,476.8 180.4,482.0" stroke="#f7a43a" stroke-width="0.4" opacity="0.75"/>
<path d="M152.6,417.9 C152.7,420.0 152.9,426.2 153.6,430.2 C154.3,434.1 155.5,437.8 156.6,441.6 C157.6,445.3 160.9,448.3 160.0,452.7 C159.2,457.2 152.8,465.7 151.4,468.3" stroke="#f7a43a" stroke-width="0.4" opacity="0.75"/>
<path d="M153.0,418.1 C153.3,420.0 153.5,425.6 154.8,429.2 C156.1,432.7 158.6,435.8 160.7,439.6 C162.9,443.3 165.0,445.3 167.8,451.8 C170.7,458.3 176.1,474.1 177.7,478.6" stroke="#f7a43a" stroke-width="0.4" opacity="0.75"/>
<path d="M154.6,418.2 C154.4,419.7 152.9,423.6 153.7,427.4 C154.5,431.1 158.4,436.9 159.4,441.0 C160.4,445.0 159.6,447.0 159.8,451.5 C159.9,455.9 160.4,465.0 160.5,467.8" stroke="#f7a43a" stroke-width="0.4" opacity="0.75"/>
<path d="M150.0,418.0 C150.9,419.9 154.0,425.7 155.3,429.2 C156.5,432.8 156.5,435.4 157.4,439.3 C158.4,443.2 160.9,447.8 160.9,452.5 C161.0,457.2 158.2,465.0 157.7,467.5" stroke="#f7a43a" stroke-width="0.4" opacity="0.75"/>
<path d="M149.7,419.1 C150.5,420.7 153.0,425.6 154.2,428.8 C155.5,432.0 155.4,434.5 157.2,438.4 C158.9,442.3 162.1,446.5 164.9,452.2 C167.6,458.0 172.2,469.4 173.6,472.9" stroke="#f7a43a" stroke-width="0.4" opacity="0.75"/>
<path d="M150.2,418.7 C150.8,420.0 152.2,422.9 153.8,426.5 C155.5,430.1 158.2,436.5 160.1,440.4 C161.9,444.3 163.6,445.2 164.9,449.8 C166.2,454.5 167.3,465.1 167.8,468.2" stroke="#f7a43a" stroke-width="0.4" opacity="0.75"/>
<path d="M150.9,417.7 C151.4,419.4 152.6,424.3 154.0,428.1 C155.4,431.9 157.6,436.5 159.3,440.5 C161.1,444.6 162.8,445.1 164.5,452.3 C166.2,459.5 168.8,478.7 169.6,483.9" stroke="#f7a43a" stroke-width="0.4" opacity="0.75"/>
<path d="M153.6,418.0 C154.2,419.5 156.3,423.5 157.0,426.8 C157.6,430.2 156.1,433.9 157.5,438.2 C158.9,442.4 162.7,445.3 165.5,452.3 C168.3,459.2 172.7,475.3 174.2,479.9" stroke="#f7a43a" stroke-width="0.4" opacity="0.75"/>
<path d="M152.7,419.1 C152.8,420.7 152.5,425.2 153.4,428.7 C154.2,432.3 156.4,436.6 157.6,440.4 C158.8,444.1 159.8,446.2 160.4,451.4 C161.0,456.7 161.0,468.5 161.1,471.9" stroke="#f7a43a" stroke-width="0.4" opacity="0.75"/>
<path d="M151.3,417.9 C151.8,419.7 153.0,424.8 154.3,428.5 C155.7,432.2 157.2,436.6 159.3,440.1 C161.4,443.7 163.6,442.2 166.9,449.8 C170.2,457.3 177.1,479.3 179.2,485.2" stroke="#f7a43a" stroke-width="0.4" opacity="0.75"/>
<path d="M152.2,419.1 C152.4,420.9 152.4,426.2 153.4,429.7 C154.4,433.1 156.7,436.2 158.1,440.0 C159.5,443.7 160.6,445.9 161.8,452.4 C163.0,458.8 164.7,474.0 165.2,478.4" stroke="#f7a43a" stroke-width="0.4" opacity="0.75"/>
<path d="M153.6,419.4 C153.4,421.1 151.7,426.0 152.6,429.5 C153.4,433.0 157.2,436.8 158.4,440.5 C159.7,444.2 160.2,448.1 160.3,451.9 C160.3,455.7 158.8,461.5 158.5,463.4" stroke="#f7a43a" stroke-width="0.4" opacity="0.75"/>
<path d="M151.2,420.3 C151.8,421.6 154.1,425.0 155.2,428.2 C156.3,431.5 157.4,435.9 157.7,439.8 C158.1,443.8 158.5,447.0 157.2,452.1 C155.9,457.2 151.2,467.4 150.0,470.5" stroke="#f7a43a" stroke-width="0.4" opacity="0.75"/>
<path d="M149.6,420.6 C150.2,421.9 151.3,425.4 153.1,428.5 C155.0,431.6 158.7,435.3 160.5,439.2 C162.4,443.0 162.1,445.9 164.2,451.8 C166.3,457.7 171.7,470.7 173.2,474.4" stroke="#f7a43a" stroke-width="0.4" opacity="0.75"/>
<path d="M154.0,419.0 C154.4,420.5 155.6,424.6 156.3,428.0 C157.1,431.4 157.7,435.8 158.6,439.6 C159.6,443.5 160.6,443.8 161.9,451.0 C163.1,458.1 165.5,477.2 166.3,482.4" stroke="#f7a43a" stroke-width="0.4" opacity="0.75"/>
<path d="M150.8,419.7 C151.4,421.0 153.0,424.0 154.2,427.6 C155.4,431.1 156.9,436.8 158.0,441.0 C159.0,445.1 160.5,447.5 160.6,452.4 C160.7,457.4 158.9,467.8 158.5,470.9" stroke="#f7a43a" stroke-width="0.4" opacity="0.75"/>
<path d="M154.5,419.2 C154.6,420.7 154.2,425.3 155.0,428.6 C155.9,431.8 158.7,434.9 159.6,438.9 C160.4,442.8 160.9,448.1 160.2,452.1 C159.4,456.1 156.1,461.0 155.3,462.8" stroke="#f7a43a" stroke-width="0.4" opacity="0.75"/>
<path d="M153.7,420.5 C154.1,421.7 155.1,424.5 156.2,427.8 C157.2,431.1 158.6,436.3 160.0,440.3 C161.3,444.2 162.3,446.0 164.4,451.2 C166.5,456.5 171.2,468.4 172.5,471.8" stroke="#f7a43a" stroke-width="0.4" opacity="0.75"/>
<path d="M150.8,419.2 C151.1,420.6 151.3,423.9 152.8,427.5 C154.3,431.2 157.9,436.8 159.7,440.9 C161.4,444.9 161.9,444.7 163.3,451.9 C164.7,459.1 167.4,478.8 168.2,484.1" stroke="#f7a43a" stroke-width="0.4" opacity="0.75"/>
<path d="M154.2,419.9 C154.4,421.3 154.9,424.9 155.6,428.2 C156.3,431.6 157.3,436.0 158.4,440.2 C159.5,444.3 161.2,447.3 162.2,453.0 C163.2,458.8 163.9,471.2 164.2,474.8" stroke="#f7a43a" stroke-width="0.4" opacity="0.75"/>
<path d="M155.3,418.6 C155.3,420.1 154.8,424.0 155.4,427.9 C156.1,431.8 158.1,437.9 159.3,442.0 C160.4,446.1 161.9,447.3 162.3,452.5 C162.6,457.8 161.5,470.0 161.4,473.5" stroke="#f7a43a" stroke-width="0.4" opacity="0.75"/>
<path d="M149.8,418.9 C150.7,420.5 154.0,425.2 155.2,428.7 C156.3,432.2 155.5,436.0 156.6,440.0 C157.7,444.1 160.7,445.7 161.7,453.1 C162.7,460.4 162.4,479.1 162.5,484.3" stroke="#f7a43a" stroke-width="0.4" opacity="0.75"/>
<path d="M153.3,420.3 C153.6,421.3 154.2,422.8 154.9,426.4 C155.6,430.0 156.8,437.7 157.7,441.9 C158.6,446.0 159.8,447.5 160.2,451.3 C160.5,455.1 160.1,462.6 160.0,464.9" stroke="#f7a43a" stroke-width="0.4" opacity="0.75"/>
<path d="M152.6,419.1 C153.0,420.6 153.9,425.0 154.7,428.2 C155.5,431.5 156.5,434.8 157.5,438.7 C158.4,442.7 160.2,444.8 160.5,452.0 C160.7,459.2 159.0,477.0 158.7,482.0" stroke="#f7a43a" stroke-width="0.4" opacity="0.75"/>
<path d="M152.5,419.5 C156.4,419.8 171.9,418.8 176.1,421.0 C180.4,423.2 178.1,423.9 178.1,432.9 C178.1,442.0 176.5,468.4 176.1,475.5" stroke="#f7a43a" stroke-width="0.35" opacity="0.7"/>
<path d="M153.3,419.6 C155.8,420.1 164.0,418.7 168.3,422.8 C172.6,427.0 179.5,435.8 179.1,444.5 C178.8,453.1 168.3,469.8 166.1,474.9" stroke="#f7a43a" stroke-width="0.35" opacity="0.7"/>
<path d="M153.1,420.4 C156.9,420.9 172.8,420.8 176.0,423.2 C179.1,425.6 173.2,425.0 172.0,435.0 C170.8,445.0 169.2,475.1 168.6,483.2" stroke="#f7a43a" stroke-width="0.35" opacity="0.7"/>
<path d="M153.5,420.6 C154.8,421.0 157.1,420.1 161.3,423.0 C165.4,425.9 176.6,428.4 178.5,438.2 C180.5,448.0 174.0,474.6 173.1,481.9" stroke="#f7a43a" stroke-width="0.35" opacity="0.7"/>
<path d="M153.6,419.5 C156.9,420.1 169.6,421.2 173.1,423.3 C176.7,425.4 175.5,424.6 174.8,432.0 C174.1,439.5 170.0,462.0 169.0,468.0" stroke="#f7a43a" stroke-width="0.35" opacity="0.7"/>
<path d="M151.9,420.9 C153.6,421.2 157.4,419.2 161.7,422.8 C166.1,426.3 177.3,431.8 178.0,442.1 C178.7,452.4 168.0,477.4 166.0,484.5" stroke="#f7a43a" stroke-width="0.35" opacity="0.7"/>
<path d="M154.7,419.4 C157.9,419.8 169.7,419.8 173.8,421.9 C178.0,424.0 180.5,424.8 179.8,431.9 C179.1,439.0 171.3,459.3 169.6,464.7" stroke="#f7a43a" stroke-width="0.35" opacity="0.7"/>
<path d="M152.5,420.1 C155.5,420.4 166.9,418.3 170.2,421.7 C173.5,425.0 170.8,429.8 172.5,440.1 C174.1,450.4 178.9,476.3 180.2,483.5" stroke="#f7a43a" stroke-width="0.35" opacity="0.7"/>
<path d="M150.8,419.8 C153.4,420.3 162.4,418.2 166.8,423.0 C171.2,427.9 176.3,442.2 177.2,449.0 C178.0,455.9 172.8,461.6 171.9,464.1" stroke="#f7a43a" stroke-width="0.35" opacity="0.7"/>
<path d="M124.6,457.6 C132.9,459.7 171.1,465.7 174.2,470.0 C177.4,474.3 147.2,483.4 143.5,483.5 C139.7,483.7 150.2,473.1 151.6,471.0" stroke="#f7a43a" stroke-width="0.3" opacity="0.6"/>
<path d="M133.6,478.3 C133.3,477.0 127.0,470.8 131.9,470.1 C136.8,469.4 164.3,475.5 163.0,474.1 C161.8,472.8 130.8,464.1 124.3,462.1" stroke="#f7a43a" stroke-width="0.3" opacity="0.6"/>
<path d="M159.1,477.9 C153.0,479.2 128.2,488.7 122.4,485.9 C116.6,483.1 124.4,463.8 124.3,461.0 C124.1,458.3 122.0,468.0 121.6,469.4" stroke="#f7a43a" stroke-width="0.3" opacity="0.6"/>
<path d="M154.4,481.7 C149.7,480.9 131.4,478.3 126.1,477.0 C120.8,475.6 121.6,475.1 122.5,473.4 C123.4,471.7 130.1,467.8 131.6,466.7" stroke="#f7a43a" stroke-width="0.3" opacity="0.6"/>
<path d="M119.3,477.6 C120.0,477.8 120.6,479.6 123.6,478.9 C126.5,478.3 131.5,475.1 136.9,473.8 C142.2,472.4 152.5,471.2 155.6,470.7" stroke="#f7a43a" stroke-width="0.3" opacity="0.6"/>
<path d="M170.2,483.6 C164.1,480.7 133.5,469.9 133.5,466.0 C133.5,462.1 168.9,459.6 170.4,460.0 C171.8,460.4 146.8,467.0 142.0,468.4" stroke="#f7a43a" stroke-width="0.3" opacity="0.6"/>
<path d="M176.5,459.8 C173.2,463.0 159.2,479.3 156.6,478.7 C154.1,478.1 158.2,458.3 161.2,456.0 C164.1,453.8 172.3,463.8 174.5,465.4" stroke="#f7a43a" stroke-width="0.3" opacity="0.6"/>
<path d="M168.9,475.8 C164.4,476.7 143.9,482.7 142.1,481.1 C140.3,479.5 154.7,467.9 157.9,466.2 C161.1,464.5 160.8,470.3 161.4,471.2" stroke="#f7a43a" stroke-width="0.3" opacity="0.6"/>
<path d="M160.1,474.4 C161.0,472.2 167.6,463.8 165.4,460.8 C163.1,457.7 146.7,453.0 146.7,456.0 C146.6,459.1 162.0,475.3 165.0,479.1" stroke="#f7a43a" stroke-width="0.3" opacity="0.6"/>
<path d="M167.9,457.3 C164.8,459.5 156.6,469.6 149.2,470.4 C141.8,471.2 118.9,460.2 123.4,462.1 C127.9,463.9 167.6,478.3 176.4,481.6" stroke="#f7a43a" stroke-width="0.3" opacity="0.6"/>
<path d="M130.8,480.9 C135.0,478.7 152.2,470.5 156.4,467.5 C160.6,464.5 159.9,464.7 156.0,462.9 C152.1,461.0 136.8,457.4 133.0,456.3" stroke="#f7a43a" stroke-width="0.3" opacity="0.6"/>
<path d="M156.7,473.4 C157.6,473.1 164.4,472.5 162.1,471.1 C159.8,469.7 143.0,465.8 143.0,465.2 C142.9,464.5 158.5,466.9 161.6,467.2" stroke="#f7a43a" stroke-width="0.3" opacity="0.6"/>
<path d="M153.0,478.7 C151.4,478.4 149.1,479.1 143.6,476.6 C138.0,474.1 115.7,466.5 119.8,463.8 C123.9,461.1 160.1,461.0 168.1,460.4" stroke="#f7a43a" stroke-width="0.3" opacity="0.6"/>
<path d="M119.5,456.4 C126.9,456.9 159.4,457.1 163.5,459.2 C167.6,461.3 144.0,467.3 144.4,469.2 C144.8,471.0 162.2,470.1 165.8,470.3" stroke="#f7a43a" stroke-width="0.3" opacity="0.6"/>
<path d="M148.4,456.7 C151.2,460.5 164.3,475.0 165.3,479.0 C166.4,483.1 156.5,481.3 154.7,481.0 C152.8,480.8 154.2,478.1 154.1,477.5" stroke="#f7a43a" stroke-width="0.3" opacity="0.6"/>
<path d="M168.8,474.5 C160.2,475.9 115.8,484.6 117.3,482.5 C118.7,480.5 176.9,464.8 177.4,462.0 C177.8,459.3 129.6,465.5 120.1,466.2" stroke="#f7a43a" stroke-width="0.3" opacity="0.6"/>
<path d="M122.2,467.1 C122.1,466.3 122.5,462.3 121.5,462.6 C120.5,462.9 114.0,466.3 116.2,468.9 C118.4,471.4 131.5,476.4 134.6,477.9" stroke="#f7a43a" stroke-width="0.3" opacity="0.6"/>
<path d="M140.1,461.0 C145.9,464.6 172.0,482.6 175.1,482.8 C178.2,483.1 164.4,464.7 158.7,462.5 C153.0,460.3 143.9,468.4 141.0,469.5" stroke="#f7a43a" stroke-width="0.3" opacity="0.6"/>
<path d="M141.3,456.8 C141.8,460.5 141.3,474.9 144.3,479.0 C147.2,483.2 156.6,481.8 159.0,481.8 C161.3,481.8 158.5,479.4 158.3,478.9" stroke="#f7a43a" stroke-width="0.3" opacity="0.6"/>
<path d="M170.0,483.5 C169.2,481.0 167.3,469.8 165.2,468.5 C163.0,467.2 156.0,474.3 156.9,475.7 C157.8,477.2 168.4,477.1 170.7,477.4" stroke="#f7a43a" stroke-width="0.3" opacity="0.6"/>
<path d="M143.5,461.7 C142.3,462.0 133.8,460.6 136.3,463.5 C138.8,466.4 159.7,477.7 158.3,479.1 C156.9,480.5 133.0,473.2 127.9,472.0" stroke="#f7a43a" stroke-width="0.3" opacity="0.6"/>
<path d="M168.1,467.0 C160.4,468.2 126.8,475.3 121.9,474.2 C116.9,473.1 136.5,463.3 138.5,460.3 C140.5,457.3 134.6,456.9 133.9,456.2" stroke="#f7a43a" stroke-width="0.3" opacity="0.6"/>
<path d="M112.5,477.8 C115.4,478.0 124.2,478.5 130.0,479.1 C135.8,479.7 141.3,481.5 147.0,481.4 C152.7,481.4 158.2,478.6 164.0,478.7 C169.8,478.9 179.0,481.7 182.0,482.3" stroke="#f7a43a" stroke-width="0.6" opacity="0.8"/>
<path d="M112.5,479.6 C115.4,479.9 124.2,481.3 130.0,481.4 C135.8,481.5 141.3,480.3 147.0,480.2 C152.7,480.1 158.2,480.6 164.0,480.7 C169.8,480.8 179.0,480.8 182.0,480.8" stroke="#f7a43a" stroke-width="0.6" opacity="0.8"/>
<path d="M112.5,474.9 C115.4,475.0 124.2,475.6 130.0,475.4 C135.8,475.2 141.3,473.3 147.0,473.7 C152.7,474.2 158.2,478.3 164.0,478.2 C169.8,478.1 179.0,474.2 182.0,473.4" stroke="#f7a43a" stroke-width="0.6" opacity="0.8"/>
<path d="M112.5,485.0 C115.4,484.6 124.2,482.7 130.0,482.4 C135.8,482.1 141.3,483.5 147.0,483.4 C152.7,483.2 158.2,481.4 164.0,481.6 C169.8,481.8 179.0,484.1 182.0,484.6" stroke="#f7a43a" stroke-width="0.6" opacity="0.8"/>
<path d="M112.5,486.3 C115.4,486.5 124.2,487.9 130.0,487.9 C135.8,487.9 141.3,486.8 147.0,486.4 C152.7,486.0 158.2,485.6 164.0,485.3 C169.8,485.0 179.0,484.8 182.0,484.7" stroke="#f7a43a" stroke-width="0.6" opacity="0.8"/>
<path d="M112.5,484.0 C115.4,483.9 124.2,483.5 130.0,483.5 C135.8,483.5 141.3,483.7 147.0,483.8 C152.7,483.9 158.2,484.3 164.0,484.0 C169.8,483.8 179.0,482.6 182.0,482.3" stroke="#f7a43a" stroke-width="0.6" opacity="0.8"/>
<path d="M112.5,482.7 C115.4,481.8 124.2,478.1 130.0,477.5 C135.8,477.0 141.3,478.3 147.0,479.3 C152.7,480.3 158.2,483.1 164.0,483.6 C169.8,484.1 179.0,482.5 182.0,482.3" stroke="#f7a43a" stroke-width="0.6" opacity="0.8"/>
<path d="M112.5,479.6 C115.4,478.8 124.2,475.7 130.0,474.8 C135.8,473.9 141.3,473.7 147.0,474.1 C152.7,474.6 158.2,476.9 164.0,477.5 C169.8,478.1 179.0,477.5 182.0,477.5" stroke="#f7a43a" stroke-width="0.6" opacity="0.8"/>
<path d="M112.5,480.5 C115.4,480.9 124.2,482.6 130.0,483.1 C135.8,483.6 141.3,483.5 147.0,483.7 C152.7,483.8 158.2,484.4 164.0,484.1 C169.8,483.8 179.0,482.3 182.0,481.9" stroke="#f7a43a" stroke-width="0.6" opacity="0.8"/>
<path d="M112.5,484.7 C115.4,484.6 124.2,484.2 130.0,484.5 C135.8,484.8 141.3,486.0 147.0,486.2 C152.7,486.5 158.2,486.1 164.0,486.0 C169.8,485.8 179.0,485.4 182.0,485.3" stroke="#f7a43a" stroke-width="0.6" opacity="0.8"/>
<path d="M112.5,487.0 C115.4,487.2 124.2,488.7 130.0,488.2 C135.8,487.7 141.3,483.7 147.0,484.2 C152.7,484.8 158.2,490.9 164.0,491.6 C169.8,492.4 179.0,489.3 182.0,488.8" stroke="#f7a43a" stroke-width="0.6" opacity="0.8"/>
<path d="M112.5,480.3 C115.4,479.9 124.2,478.8 130.0,478.3 C135.8,477.8 141.3,476.3 147.0,477.1 C152.7,477.8 158.2,482.1 164.0,482.9 C169.8,483.6 179.0,481.8 182.0,481.6" stroke="#f7a43a" stroke-width="0.6" opacity="0.8"/>
<path d="M112.5,479.8 C115.4,479.5 124.2,478.2 130.0,478.4 C135.8,478.6 141.3,480.9 147.0,481.1 C152.7,481.4 158.2,480.1 164.0,480.1 C169.8,480.0 179.0,480.7 182.0,480.8" stroke="#f7a43a" stroke-width="0.6" opacity="0.8"/>
<path d="M112.5,481.5 C115.4,481.5 124.2,481.7 130.0,481.0 C135.8,480.4 141.3,478.0 147.0,477.6 C152.7,477.1 158.2,477.7 164.0,478.4 C169.8,479.1 179.0,481.3 182.0,481.9" stroke="#f7a43a" stroke-width="0.6" opacity="0.8"/>
<path d="M112.5,484.3 C115.4,484.5 124.2,485.2 130.0,485.3 C135.8,485.3 141.3,484.9 147.0,484.6 C152.7,484.4 158.2,483.8 164.0,483.8 C169.8,483.8 179.0,484.4 182.0,484.6" stroke="#f7a43a" stroke-width="0.6" opacity="0.8"/>
<path d="M112.5,479.6 C115.4,478.7 124.2,474.2 130.0,474.3 C135.8,474.3 141.3,479.6 147.0,480.1 C152.7,480.7 158.2,477.7 164.0,477.7 C169.8,477.7 179.0,479.8 182.0,480.2" stroke="#f7a43a" stroke-width="0.6" opacity="0.8"/>
<path d="M112.5,482.6 C115.4,482.6 124.2,483.3 130.0,482.9 C135.8,482.5 141.3,479.9 147.0,480.3 C152.7,480.6 158.2,484.1 164.0,484.8 C169.8,485.5 179.0,484.6 182.0,484.6" stroke="#f7a43a" stroke-width="0.6" opacity="0.8"/>
<path d="M112.5,485.6 C115.4,485.6 124.2,486.1 130.0,486.0 C135.8,485.9 141.3,484.5 147.0,484.8 C152.7,485.2 158.2,487.7 164.0,488.0 C169.8,488.3 179.0,486.9 182.0,486.7" stroke="#f7a43a" stroke-width="0.6" opacity="0.8"/>
<path d="M112.5,479.8 C115.4,479.8 124.2,479.8 130.0,479.6 C135.8,479.5 141.3,478.7 147.0,478.9 C152.7,479.0 158.2,480.5 164.0,480.5 C169.8,480.4 179.0,478.9 182.0,478.6" stroke="#f7a43a" stroke-width="0.6" opacity="0.8"/>
<path d="M112.5,485.3 C115.4,485.3 124.2,486.2 130.0,485.2 C135.8,484.2 141.3,480.2 147.0,479.2 C152.7,478.3 158.2,479.4 164.0,479.5 C169.8,479.6 179.0,479.9 182.0,480.0" stroke="#f7a43a" stroke-width="0.6" opacity="0.8"/>
<path d="M112.5,477.2 C115.4,477.6 124.2,479.1 130.0,479.3 C135.8,479.4 141.3,478.4 147.0,478.2 C152.7,478.0 158.2,477.8 164.0,478.2 C169.8,478.6 179.0,480.0 182.0,480.4" stroke="#f7a43a" stroke-width="0.6" opacity="0.8"/>
<path d="M112.5,484.4 C115.4,485.4 124.2,490.6 130.0,490.5 C135.8,490.4 141.3,485.2 147.0,483.8 C152.7,482.4 158.2,481.6 164.0,482.3 C169.8,483.0 179.0,487.2 182.0,488.1" stroke="#f7a43a" stroke-width="0.6" opacity="0.8"/>
<path d="M112.5,490.2 C115.4,490.3 124.2,491.1 130.0,490.6 C135.8,490.2 141.3,488.5 147.0,487.6 C152.7,486.8 158.2,485.5 164.0,485.6 C169.8,485.6 179.0,487.4 182.0,487.8" stroke="#f7a43a" stroke-width="0.6" opacity="0.8"/>
<path d="M112.5,482.7 C115.4,482.9 124.2,483.9 130.0,483.6 C135.8,483.2 141.3,481.0 147.0,480.6 C152.7,480.2 158.2,480.8 164.0,481.4 C169.8,482.0 179.0,483.8 182.0,484.3" stroke="#f7a43a" stroke-width="0.6" opacity="0.8"/>
<path d="M112.5,480.1 C115.4,480.2 124.2,480.0 130.0,480.2 C135.8,480.5 141.3,481.3 147.0,481.7 C152.7,482.0 158.2,482.2 164.0,482.4 C169.8,482.6 179.0,482.9 182.0,483.0" stroke="#f7a43a" stroke-width="0.6" opacity="0.8"/>
<path d="M112.5,477.0 C115.4,477.0 124.2,476.3 130.0,476.8 C135.8,477.2 141.3,480.0 147.0,479.7 C152.7,479.4 158.2,475.0 164.0,475.0 C169.8,474.9 179.0,478.8 182.0,479.6" stroke="#f7a43a" stroke-width="0.6" opacity="0.8"/>
<path d="M112.5,484.9 C115.4,485.4 124.2,487.5 130.0,487.4 C135.8,487.4 141.3,485.0 147.0,484.6 C152.7,484.1 158.2,484.5 164.0,484.7 C169.8,485.0 179.0,485.9 182.0,486.1" stroke="#f7a43a" stroke-width="0.6" opacity="0.8"/>
<path d="M112.5,482.2 C115.4,482.2 124.2,481.6 130.0,482.1 C135.8,482.6 141.3,484.8 147.0,485.2 C152.7,485.5 158.2,484.4 164.0,484.0 C169.8,483.6 179.0,483.1 182.0,482.9" stroke="#f7a43a" stroke-width="0.6" opacity="0.8"/>
<path d="M112.5,488.2 C115.4,487.9 124.2,486.5 130.0,486.4 C135.8,486.2 141.3,487.1 147.0,487.3 C152.7,487.6 158.2,487.8 164.0,488.0 C169.8,488.3 179.0,488.7 182.0,488.8" stroke="#f7a43a" stroke-width="0.6" opacity="0.8"/>
<path d="M112.5,488.7 C115.4,488.5 124.2,487.1 130.0,487.2 C135.8,487.3 141.3,489.1 147.0,489.4 C152.7,489.6 158.2,489.0 164.0,488.8 C169.8,488.6 179.0,488.3 182.0,488.2" stroke="#f7a43a" stroke-width="0.6" opacity="0.8"/>
<path d="M112.5,487.7 C115.4,486.9 124.2,482.6 130.0,483.0 C135.8,483.4 141.3,489.6 147.0,489.9 C152.7,490.2 158.2,485.0 164.0,484.6 C169.8,484.3 179.0,487.4 182.0,487.9" stroke="#f7a43a" stroke-width="0.6" opacity="0.8"/>
<path d="M112.5,481.2 C115.4,481.2 124.2,481.3 130.0,481.2 C135.8,481.1 141.3,480.8 147.0,480.5 C152.7,480.2 158.2,480.0 164.0,479.5 C169.8,479.0 179.0,478.0 182.0,477.7" stroke="#f7a43a" stroke-width="0.6" opacity="0.8"/>
<path d="M112.5,475.8 C115.4,476.7 124.2,480.6 130.0,481.1 C135.8,481.7 141.3,480.4 147.0,479.2 C152.7,478.1 158.2,474.7 164.0,474.2 C169.8,473.8 179.0,476.2 182.0,476.6" stroke="#f7a43a" stroke-width="0.6" opacity="0.8"/>
<path d="M112.5,478.8 C115.4,479.1 124.2,479.9 130.0,481.0 C135.8,482.0 141.3,484.7 147.0,485.1 C152.7,485.4 158.2,483.2 164.0,483.0 C169.8,482.8 179.0,483.6 182.0,483.7" stroke="#f7a43a" stroke-width="0.6" opacity="0.8"/>
<path d="M112.5,478.9 C115.4,479.1 124.2,479.7 130.0,480.2 C135.8,480.6 141.3,481.2 147.0,481.3 C152.7,481.4 158.2,481.5 164.0,480.7 C169.8,479.9 179.0,477.2 182.0,476.5" stroke="#f7a43a" stroke-width="0.6" opacity="0.8"/>
<path d="M112.5,486.1 C115.4,485.8 124.2,485.4 130.0,484.2 C135.8,483.1 141.3,479.8 147.0,479.3 C152.7,478.7 158.2,480.4 164.0,480.7 C169.8,481.1 179.0,481.3 182.0,481.4" stroke="#f7a43a" stroke-width="0.6" opacity="0.8"/>
<path d="M112.5,480.2 C115.4,480.8 124.2,483.6 130.0,484.2 C135.8,484.8 141.3,484.7 147.0,483.7 C152.7,482.7 158.2,478.7 164.0,478.2 C169.8,477.8 179.0,480.5 182.0,481.0" stroke="#f7a43a" stroke-width="0.6" opacity="0.8"/>
<path d="M112.5,478.2 C115.4,477.8 124.2,476.0 130.0,475.7 C135.8,475.4 141.3,475.8 147.0,476.3 C152.7,476.8 158.2,478.8 164.0,479.0 C169.8,479.1 179.0,477.5 182.0,477.2" stroke="#f7a43a" stroke-width="0.6" opacity="0.8"/>
<path d="M112.5,480.3 C115.4,480.7 124.2,483.0 130.0,482.6 C135.8,482.2 141.3,478.6 147.0,478.0 C152.7,477.3 158.2,478.4 164.0,478.6 C169.8,478.8 179.0,479.2 182.0,479.3" stroke="#f7a43a" stroke-width="0.6" opacity="0.8"/>
<path d="M112.5,485.8 C115.4,486.4 124.2,488.7 130.0,489.3 C135.8,489.9 141.3,489.7 147.0,489.1 C152.7,488.6 158.2,487.0 164.0,486.1 C169.8,485.3 179.0,484.4 182.0,484.0" stroke="#f7a43a" stroke-width="0.6" opacity="0.8"/>
<path d="M147.7,455.5 C148.3,455.1 152.7,454.7 151.1,453.3 C149.5,451.9 140.1,448.2 137.9,447.2" stroke="#f7a43a" stroke-width="0.35" opacity="0.7"/>
<path d="M147.2,451.5 C145.7,451.9 138.8,454.0 138.3,453.9 C137.8,453.8 143.3,451.2 144.3,450.7" stroke="#f7a43a" stroke-width="0.35" opacity="0.7"/>
<path d="M148.5,455.1 C147.6,454.5 142.9,452.1 143.3,451.7 C143.6,451.4 149.3,452.7 150.5,452.9" stroke="#f7a43a" stroke-width="0.35" opacity="0.7"/>
<path d="M143.5,448.3 C144.1,449.0 146.0,452.5 147.3,452.2 C148.6,451.9 150.8,447.5 151.5,446.6" stroke="#f7a43a" stroke-width="0.35" opacity="0.7"/>
<path d="M146.7,451.7 C145.7,450.8 138.7,447.3 140.7,446.2 C142.6,445.1 155.4,445.4 158.3,445.2" stroke="#f7a43a" stroke-width="0.35" opacity="0.7"/>
<path d="M148.0,448.5 C146.1,448.5 138.1,448.0 136.7,448.2 C135.4,448.5 139.4,449.5 139.9,449.8" stroke="#f7a43a" stroke-width="0.35" opacity="0.7"/>
</g>
<path d="M112.5,488.5 L112.5,480 C125,476.5 140,477 150,479 C160,476.5 172,476.5 182,479.5 L182,488.5 Z" fill="#f7a43a" opacity="0.6"/>
<path d="M250.2,418.5 C253,426 256,436 257.5,448 C258.5,458 257,468 253,477 C250.5,482 247,486 244.5,489 L254,489.5 C259,485 264,478 266.5,468 C268.5,458 267,446 263,434 C259.5,426 255.5,420 253.2,418.2 Z" fill="#8e4aa8" opacity="0.55"/>
<g fill="none" stroke-linecap="round">
<path d="M250.5,418.7 C251.2,421.1 252.8,427.4 254.2,433.0 C255.6,438.5 257.9,445.8 259.1,452.0 C260.2,458.2 262.3,465.0 261.0,470.3 C259.8,475.6 253.7,480.7 251.4,483.9 C249.1,487.1 247.8,488.6 247.1,489.5" stroke="#8e4aa8" stroke-width="0.7" opacity="0.7"/>
<path d="M250.7,418.2 C251.2,420.7 252.7,427.6 254.1,433.2 C255.5,438.9 258.0,445.9 258.9,452.0 C259.8,458.0 261.0,464.1 259.6,469.5 C258.2,475.0 252.7,481.3 250.7,484.6 C248.8,487.8 248.4,488.5 247.9,489.2" stroke="#8e4aa8" stroke-width="0.7" opacity="0.7"/>
<path d="M251.0,418.0 C251.9,420.5 254.5,427.5 256.4,433.2 C258.3,438.9 261.2,446.3 262.3,452.4 C263.5,458.5 264.7,464.5 263.6,469.7 C262.4,474.8 257.5,480.1 255.2,483.3 C252.9,486.6 250.7,488.2 249.9,489.2" stroke="#8e4aa8" stroke-width="0.7" opacity="0.7"/>
<path d="M251.3,418.6 C251.9,421.0 253.1,427.3 254.6,432.9 C256.1,438.4 259.3,445.7 260.2,451.9 C261.1,458.0 261.3,464.1 259.9,469.5 C258.6,474.9 253.8,480.8 251.9,484.1 C250.0,487.4 249.0,488.4 248.5,489.3" stroke="#8e4aa8" stroke-width="0.7" opacity="0.7"/>
<path d="M250.5,418.8 C250.5,421.1 249.9,427.1 250.6,432.8 C251.4,438.4 254.4,446.2 255.1,452.4 C255.8,458.7 256.4,465.0 254.8,470.4 C253.2,475.7 247.3,481.5 245.6,484.6 C243.8,487.7 244.5,488.2 244.3,489.0" stroke="#8e4aa8" stroke-width="0.7" opacity="0.7"/>
<path d="M250.7,418.3 C251.4,421.0 253.0,429.0 254.8,434.6 C256.6,440.2 260.2,446.3 261.3,452.0 C262.4,457.7 262.8,463.4 261.4,468.8 C260.0,474.3 254.9,481.3 252.8,484.7 C250.7,488.1 249.6,488.4 248.9,489.1" stroke="#8e4aa8" stroke-width="0.7" opacity="0.7"/>
<path d="M250.4,418.0 C251.4,420.6 254.4,427.7 256.5,433.2 C258.5,438.8 261.6,445.3 262.7,451.5 C263.8,457.7 264.2,464.7 263.0,470.2 C261.7,475.6 257.2,480.8 255.1,483.9 C253.0,487.1 251.1,488.2 250.3,489.1" stroke="#8e4aa8" stroke-width="0.7" opacity="0.7"/>
<path d="M250.2,418.6 C250.6,421.1 251.0,427.5 252.5,433.2 C254.1,438.8 258.3,446.1 259.4,452.4 C260.5,458.6 260.8,465.2 259.3,470.5 C257.8,475.8 252.5,481.2 250.5,484.1 C248.4,487.1 247.4,487.7 246.8,488.5" stroke="#8e4aa8" stroke-width="0.7" opacity="0.7"/>
<path d="M251.1,419.3 C252.0,421.6 254.1,427.7 256.1,433.2 C258.1,438.6 261.9,445.6 263.1,451.9 C264.3,458.1 264.7,465.3 263.2,470.7 C261.8,476.2 256.6,481.4 254.4,484.5 C252.2,487.7 250.8,489.0 250.1,489.8" stroke="#8e4aa8" stroke-width="0.7" opacity="0.7"/>
<path d="M251.7,418.9 C251.9,421.4 251.7,428.6 252.9,434.1 C254.1,439.6 258.0,446.0 258.8,451.9 C259.6,457.9 259.5,464.6 257.8,470.0 C256.1,475.4 250.9,481.5 248.8,484.5 C246.6,487.5 245.7,487.5 245.1,488.2" stroke="#8e4aa8" stroke-width="0.7" opacity="0.7"/>
<path d="M251.0,419.0 C251.4,421.4 252.1,427.7 253.3,433.2 C254.6,438.6 257.3,445.6 258.3,451.7 C259.3,457.9 260.9,465.0 259.5,470.2 C258.0,475.5 252.0,479.9 249.7,483.2 C247.5,486.4 246.7,488.6 246.1,489.7" stroke="#8e4aa8" stroke-width="0.7" opacity="0.7"/>
<path d="M250.1,417.7 C250.4,420.2 250.7,426.9 251.9,432.6 C253.2,438.3 256.6,445.9 257.3,452.1 C258.0,458.3 257.7,464.7 256.1,469.9 C254.4,475.2 249.0,480.7 247.2,483.8 C245.4,487.0 245.7,487.9 245.4,488.7" stroke="#8e4aa8" stroke-width="0.7" opacity="0.7"/>
<path d="M250.3,419.0 C250.2,421.3 248.7,427.2 249.7,432.8 C250.6,438.4 255.0,446.3 255.9,452.5 C256.7,458.7 256.5,464.6 254.8,469.8 C253.0,475.0 246.9,480.8 245.3,484.0 C243.7,487.1 245.2,488.1 245.2,489.0" stroke="#8e4aa8" stroke-width="0.7" opacity="0.7"/>
<path d="M250.3,418.4 C251.1,420.8 253.3,427.4 255.1,432.9 C256.8,438.4 259.5,445.2 260.6,451.5 C261.6,457.8 262.7,465.4 261.4,470.8 C260.0,476.1 254.8,480.8 252.6,483.8 C250.4,486.7 248.9,487.7 248.2,488.5" stroke="#8e4aa8" stroke-width="0.7" opacity="0.7"/>
<path d="M250.7,418.4 C251.2,420.8 252.4,427.1 254.0,432.7 C255.7,438.3 259.5,445.7 260.7,451.7 C261.9,457.8 262.8,464.0 261.2,469.3 C259.6,474.5 253.2,480.0 251.1,483.3 C249.0,486.6 249.0,488.2 248.6,489.2" stroke="#8e4aa8" stroke-width="0.7" opacity="0.7"/>
<path d="M250.8,418.0 C251.6,420.6 254.0,427.5 255.8,433.1 C257.6,438.8 260.2,445.6 261.4,451.8 C262.6,458.0 264.4,464.8 263.0,470.2 C261.6,475.6 255.2,481.0 253.0,484.1 C250.8,487.3 250.3,488.3 249.8,489.1" stroke="#8e4aa8" stroke-width="0.7" opacity="0.7"/>
<path d="M250.5,418.4 C251.1,420.8 252.0,427.3 253.6,432.8 C255.3,438.4 259.4,445.6 260.3,451.8 C261.1,457.9 260.6,464.4 258.8,469.8 C257.0,475.2 251.5,481.1 249.5,484.3 C247.5,487.4 247.2,487.9 246.7,488.7" stroke="#8e4aa8" stroke-width="0.7" opacity="0.7"/>
<path d="M250.5,418.7 C251.0,421.0 252.2,426.8 253.3,432.5 C254.4,438.1 256.6,446.3 257.1,452.6 C257.7,458.9 258.1,464.8 256.5,470.1 C254.9,475.4 249.4,481.3 247.6,484.5 C245.8,487.7 246.1,488.6 245.8,489.4" stroke="#8e4aa8" stroke-width="0.7" opacity="0.7"/>
<path d="M251.0,419.0 C251.6,421.3 253.0,427.4 254.8,433.0 C256.5,438.6 260.3,446.3 261.4,452.5 C262.5,458.7 263.1,465.0 261.6,470.1 C260.1,475.3 254.9,480.3 252.7,483.5 C250.4,486.6 248.9,488.2 248.2,489.2" stroke="#8e4aa8" stroke-width="0.7" opacity="0.7"/>
<path d="M250.2,419.4 C250.7,421.6 251.8,427.5 253.3,432.9 C254.8,438.2 258.3,445.3 259.2,451.3 C260.1,457.4 260.3,463.8 258.7,469.2 C257.0,474.7 251.2,480.6 249.1,484.0 C247.0,487.3 246.6,488.4 246.0,489.3" stroke="#8e4aa8" stroke-width="0.7" opacity="0.7"/>
<path d="M250.5,418.5 C251.4,420.9 253.8,426.9 255.7,432.6 C257.6,438.2 260.6,446.1 261.6,452.4 C262.7,458.7 263.2,464.9 261.8,470.2 C260.3,475.4 255.1,480.6 253.0,483.8 C250.8,487.0 249.7,488.5 249.0,489.5" stroke="#8e4aa8" stroke-width="0.7" opacity="0.7"/>
<path d="M250.8,419.1 C251.2,421.5 251.9,428.3 253.2,433.7 C254.5,439.2 257.8,445.8 258.6,451.8 C259.4,457.8 259.8,464.3 258.2,469.7 C256.6,475.1 250.8,481.2 248.9,484.2 C247.0,487.3 247.0,487.3 246.7,488.0" stroke="#8e4aa8" stroke-width="0.7" opacity="0.7"/>
<path d="M251.3,419.1 C252.2,421.4 254.7,427.6 256.6,433.1 C258.4,438.5 261.0,445.7 262.3,451.8 C263.6,457.9 265.7,464.4 264.6,469.7 C263.4,474.9 257.9,480.2 255.6,483.5 C253.2,486.8 251.4,488.5 250.5,489.5" stroke="#8e4aa8" stroke-width="0.7" opacity="0.7"/>
<path d="M250.3,418.5 C250.8,420.9 252.3,427.5 253.7,433.1 C255.1,438.7 257.9,445.9 258.6,452.1 C259.4,458.3 259.6,465.1 258.1,470.2 C256.6,475.3 251.7,479.5 249.7,482.5 C247.7,485.6 246.6,487.6 246.0,488.6" stroke="#8e4aa8" stroke-width="0.7" opacity="0.7"/>
<path d="M251.2,418.5 C252.3,420.8 255.6,426.9 257.8,432.6 C260.0,438.2 262.9,446.2 264.3,452.4 C265.7,458.7 267.5,465.1 266.2,470.2 C264.9,475.4 259.2,480.2 256.7,483.3 C254.1,486.5 252.0,488.0 251.0,489.0" stroke="#8e4aa8" stroke-width="0.7" opacity="0.7"/>
<path d="M251.7,418.6 C252.5,420.9 254.8,426.9 256.7,432.4 C258.6,437.9 261.9,445.2 263.0,451.5 C264.2,457.8 265.1,464.8 263.5,470.3 C262.0,475.7 256.2,481.0 253.9,484.2 C251.5,487.4 250.2,488.6 249.5,489.4" stroke="#8e4aa8" stroke-width="0.7" opacity="0.7"/>
<path d="M250.8,419.1 C251.6,421.3 253.5,427.2 255.6,432.7 C257.7,438.2 261.8,446.0 263.3,452.1 C264.8,458.2 265.9,463.9 264.6,469.3 C263.3,474.6 258.1,480.8 255.7,484.2 C253.3,487.5 251.1,488.7 250.1,489.6" stroke="#8e4aa8" stroke-width="0.7" opacity="0.7"/>
<path d="M251.5,418.8 C252.6,421.1 255.6,427.2 257.9,432.5 C260.3,437.8 264.0,444.3 265.6,450.5 C267.2,456.7 268.7,464.1 267.4,469.7 C266.0,475.3 260.1,480.9 257.5,484.0 C254.8,487.1 252.4,487.8 251.4,488.5" stroke="#8e4aa8" stroke-width="0.7" opacity="0.7"/>
<path d="M249.9,417.5 C250.4,420.1 251.4,426.9 253.1,432.6 C254.9,438.3 259.2,445.6 260.3,452.0 C261.5,458.3 261.3,465.7 259.9,470.8 C258.4,476.0 253.6,479.6 251.6,482.7 C249.7,485.8 248.6,488.4 247.9,489.6" stroke="#8e4aa8" stroke-width="0.7" opacity="0.7"/>
<path d="M250.8,418.3 C252.1,420.8 256.2,427.3 258.7,433.0 C261.2,438.6 264.4,446.2 265.7,452.3 C267.1,458.5 268.0,464.6 266.8,469.8 C265.5,475.1 260.8,480.4 258.3,483.6 C255.8,486.9 252.8,488.4 251.8,489.3" stroke="#8e4aa8" stroke-width="0.7" opacity="0.7"/>
<path d="M249.3,419.0 C249.3,421.4 247.9,427.9 249.1,433.4 C250.2,438.9 255.2,445.9 256.2,452.1 C257.1,458.3 256.6,465.1 254.9,470.5 C253.2,476.0 247.6,481.6 245.7,484.7 C243.9,487.8 244.0,488.2 243.6,488.9" stroke="#8e4aa8" stroke-width="0.7" opacity="0.7"/>
<path d="M251.6,417.4 C252.7,420.1 255.8,427.7 257.9,433.4 C260.0,439.1 263.1,445.7 264.4,451.9 C265.7,458.1 266.9,465.1 265.7,470.6 C264.5,476.1 259.8,481.8 257.2,484.9 C254.7,487.9 251.7,488.2 250.6,488.8" stroke="#8e4aa8" stroke-width="0.7" opacity="0.7"/>
<path d="M251.2,418.5 C252.3,420.7 255.4,426.6 257.7,432.2 C260.1,437.8 263.5,445.7 265.1,452.1 C266.7,458.4 268.7,464.9 267.6,470.2 C266.4,475.5 260.7,480.8 258.1,483.9 C255.5,487.0 252.9,487.9 251.9,488.7" stroke="#8e4aa8" stroke-width="0.7" opacity="0.7"/>
<path d="M249.8,418.6 C249.8,421.0 249.0,427.7 250.0,433.3 C251.0,439.0 255.2,446.6 256.0,452.6 C256.7,458.7 256.5,464.6 254.7,469.8 C252.8,475.0 246.6,480.5 244.9,483.7 C243.3,486.8 244.7,487.8 244.7,488.7" stroke="#8e4aa8" stroke-width="0.7" opacity="0.7"/>
<path d="M250.0,418.2 C250.1,420.6 249.3,427.5 250.4,433.0 C251.4,438.6 255.6,445.1 256.2,451.3 C256.8,457.6 255.8,465.1 254.0,470.5 C252.2,475.9 247.0,480.9 245.4,483.8 C243.7,486.8 244.2,487.5 244.0,488.2" stroke="#8e4aa8" stroke-width="0.7" opacity="0.7"/>
<path d="M252.1,418.7 C253.0,421.1 255.5,427.3 257.5,433.0 C259.6,438.6 262.8,446.4 264.4,452.6 C266.1,458.7 268.8,464.5 267.6,469.7 C266.3,474.9 259.6,480.6 257.1,483.9 C254.7,487.2 253.6,488.4 252.9,489.3" stroke="#8e4aa8" stroke-width="0.7" opacity="0.7"/>
<path d="M250.1,418.6 C250.6,420.9 251.6,426.9 253.0,432.4 C254.4,437.9 257.6,445.6 258.6,451.8 C259.6,457.9 260.6,464.0 259.1,469.4 C257.5,474.7 251.3,480.3 249.2,483.7 C247.1,487.0 246.9,488.6 246.5,489.5" stroke="#8e4aa8" stroke-width="0.7" opacity="0.7"/>
<path d="M250.6,418.4 C250.6,420.8 250.1,427.4 250.9,432.9 C251.7,438.4 255.0,445.2 255.6,451.3 C256.2,457.4 256.1,464.1 254.6,469.6 C253.1,475.1 248.3,480.7 246.4,484.1 C244.6,487.4 244.1,488.8 243.6,489.8" stroke="#8e4aa8" stroke-width="0.7" opacity="0.7"/>
<path d="M252.9,418.1 C253.9,420.6 256.8,427.5 258.8,433.1 C260.9,438.8 263.7,445.8 265.2,452.1 C266.8,458.3 269.2,465.0 268.1,470.4 C267.0,475.9 261.6,481.5 258.8,484.7 C256.1,487.8 252.7,488.5 251.5,489.3" stroke="#8e4aa8" stroke-width="0.7" opacity="0.7"/>
<path d="M252.0,419.5 C253.0,421.7 255.7,427.3 258.0,432.9 C260.3,438.4 264.1,446.5 265.7,452.6 C267.3,458.8 269.1,464.5 267.8,469.8 C266.5,475.0 260.7,480.9 257.9,484.1 C255.0,487.3 252.1,488.3 250.9,489.1" stroke="#8e4aa8" stroke-width="0.7" opacity="0.7"/>
<path d="M250.7,419.2 C251.6,421.4 254.1,427.0 255.9,432.4 C257.6,437.9 260.2,445.4 261.3,451.6 C262.5,457.9 264.1,464.6 262.8,470.0 C261.5,475.5 255.6,481.3 253.3,484.5 C251.0,487.6 249.8,488.1 249.1,488.8" stroke="#8e4aa8" stroke-width="0.7" opacity="0.7"/>
<path d="M250.2,418.2 C251.0,420.7 253.1,428.0 254.7,433.6 C256.4,439.1 259.0,445.4 260.1,451.4 C261.2,457.4 262.6,464.3 261.3,469.8 C260.0,475.2 254.4,480.9 252.1,484.0 C249.8,487.2 248.5,488.0 247.8,488.8" stroke="#8e4aa8" stroke-width="0.7" opacity="0.7"/>
<path d="M251.3,417.7 C252.5,420.3 256.3,427.4 258.7,433.1 C261.1,438.7 264.2,445.4 265.6,451.6 C266.9,457.8 268.1,464.9 266.9,470.2 C265.8,475.5 261.1,480.4 258.6,483.5 C256.0,486.6 252.9,487.8 251.8,488.7" stroke="#8e4aa8" stroke-width="0.7" opacity="0.7"/>
<path d="M251.4,418.1 C252.5,420.6 255.5,427.4 257.8,433.1 C260.1,438.9 263.1,446.7 264.9,452.7 C266.8,458.7 269.8,463.9 268.8,469.3 C267.8,474.7 261.6,481.7 258.7,484.9 C255.7,488.1 252.4,487.8 251.1,488.4" stroke="#8e4aa8" stroke-width="0.7" opacity="0.7"/>
<path d="M249.6,418.8 C249.8,421.1 249.7,426.9 250.8,432.5 C252.0,438.0 255.8,446.0 256.5,452.1 C257.3,458.2 257.3,463.8 255.5,469.1 C253.7,474.4 247.6,480.8 245.8,483.9 C244.0,487.1 244.9,487.3 244.7,488.0" stroke="#8e4aa8" stroke-width="0.7" opacity="0.7"/>
<path d="M218.7,421.0 C219.9,421.8 224.0,423.3 226.0,426.0 C228.0,428.7 229.9,433.0 230.9,437.0 C231.9,441.0 231.8,445.9 232.0,450.0 C232.2,454.1 231.6,457.1 231.8,461.3 C232.0,465.5 232.4,470.6 233.0,475.0 C233.6,479.4 235.1,485.5 235.5,487.6" stroke="#8e4aa8" stroke-width="0.45" opacity="0.85"/>
<path d="M226.2,490.4 C227.7,489.7 231.0,486.2 235.0,486.0 C239.0,485.8 245.0,488.8 250.0,489.0 C255.0,489.2 260.5,486.9 265.0,487.0 C269.5,487.1 274.9,489.1 276.9,489.5" stroke="#8e4aa8" stroke-width="0.45" opacity="0.85"/>
<path d="M222.0,492.0 C223.7,491.3 228.3,488.3 232.0,488.0 C235.7,487.7 242.0,489.7 244.0,490.0" stroke="#8e4aa8" stroke-width="0.45" opacity="0.85"/>
<path d="M251.0,419.0 C252.8,419.3 258.5,420.5 262.0,421.0 C265.5,421.5 268.9,421.4 272.0,421.9 C275.1,422.4 279.2,423.5 280.6,423.8" stroke="#8e4aa8" stroke-width="0.45" opacity="0.85"/>
<path d="M265.6,421.9 C266.3,422.9 269.8,425.0 270.0,428.0 C270.2,431.0 267.0,435.5 267.0,440.0 C267.0,444.5 268.5,450.0 270.0,455.0 C271.5,460.0 275.7,464.8 276.0,470.0 C276.3,475.2 272.7,483.3 272.0,486.0" stroke="#8e4aa8" stroke-width="0.45" opacity="0.85"/>
<path d="M234.0,455.0 C235.0,456.2 238.0,459.5 240.0,462.0 C242.0,464.5 244.3,466.7 246.0,470.0 C247.7,473.3 249.3,480.0 250.0,482.0" stroke="#8e4aa8" stroke-width="0.45" opacity="0.85"/>
<path d="M268.0,480.0 C269.0,480.7 272.2,482.7 274.0,484.0 C275.8,485.3 278.2,487.3 279.0,488.0" stroke="#8e4aa8" stroke-width="0.45" opacity="0.85"/>
</g>
<text x="147.0" y="504.6" font-size="7.2" text-anchor="middle" fill="#f39c2f" font-weight="normal" font-style="normal"  stroke="#f39c2f" stroke-width="0.14">Storer</text>
<text x="246.5" y="504.6" font-size="7.2" text-anchor="middle" fill="#8a3cab" font-weight="normal" font-style="normal"  stroke="#8a3cab" stroke-width="0.14">Achiever</text>
<text x="302.9" y="350.6" font-size="10.8" text-anchor="start" fill="#000" font-weight="bold" font-style="normal"  stroke="#000" stroke-width="0.14">g</text>
<text x="367.8" y="359.0" font-size="7.2" fill="#8a3cab" text-anchor="middle" stroke="#8a3cab" stroke-width="0.14">Achiever (<tspan font-style="italic">n</tspan> = 31)</text>
<text x="367.8" y="372.2" font-size="7.2" fill="#f39c2f" text-anchor="middle" stroke="#f39c2f" stroke-width="0.14">Storer (<tspan font-style="italic">n</tspan> = 31)</text>
<polygon points="329.70,463.20 355.10,409.60 380.10,395.70 405.00,390.50 405.00,402.50 380.10,407.70 355.10,421.60 329.70,475.20" fill="#ddc6e6" stroke="none" stroke-width="0.5" />
<polygon points="329.70,482.30 355.10,465.20 380.10,466.50 405.00,470.00 405.00,478.00 380.10,474.50 355.10,473.20 329.70,490.30" fill="#fde0bd" stroke="none" stroke-width="0.5" />
<polyline points="329.70,469.20 355.10,415.60 380.10,401.70 405.00,396.50" fill="none" stroke="#7b3a9d" stroke-width="1.6" stroke-linejoin="round" stroke-linecap="round" />
<polyline points="329.70,486.30 355.10,469.20 380.10,470.50 405.00,474.00" fill="none" stroke="#f5a02e" stroke-width="1.6" stroke-linejoin="round" stroke-linecap="round" />
<line x1="327.00" y1="386.00" x2="327.00" y2="495.00" stroke="#777" stroke-width="0.55" />
<line x1="327.00" y1="495.00" x2="407.70" y2="495.00" stroke="#777" stroke-width="0.55" />
<line x1="325.00" y1="495.00" x2="327.00" y2="495.00" stroke="#666" stroke-width="0.45" />
<line x1="325.00" y1="476.24" x2="327.00" y2="476.24" stroke="#666" stroke-width="0.45" />
<line x1="325.00" y1="457.48" x2="327.00" y2="457.48" stroke="#666" stroke-width="0.45" />
<line x1="325.00" y1="438.72" x2="327.00" y2="438.72" stroke="#666" stroke-width="0.45" />
<line x1="325.00" y1="419.96" x2="327.00" y2="419.96" stroke="#666" stroke-width="0.45" />
<line x1="325.00" y1="401.20" x2="327.00" y2="401.20" stroke="#666" stroke-width="0.45" />
<line x1="329.70" y1="495.00" x2="329.70" y2="497.00" stroke="#666" stroke-width="0.45" />
<line x1="355.10" y1="495.00" x2="355.10" y2="497.00" stroke="#666" stroke-width="0.45" />
<line x1="380.10" y1="495.00" x2="380.10" y2="497.00" stroke="#666" stroke-width="0.45" />
<line x1="405.00" y1="495.00" x2="405.00" y2="497.00" stroke="#666" stroke-width="0.45" />
<text x="323.5" y="403.7" font-size="7.2" text-anchor="end" fill="#231f20" font-weight="normal" font-style="normal"  stroke="#231f20" stroke-width="0.14">50</text>
<text x="323.5" y="497.5" font-size="7.2" text-anchor="end" fill="#231f20" font-weight="normal" font-style="normal"  stroke="#231f20" stroke-width="0.14">0</text>
<text x="329.7" y="506.2" font-size="7.2" text-anchor="middle" fill="#231f20" font-weight="normal" font-style="normal"  stroke="#231f20" stroke-width="0.14">1</text>
<text x="405.0" y="506.2" font-size="7.2" text-anchor="middle" fill="#231f20" font-weight="normal" font-style="normal"  stroke="#231f20" stroke-width="0.14">4</text>
<text x="367.8" y="515.4" font-size="7.2" text-anchor="middle" fill="#231f20" font-weight="normal" font-style="normal"  stroke="#231f20" stroke-width="0.14">Time (days)</text>
<line x1="336.80" y1="387.80" x2="405.00" y2="387.80" stroke="#999" stroke-width="0.7" />
<text x="370.9" y="386.4" font-size="8.5" text-anchor="middle" fill="#231f20" font-weight="normal" font-style="normal"  stroke="#231f20" stroke-width="0.14">****</text>
<line x1="408.50" y1="403.80" x2="408.50" y2="471.30" stroke="#777" stroke-width="0.55" />
<text x="400.6" y="440.2" font-size="8.5" text-anchor="middle" fill="#231f20" font-weight="normal" font-style="normal"  stroke="#231f20" stroke-width="0.14">****</text>
<g transform="translate(310.5,446.0) rotate(-90)"><text x="0" y="0" font-size="7.2" fill="#231f20" text-anchor="middle" stroke="#231f20" stroke-width="0.14">%CS</text></g>
<text x="430.4" y="350.6" font-size="10.8" text-anchor="start" fill="#000" font-weight="bold" font-style="normal"  stroke="#000" stroke-width="0.14">h</text>
<text x="476.5" y="354.3" font-size="7.2" fill="#231f20" text-anchor="middle" stroke="#231f20" stroke-width="0.14"><tspan font-style="italic">P</tspan> = 0.04</text>
<polyline points="465.20,359.70 465.20,357.00 487.80,357.00 487.80,359.70" fill="none" stroke="#333" stroke-width="0.55" stroke-linejoin="round" stroke-linecap="round" />
<rect x="451.50" y="439.50" width="20.30" height="54.50" fill="#94aad3" stroke="none" stroke-width="0.5" />
<rect x="476.00" y="419.70" width="19.70" height="74.30" fill="#a3dcc0" stroke="none" stroke-width="0.5" />
<line x1="461.50" y1="432.00" x2="461.50" y2="439.50" stroke="#5a6fa0" stroke-width="0.7" />
<line x1="459.50" y1="432.00" x2="463.50" y2="432.00" stroke="#5a6fa0" stroke-width="0.7" />
<line x1="485.70" y1="414.20" x2="485.70" y2="419.70" stroke="#5aa07a" stroke-width="0.7" />
<line x1="483.70" y1="414.20" x2="487.70" y2="414.20" stroke="#5aa07a" stroke-width="0.7" />
<line x1="448.90" y1="362.40" x2="448.90" y2="494.00" stroke="#777" stroke-width="0.55" />
<line x1="446.80" y1="494.00" x2="448.90" y2="494.00" stroke="#666" stroke-width="0.45" />
<line x1="446.80" y1="461.10" x2="448.90" y2="461.10" stroke="#666" stroke-width="0.45" />
<line x1="446.80" y1="428.20" x2="448.90" y2="428.20" stroke="#666" stroke-width="0.45" />
<line x1="446.80" y1="395.30" x2="448.90" y2="395.30" stroke="#666" stroke-width="0.45" />
<line x1="446.80" y1="362.40" x2="448.90" y2="362.40" stroke="#666" stroke-width="0.45" />
<text x="445.0" y="364.9" font-size="7.2" text-anchor="end" fill="#231f20" font-weight="normal" font-style="normal"  stroke="#231f20" stroke-width="0.14">1</text>
<text x="445.0" y="496.5" font-size="7.2" text-anchor="end" fill="#231f20" font-weight="normal" font-style="normal"  stroke="#231f20" stroke-width="0.14">0</text>
<circle cx="458.36" cy="494.00" r="2.45" fill="#fff" stroke="#eef2fa" stroke-width="0.3" />
<circle cx="462.03" cy="362.40" r="2.45" fill="#fff" stroke="#7a97cc" stroke-width="0.8" />
<circle cx="459.94" cy="375.56" r="2.45" fill="#fff" stroke="#7a97cc" stroke-width="0.8" />
<circle cx="462.75" cy="376.88" r="2.45" fill="#fff" stroke="#7a97cc" stroke-width="0.8" />
<circle cx="463.01" cy="396.62" r="2.45" fill="#fff" stroke="#7a97cc" stroke-width="0.8" />
<circle cx="456.29" cy="397.93" r="2.45" fill="#fff" stroke="#7a97cc" stroke-width="0.8" />
<circle cx="455.66" cy="404.51" r="2.45" fill="#fff" stroke="#7a97cc" stroke-width="0.8" />
<circle cx="465.55" cy="405.83" r="2.45" fill="#fff" stroke="#7a97cc" stroke-width="0.8" />
<circle cx="458.61" cy="416.36" r="2.45" fill="#fff" stroke="#7a97cc" stroke-width="0.8" />
<circle cx="458.31" cy="428.20" r="2.45" fill="#fff" stroke="#7a97cc" stroke-width="0.8" />
<circle cx="467.45" cy="429.52" r="2.45" fill="#fff" stroke="#7a97cc" stroke-width="0.8" />
<circle cx="461.14" cy="432.15" r="2.45" fill="#fff" stroke="#7a97cc" stroke-width="0.8" />
<circle cx="465.54" cy="436.10" r="2.45" fill="#fff" stroke="#7a97cc" stroke-width="0.8" />
<circle cx="461.22" cy="438.73" r="2.45" fill="#fff" stroke="#eef2fa" stroke-width="0.3" />
<circle cx="463.17" cy="441.36" r="2.45" fill="#fff" stroke="#eef2fa" stroke-width="0.3" />
<circle cx="457.31" cy="445.31" r="2.45" fill="#fff" stroke="#eef2fa" stroke-width="0.3" />
<circle cx="463.12" cy="450.57" r="2.45" fill="#fff" stroke="#eef2fa" stroke-width="0.3" />
<circle cx="465.92" cy="454.52" r="2.45" fill="#fff" stroke="#eef2fa" stroke-width="0.3" />
<circle cx="461.78" cy="458.47" r="2.45" fill="#fff" stroke="#eef2fa" stroke-width="0.3" />
<circle cx="464.40" cy="459.78" r="2.45" fill="#fff" stroke="#eef2fa" stroke-width="0.3" />
<circle cx="463.56" cy="476.89" r="2.45" fill="#fff" stroke="#eef2fa" stroke-width="0.3" />
<circle cx="456.27" cy="478.21" r="2.45" fill="#fff" stroke="#eef2fa" stroke-width="0.3" />
<circle cx="464.60" cy="480.84" r="2.45" fill="#fff" stroke="#eef2fa" stroke-width="0.3" />
<circle cx="462.59" cy="486.10" r="2.45" fill="#fff" stroke="#eef2fa" stroke-width="0.3" />
<circle cx="459.12" cy="490.05" r="2.45" fill="#fff" stroke="#eef2fa" stroke-width="0.3" />
<circle cx="455.87" cy="492.68" r="2.45" fill="#fff" stroke="#eef2fa" stroke-width="0.3" />
<circle cx="490.09" cy="362.40" r="2.45" fill="#fff" stroke="#78c89e" stroke-width="0.8" />
<circle cx="485.37" cy="365.03" r="2.45" fill="#fff" stroke="#78c89e" stroke-width="0.8" />
<circle cx="488.33" cy="368.98" r="2.45" fill="#fff" stroke="#78c89e" stroke-width="0.8" />
<circle cx="490.25" cy="378.19" r="2.45" fill="#fff" stroke="#78c89e" stroke-width="0.8" />
<circle cx="488.27" cy="379.51" r="2.45" fill="#fff" stroke="#78c89e" stroke-width="0.8" />
<circle cx="490.75" cy="383.46" r="2.45" fill="#fff" stroke="#78c89e" stroke-width="0.8" />
<circle cx="484.44" cy="388.72" r="2.45" fill="#fff" stroke="#78c89e" stroke-width="0.8" />
<circle cx="489.31" cy="390.04" r="2.45" fill="#fff" stroke="#78c89e" stroke-width="0.8" />
<circle cx="485.04" cy="392.67" r="2.45" fill="#fff" stroke="#78c89e" stroke-width="0.8" />
<circle cx="490.93" cy="396.62" r="2.45" fill="#fff" stroke="#78c89e" stroke-width="0.8" />
<circle cx="490.25" cy="399.25" r="2.45" fill="#fff" stroke="#78c89e" stroke-width="0.8" />
<circle cx="480.87" cy="401.88" r="2.45" fill="#fff" stroke="#78c89e" stroke-width="0.8" />
<circle cx="481.33" cy="404.51" r="2.45" fill="#fff" stroke="#78c89e" stroke-width="0.8" />
<circle cx="482.30" cy="407.14" r="2.45" fill="#fff" stroke="#78c89e" stroke-width="0.8" />
<circle cx="491.29" cy="411.09" r="2.45" fill="#fff" stroke="#78c89e" stroke-width="0.8" />
<circle cx="484.93" cy="412.41" r="2.45" fill="#fff" stroke="#78c89e" stroke-width="0.8" />
<circle cx="487.22" cy="415.04" r="2.45" fill="#fff" stroke="#78c89e" stroke-width="0.8" />
<circle cx="483.31" cy="416.36" r="2.45" fill="#fff" stroke="#78c89e" stroke-width="0.8" />
<circle cx="485.79" cy="421.62" r="2.45" fill="#fff" stroke="#effaf4" stroke-width="0.3" />
<circle cx="484.33" cy="425.57" r="2.45" fill="#fff" stroke="#effaf4" stroke-width="0.3" />
<circle cx="483.91" cy="428.20" r="2.45" fill="#fff" stroke="#effaf4" stroke-width="0.3" />
<circle cx="486.72" cy="434.78" r="2.45" fill="#fff" stroke="#effaf4" stroke-width="0.3" />
<circle cx="486.71" cy="441.36" r="2.45" fill="#fff" stroke="#effaf4" stroke-width="0.3" />
<circle cx="490.55" cy="446.62" r="2.45" fill="#fff" stroke="#effaf4" stroke-width="0.3" />
<circle cx="487.88" cy="449.26" r="2.45" fill="#fff" stroke="#effaf4" stroke-width="0.3" />
<circle cx="490.85" cy="454.52" r="2.45" fill="#fff" stroke="#effaf4" stroke-width="0.3" />
<circle cx="489.98" cy="461.10" r="2.45" fill="#fff" stroke="#effaf4" stroke-width="0.3" />
<circle cx="491.59" cy="465.05" r="2.45" fill="#fff" stroke="#effaf4" stroke-width="0.3" />
<circle cx="487.76" cy="467.68" r="2.45" fill="#fff" stroke="#effaf4" stroke-width="0.3" />
<circle cx="481.66" cy="471.63" r="2.45" fill="#fff" stroke="#effaf4" stroke-width="0.3" />
<circle cx="490.03" cy="475.58" r="2.45" fill="#fff" stroke="#effaf4" stroke-width="0.3" />
<circle cx="491.28" cy="480.84" r="2.45" fill="#fff" stroke="#effaf4" stroke-width="0.3" />
<circle cx="490.56" cy="483.47" r="2.45" fill="#fff" stroke="#effaf4" stroke-width="0.3" />
<circle cx="486.53" cy="487.42" r="2.45" fill="#fff" stroke="#effaf4" stroke-width="0.3" />
<circle cx="488.27" cy="490.05" r="2.45" fill="#fff" stroke="#effaf4" stroke-width="0.3" />
<circle cx="482.23" cy="494.00" r="2.45" fill="#fff" stroke="#effaf4" stroke-width="0.3" />
<text x="461.0" y="493.8" font-size="7.2" fill="#231f20" text-anchor="middle" stroke="#231f20" stroke-width="0.14"><tspan font-style="italic">n</tspan> = 26</text>
<text x="485.4" y="493.8" font-size="7.2" fill="#231f20" text-anchor="middle" stroke="#231f20" stroke-width="0.14"><tspan font-style="italic">n</tspan> = 36</text>
<g fill="none" stroke="#7a97cc" stroke-width="1.1"><circle cx="461.8" cy="503.6" r="3.8"/><line x1="461.8" y1="507.40000000000003" x2="461.8" y2="512.34"/><line x1="459.33" y1="509.87" x2="464.27000000000004" y2="509.87"/></g>
<g fill="none" stroke="#78c89e" stroke-width="1.1"><circle cx="484.3" cy="507.2" r="3.9"/><line x1="487.05769000000004" y1="504.44230999999996" x2="491.71000000000004" y2="499.78999999999996"/><polyline points="488.00500000000005,499.78999999999996 491.71000000000004,499.78999999999996 491.71000000000004,503.49499999999995"/></g>
<g transform="translate(436.8,427.0) rotate(-90)"><text x="0" y="0" font-size="7.2" fill="#231f20" text-anchor="middle" stroke="#231f20" stroke-width="0.14">Distance to Storer archetype</text></g>
<text x="0.1" y="528.2" font-size="10.8" text-anchor="start" fill="#000" font-weight="bold" font-style="normal"  stroke="#000" stroke-width="0.14">i</text>
<circle cx="98.80" cy="571.60" r="34.20" fill="#f9c482" stroke="none" stroke-width="0.5" />
<polygon points="98.80,571.60 64.60,571.60 64.62,570.55 64.66,569.50 64.74,568.46 64.86,567.41 65.00,566.37 65.18,565.34 65.39,564.31 65.63,563.29 65.90,562.27 66.20,561.27 66.53,560.27 66.89,559.29 67.29,558.31 67.71,557.35 68.16,556.41 68.64,555.47 69.15,554.56 69.69,553.65 70.25,552.77 70.84,551.90 71.46,551.05 72.10,550.22 72.77,549.42 73.46,548.63 74.18,547.86 74.92,547.12 75.68,546.40 76.47,545.70 77.27,545.02 78.10,544.38 78.94,543.75 79.81,543.16 80.69,542.59 81.59,542.05 82.50,541.53 83.43,541.05 84.38,540.59 85.34,540.16 86.31,539.76 87.29,539.40 88.28,539.06 89.29,538.75 90.30,538.47 91.32,538.23 92.35,538.01 93.38,537.83 94.42,537.68 95.46,537.56 96.51,537.48 97.56,537.42 98.61,537.40 99.66,537.41 100.70,537.45 101.75,537.53 102.80,537.63 103.84,537.77 104.87,537.94 105.90,538.15 106.92,538.38 107.94,538.64" fill="#b894c8" stroke="none" stroke-width="0.5" />
<circle cx="98.80" cy="571.60" r="17.80" fill="#fff" stroke="none" stroke-width="0.5" />
<circle cx="98.80" cy="571.60" r="11.60" fill="#7a99c9" stroke="none" stroke-width="0.5" />
<circle cx="98.80" cy="645.20" r="34.20" fill="#f9c482" stroke="none" stroke-width="0.5" />
<polygon points="98.80,645.20 64.60,645.20 64.67,642.99 64.88,640.80 65.24,638.62 65.73,636.47 66.36,634.36 67.13,632.29 68.03,630.27 69.06,628.32 70.21,626.44 71.47,624.63 72.86,622.91 74.35,621.29 75.94,619.76 77.63,618.34 79.40,617.03 81.26,615.84 83.19,614.77 85.18,613.83 87.24,613.01 89.33,612.34 91.47,611.79 93.64,611.39 95.83,611.13 98.04,611.01 100.24,611.03 102.44,611.19 104.63,611.50 106.79,611.95 108.92,612.53 111.00,613.25 113.03,614.10 115.01,615.09 116.92,616.19 118.75,617.42 120.50,618.77 122.16,620.22 123.72,621.78 125.18,623.43 126.53,625.18 127.76,627.01 128.87,628.91 129.86,630.89 130.72,632.92 131.44,635.00 132.03,637.13 132.49,639.29 132.80,641.47 132.97,643.67 132.99,645.88 132.88,648.08 132.62,650.27 132.22,652.44 131.69,654.58 131.01,656.68 130.21,658.74 129.27,660.73 128.20,662.67 127.02,664.53 125.71,666.30 124.30,668.00" fill="#b894c8" stroke="none" stroke-width="0.5" />
<circle cx="98.80" cy="645.20" r="17.80" fill="#fff" stroke="none" stroke-width="0.5" />
<circle cx="98.80" cy="645.20" r="11.60" fill="#84c9a2" stroke="none" stroke-width="0.5" />
<g fill="none" stroke="#fff" stroke-width="1.2"><circle cx="98.8" cy="568.6" r="3.6"/><line x1="98.8" y1="572.2" x2="98.8" y2="576.88"/><line x1="96.46" y1="574.5400000000001" x2="101.14" y2="574.5400000000001"/></g>
<g fill="none" stroke="#fff" stroke-width="1.2"><circle cx="97.6" cy="647.2" r="3.6"/><line x1="100.14555999999999" y1="644.65444" x2="104.44" y2="640.36"/><polyline points="101.02,640.36 104.44,640.36 104.44,643.78"/></g>
<text x="88.0" y="552.7" font-size="7.2" text-anchor="middle" fill="#231f20" font-weight="normal" font-style="normal"  stroke="#231f20" stroke-width="0.14">31%</text>
<text x="94.0" y="601.4" font-size="7.2" text-anchor="middle" fill="#231f20" font-weight="normal" font-style="normal"  stroke="#231f20" stroke-width="0.14">70%</text>
<text x="94.0" y="625.7" font-size="7.2" text-anchor="middle" fill="#231f20" font-weight="normal" font-style="normal"  stroke="#231f20" stroke-width="0.14">64%</text>
<text x="94.0" y="674.1" font-size="7.2" text-anchor="middle" fill="#231f20" font-weight="normal" font-style="normal"  stroke="#231f20" stroke-width="0.14">36%</text>
<polyline points="39.00,542.00 36.80,542.00 36.80,595.30 39.00,595.30" fill="none" stroke="#777" stroke-width="0.55" stroke-linejoin="round" stroke-linecap="round" />
<polyline points="39.00,618.20 36.80,618.20 36.80,671.60 39.00,671.60" fill="none" stroke="#777" stroke-width="0.55" stroke-linejoin="round" stroke-linecap="round" />
<text x="43.5" y="544.6" font-size="7.2" fill="#8a3cab" text-anchor="start" stroke="#8a3cab" stroke-width="0.14"><tspan font-style="italic">n</tspan> = 8</text>
<text x="43.5" y="597.9" font-size="7.2" fill="#f39c2f" text-anchor="start" stroke="#f39c2f" stroke-width="0.14"><tspan font-style="italic">n</tspan> = 18</text>
<text x="43.5" y="620.8" font-size="7.2" fill="#8a3cab" text-anchor="start" stroke="#8a3cab" stroke-width="0.14"><tspan font-style="italic">n</tspan> = 23</text>
<text x="43.5" y="674.2" font-size="7.2" fill="#f39c2f" text-anchor="start" stroke="#f39c2f" stroke-width="0.14"><tspan font-style="italic">n</tspan> = 13</text>
<g fill="none" stroke="#222" stroke-width="0.75"><circle cx="22.0" cy="567.2" r="1.75"/><line x1="22.0" y1="568.95" x2="22.0" y2="571.225"/><line x1="20.8625" y1="570.0875000000001" x2="23.1375" y2="570.0875000000001"/></g>
<text x="21.6" y="581.3" font-size="7.2" fill="#231f20" text-anchor="middle" stroke="#231f20" stroke-width="0.14"><tspan font-style="italic">n</tspan> = 26</text>
<g fill="none" stroke="#222" stroke-width="0.75"><circle cx="21.0" cy="643.2" r="1.75"/><line x1="22.237425" y1="641.962575" x2="24.325" y2="639.875"/><polyline points="22.662499999999998,639.875 24.325,639.875 24.325,641.5375"/></g>
<text x="21.6" y="653.3" font-size="7.2" fill="#231f20" text-anchor="middle" stroke="#231f20" stroke-width="0.14"><tspan font-style="italic">n</tspan> = 36</text>
<polyline points="133.50,570.60 135.60,570.60 135.60,654.20 133.50,654.20" fill="none" stroke="#777" stroke-width="0.55" stroke-linejoin="round" stroke-linecap="round" />
<g transform="translate(134.2,612.7) rotate(-90)"><text x="0" y="0" font-size="7.2" fill="#231f20" text-anchor="middle" stroke="#231f20" stroke-width="0.14"><tspan font-style="italic">P</tspan> = 0.02</text></g>
<text x="163.6" y="528.4" font-size="10.8" text-anchor="start" fill="#000" font-weight="bold" font-style="normal"  stroke="#000" stroke-width="0.14">j</text>
<rect x="190.80" y="549.60" width="20.90" height="107.50" fill="#fbd5a3" stroke="none" stroke-width="0.5" />
<rect x="214.00" y="548.90" width="21.20" height="108.20" fill="#c9a8d6" stroke="none" stroke-width="0.5" />
<rect x="240.90" y="579.10" width="21.10" height="78.00" fill="#fbd5a3" stroke="none" stroke-width="0.5" />
<rect x="264.40" y="579.10" width="20.80" height="78.00" fill="#c9a8d6" stroke="none" stroke-width="0.5" />
<circle cx="197.18" cy="536.11" r="2.50" fill="#fff" stroke="#fbd1a0" stroke-width="0.7" />
<circle cx="203.48" cy="538.13" r="2.50" fill="#fff" stroke="#fbd1a0" stroke-width="0.7" />
<circle cx="202.82" cy="544.18" r="2.50" fill="#fff" stroke="#fbd1a0" stroke-width="0.7" />
<circle cx="200.95" cy="546.19" r="2.50" fill="#fff" stroke="#fbd1a0" stroke-width="0.7" />
<circle cx="197.79" cy="548.21" r="2.50" fill="#fff" stroke="#fbd1a0" stroke-width="0.4" />
<circle cx="204.71" cy="550.23" r="2.50" fill="#fff" stroke="#fbd1a0" stroke-width="0.4" />
<circle cx="204.89" cy="556.27" r="2.50" fill="#fff" stroke="#fbd1a0" stroke-width="0.4" />
<circle cx="201.35" cy="560.31" r="2.50" fill="#fff" stroke="#fbd1a0" stroke-width="0.4" />
<circle cx="201.26" cy="564.34" r="2.50" fill="#fff" stroke="#fbd1a0" stroke-width="0.4" />
<circle cx="198.03" cy="566.36" r="2.50" fill="#fff" stroke="#fbd1a0" stroke-width="0.4" />
<circle cx="195.24" cy="568.37" r="2.50" fill="#fff" stroke="#fbd1a0" stroke-width="0.4" />
<circle cx="199.65" cy="570.39" r="2.50" fill="#fff" stroke="#fbd1a0" stroke-width="0.4" />
<circle cx="202.22" cy="572.41" r="2.50" fill="#fff" stroke="#fbd1a0" stroke-width="0.4" />
<circle cx="219.43" cy="536.11" r="2.50" fill="#fff" stroke="#d2b7df" stroke-width="0.7" />
<circle cx="228.13" cy="536.11" r="2.50" fill="#fff" stroke="#d2b7df" stroke-width="0.7" />
<circle cx="221.39" cy="538.13" r="2.50" fill="#fff" stroke="#d2b7df" stroke-width="0.7" />
<circle cx="221.39" cy="540.14" r="2.50" fill="#fff" stroke="#d2b7df" stroke-width="0.7" />
<circle cx="219.11" cy="542.16" r="2.50" fill="#fff" stroke="#d2b7df" stroke-width="0.7" />
<circle cx="230.57" cy="544.18" r="2.50" fill="#fff" stroke="#d2b7df" stroke-width="0.7" />
<circle cx="227.46" cy="546.19" r="2.50" fill="#fff" stroke="#d2b7df" stroke-width="0.7" />
<circle cx="229.10" cy="547.40" r="2.50" fill="#fff" stroke="#d2b7df" stroke-width="0.4" />
<circle cx="225.99" cy="550.23" r="2.50" fill="#fff" stroke="#d2b7df" stroke-width="0.4" />
<circle cx="219.01" cy="552.24" r="2.50" fill="#fff" stroke="#d2b7df" stroke-width="0.4" />
<circle cx="222.55" cy="554.26" r="2.50" fill="#fff" stroke="#d2b7df" stroke-width="0.4" />
<circle cx="224.57" cy="556.27" r="2.50" fill="#fff" stroke="#d2b7df" stroke-width="0.4" />
<circle cx="219.99" cy="558.29" r="2.50" fill="#fff" stroke="#d2b7df" stroke-width="0.4" />
<circle cx="230.02" cy="560.31" r="2.50" fill="#fff" stroke="#d2b7df" stroke-width="0.4" />
<circle cx="223.02" cy="562.32" r="2.50" fill="#fff" stroke="#d2b7df" stroke-width="0.4" />
<circle cx="220.46" cy="564.34" r="2.50" fill="#fff" stroke="#d2b7df" stroke-width="0.4" />
<circle cx="228.41" cy="565.95" r="2.50" fill="#fff" stroke="#d2b7df" stroke-width="0.4" />
<circle cx="220.10" cy="567.57" r="2.50" fill="#fff" stroke="#d2b7df" stroke-width="0.4" />
<circle cx="229.74" cy="568.37" r="2.50" fill="#fff" stroke="#d2b7df" stroke-width="0.4" />
<circle cx="224.04" cy="569.18" r="2.50" fill="#fff" stroke="#d2b7df" stroke-width="0.4" />
<circle cx="225.22" cy="570.39" r="2.50" fill="#fff" stroke="#d2b7df" stroke-width="0.4" />
<circle cx="222.72" cy="571.60" r="2.50" fill="#fff" stroke="#d2b7df" stroke-width="0.4" />
<circle cx="224.42" cy="572.41" r="2.50" fill="#fff" stroke="#d2b7df" stroke-width="0.4" />
<circle cx="247.64" cy="572.41" r="2.50" fill="#fff" stroke="#fbd1a0" stroke-width="0.7" />
<circle cx="245.85" cy="574.42" r="2.50" fill="#fff" stroke="#fbd1a0" stroke-width="0.7" />
<circle cx="255.79" cy="576.44" r="2.50" fill="#fff" stroke="#fbd1a0" stroke-width="0.7" />
<circle cx="248.22" cy="578.46" r="2.50" fill="#fff" stroke="#fbd1a0" stroke-width="0.4" />
<circle cx="254.76" cy="579.67" r="2.50" fill="#fff" stroke="#fbd1a0" stroke-width="0.4" />
<circle cx="247.90" cy="580.47" r="2.50" fill="#fff" stroke="#fbd1a0" stroke-width="0.4" />
<circle cx="257.03" cy="581.28" r="2.50" fill="#fff" stroke="#fbd1a0" stroke-width="0.4" />
<circle cx="256.13" cy="582.49" r="2.50" fill="#fff" stroke="#fbd1a0" stroke-width="0.4" />
<circle cx="254.46" cy="583.70" r="2.50" fill="#fff" stroke="#fbd1a0" stroke-width="0.4" />
<circle cx="254.55" cy="584.51" r="2.50" fill="#fff" stroke="#fbd1a0" stroke-width="0.4" />
<circle cx="252.37" cy="585.31" r="2.50" fill="#fff" stroke="#fbd1a0" stroke-width="0.4" />
<circle cx="254.16" cy="586.52" r="2.50" fill="#fff" stroke="#fbd1a0" stroke-width="0.4" />
<circle cx="246.87" cy="587.73" r="2.50" fill="#fff" stroke="#fbd1a0" stroke-width="0.4" />
<circle cx="251.12" cy="588.54" r="2.50" fill="#fff" stroke="#fbd1a0" stroke-width="0.4" />
<circle cx="255.32" cy="589.35" r="2.50" fill="#fff" stroke="#fbd1a0" stroke-width="0.4" />
<circle cx="247.81" cy="590.56" r="2.50" fill="#fff" stroke="#fbd1a0" stroke-width="0.4" />
<circle cx="256.48" cy="591.77" r="2.50" fill="#fff" stroke="#fbd1a0" stroke-width="0.4" />
<circle cx="256.05" cy="592.57" r="2.50" fill="#fff" stroke="#fbd1a0" stroke-width="0.4" />
<circle cx="273.72" cy="574.42" r="2.50" fill="#fff" stroke="#d2b7df" stroke-width="0.7" />
<circle cx="273.18" cy="576.44" r="2.50" fill="#fff" stroke="#d2b7df" stroke-width="0.7" />
<circle cx="274.22" cy="578.46" r="2.50" fill="#fff" stroke="#d2b7df" stroke-width="0.4" />
<circle cx="273.43" cy="580.47" r="2.50" fill="#fff" stroke="#d2b7df" stroke-width="0.4" />
<circle cx="280.74" cy="581.28" r="2.50" fill="#fff" stroke="#d2b7df" stroke-width="0.4" />
<circle cx="273.44" cy="582.49" r="2.50" fill="#fff" stroke="#d2b7df" stroke-width="0.4" />
<circle cx="269.12" cy="584.51" r="2.50" fill="#fff" stroke="#d2b7df" stroke-width="0.4" />
<circle cx="269.92" cy="586.52" r="2.50" fill="#fff" stroke="#d2b7df" stroke-width="0.4" />
<line x1="211.70" y1="549.60" x2="211.70" y2="551.00" stroke="#fff" stroke-width="0.1" />
<line x1="187.10" y1="536.10" x2="187.10" y2="657.10" stroke="#777" stroke-width="0.55" />
<line x1="185.00" y1="657.10" x2="187.10" y2="657.10" stroke="#666" stroke-width="0.45" />
<line x1="185.00" y1="616.77" x2="187.10" y2="616.77" stroke="#666" stroke-width="0.45" />
<line x1="185.00" y1="576.44" x2="187.10" y2="576.44" stroke="#666" stroke-width="0.45" />
<line x1="185.00" y1="536.11" x2="187.10" y2="536.11" stroke="#666" stroke-width="0.45" />
<text x="183.0" y="538.6" font-size="7.2" text-anchor="end" fill="#231f20" font-weight="normal" font-style="normal"  stroke="#231f20" stroke-width="0.14">30</text>
<text x="183.0" y="659.6" font-size="7.2" text-anchor="end" fill="#231f20" font-weight="normal" font-style="normal"  stroke="#231f20" stroke-width="0.14">0</text>
<line x1="191.50" y1="658.90" x2="234.80" y2="658.90" stroke="#555" stroke-width="0.55" />
<line x1="241.90" y1="658.90" x2="284.60" y2="658.90" stroke="#555" stroke-width="0.55" />
<text x="201.2" y="656.0" font-size="7.2" fill="#231f20" text-anchor="middle" stroke="#231f20" stroke-width="0.14"><tspan font-style="italic">n</tspan> = 13</text>
<text x="224.6" y="656.0" font-size="7.2" fill="#231f20" text-anchor="middle" stroke="#231f20" stroke-width="0.14"><tspan font-style="italic">n</tspan> = 23</text>
<text x="251.4" y="656.0" font-size="7.2" fill="#231f20" text-anchor="middle" stroke="#231f20" stroke-width="0.14"><tspan font-style="italic">n</tspan> = 18</text>
<text x="274.8" y="656.0" font-size="7.2" fill="#231f20" text-anchor="middle" stroke="#231f20" stroke-width="0.14"><tspan font-style="italic">n</tspan> = 8</text>
<polyline points="196.20,530.80 238.20,530.80" fill="none" stroke="#555" stroke-width="0.55" stroke-linejoin="round" stroke-linecap="round" />
<polyline points="216.70,530.80 216.70,527.40 263.70,527.40 263.70,545.20" fill="none" stroke="#555" stroke-width="0.55" stroke-linejoin="round" stroke-linecap="round" />
<polyline points="241.90,545.20 284.60,545.20" fill="none" stroke="#555" stroke-width="0.55" stroke-linejoin="round" stroke-linecap="round" />
<text x="240.2" y="529.6" font-size="8.5" text-anchor="middle" fill="#231f20" font-weight="normal" font-style="normal"  stroke="#231f20" stroke-width="0.14">****</text>
<circle cx="216.00" cy="672.90" r="11.20" fill="#84c9a2" stroke="none" stroke-width="0.5" />
<g fill="none" stroke="#fff" stroke-width="1.2"><circle cx="214.6" cy="674.8" r="3.8"/><line x1="217.28698" y1="672.11302" x2="221.82" y2="667.5799999999999"/><polyline points="218.20999999999998,667.5799999999999 221.82,667.5799999999999 221.82,671.1899999999999"/></g>
<circle cx="261.40" cy="672.90" r="11.20" fill="#7a99c9" stroke="none" stroke-width="0.5" />
<g fill="none" stroke="#fff" stroke-width="1.2"><circle cx="261.4" cy="670.2" r="3.8"/><line x1="261.4" y1="674.0" x2="261.4" y2="678.94"/><line x1="258.92999999999995" y1="676.47" x2="263.87" y2="676.47"/></g>
<g transform="translate(169.6,597.3) rotate(-90)"><text x="0" y="0" font-size="7.2" fill="#231f20" text-anchor="middle" stroke="#231f20" stroke-width="0.14">Body mass (g)</text></g>
<text x="303.4" y="528.6" font-size="10.8" text-anchor="start" fill="#000" font-weight="bold" font-style="normal"  stroke="#000" stroke-width="0.14">k</text>
<text x="325.5" y="538.8" font-size="7.2" text-anchor="start" fill="#231f20" font-weight="normal" font-style="normal"  stroke="#231f20" stroke-width="0.14">Glass electrode</text>
<g transform="translate(37.022,543.969) scale(0.748,0.717)"><path d="M386.2,38.7 C385.6,33.2 390.5,29.6 395.5,29.8 C400,30 404,31 406,33.5 C406.8,34.5 407.2,35.5 407.4,36.5 C407.8,34 408.5,31.5 410,30.2 C422,26 438,22 452,21.8 C460,21.8 466,24 470,29.5 C472,26.8 474,26.3 476.4,26.6 C481,27 486,30 490,33.5 C493,37 495.5,41 496.4,45.3 C497.5,49 498,51 497.7,52.5 C497,53.5 496,54 495.5,54.4 C497,57 499,59 500,63.5 C500.3,66 498.5,67 496.4,67.1 C490,68.5 484,70 478.2,70.3 C472,70.5 468,69.5 464.5,68.9 C463,68.6 462,68.4 461.5,67.5 C460.5,65.5 459.8,64 459.2,63.8 C458.2,65.8 456.5,67.6 454.5,68.6 C448,70.6 441,70.6 433,69 C424,67.2 416,64.5 408,60.5 C400,56.4 393,52 389.5,47.5 C387.5,44.8 386.4,41.8 386.2,38.7 Z" fill="#f2dcbe" stroke="#2a2a2a" stroke-width="0.819"/><path d="M407.4,36.5 C407.6,38.5 407.5,40 407,41.8 M470,29.5 C470.3,34 470.8,37.5 471.8,40.7 C472.5,44 473,46.5 473.6,48 C476,50 479,50.8 481.8,50.7 M476.4,26.6 C474.6,29 474.2,32 475.6,34.5 M479.5,28 C477.8,31 477.8,35 479.8,38 C478.3,40.5 477.8,43.5 479.3,46.3 M484.5,29 C483,32.5 483.2,36 484.8,39.5 M487.5,31.5 C486,35 486.5,40 488.5,43.5 C490.5,45.5 492.5,46.5 494.8,47 M490.5,36 C491.5,39 493,41 495,42 M482.5,43.5 C485,47 488,49.5 491.5,50.8 M475.5,38 C473.8,41 474.2,44.5 476.4,46.8" fill="none" stroke="#2a2a2a" stroke-width="0.956" stroke-linecap="round"/></g>
<path d="M379.9,572.4 C383,568.5 386,566.2 389.5,565.6" fill="none" stroke="#2a2a2a" stroke-width="0.55"/>
<text x="326.3" y="559.0" font-size="7.2" text-anchor="start" fill="#8a8a8a" font-weight="normal" font-style="normal"  stroke="#8a8a8a" stroke-width="0.14">WT</text>
<text x="368.3" y="588.4" font-size="7.2" text-anchor="middle" fill="#231f20" font-weight="normal" font-style="normal"  stroke="#231f20" stroke-width="0.14">VTA</text>
<path d="M375.9,585.6 C376.5,582.2 383,582.2 383.5,585.6 Z" fill="#e3252c"/>
<line x1="379.90" y1="534.50" x2="379.90" y2="564.80" stroke="#222" stroke-width="1.7" />
<line x1="379.90" y1="554.20" x2="379.90" y2="564.00" stroke="#7cc3ec" stroke-width="0.8" />
<line x1="379.90" y1="564.50" x2="379.90" y2="583.50" stroke="#222" stroke-width="0.5" />
<polyline points="379.90,534.00 381.20,534.00 381.20,541.00" fill="none" stroke="#333" stroke-width="0.5" stroke-linejoin="round" stroke-linecap="round" />
<polyline points="382.20,532.40 390.00,536.00 382.20,539.60 382.20,532.40" fill="none" stroke="#333" stroke-width="0.55" stroke-linejoin="round" stroke-linecap="round" />
<rect x="315.00" y="602.60" width="53.00" height="29.00" fill="#8e4aa8" stroke="none" stroke-width="0.5" opacity="0.16"/>
<line x1="315.25" y1="631.60" x2="315.25" y2="601.68" stroke="#8e4aa8" stroke-width="0.75" opacity="0.93"/>
<line x1="316.82" y1="631.60" x2="316.82" y2="602.15" stroke="#8e4aa8" stroke-width="0.75" opacity="0.57"/>
<line x1="318.57" y1="631.60" x2="318.57" y2="600.22" stroke="#8e4aa8" stroke-width="0.75" opacity="0.85"/>
<line x1="320.34" y1="631.60" x2="320.34" y2="600.30" stroke="#8e4aa8" stroke-width="0.75" opacity="0.80"/>
<line x1="321.26" y1="631.60" x2="321.26" y2="600.68" stroke="#8e4aa8" stroke-width="0.75" opacity="0.47"/>
<line x1="322.71" y1="631.60" x2="322.71" y2="600.87" stroke="#8e4aa8" stroke-width="0.75" opacity="0.63"/>
<line x1="324.30" y1="631.60" x2="324.30" y2="602.28" stroke="#8e4aa8" stroke-width="0.75" opacity="0.81"/>
<line x1="326.30" y1="631.60" x2="326.30" y2="602.72" stroke="#8e4aa8" stroke-width="0.75" opacity="0.98"/>
<line x1="327.16" y1="631.60" x2="327.16" y2="602.13" stroke="#8e4aa8" stroke-width="0.75" opacity="1.00"/>
<line x1="329.23" y1="631.60" x2="329.23" y2="600.16" stroke="#8e4aa8" stroke-width="0.75" opacity="0.62"/>
<line x1="330.62" y1="631.60" x2="330.62" y2="601.35" stroke="#8e4aa8" stroke-width="0.75" opacity="0.79"/>
<line x1="331.57" y1="631.60" x2="331.57" y2="599.90" stroke="#8e4aa8" stroke-width="0.75" opacity="0.82"/>
<line x1="333.44" y1="631.60" x2="333.44" y2="602.55" stroke="#8e4aa8" stroke-width="0.75" opacity="0.56"/>
<line x1="334.82" y1="631.60" x2="334.82" y2="601.83" stroke="#8e4aa8" stroke-width="0.75" opacity="0.78"/>
<line x1="336.26" y1="631.60" x2="336.26" y2="600.88" stroke="#8e4aa8" stroke-width="0.75" opacity="0.50"/>
<line x1="338.32" y1="631.60" x2="338.32" y2="601.68" stroke="#8e4aa8" stroke-width="0.75" opacity="0.95"/>
<line x1="338.88" y1="631.60" x2="338.88" y2="600.23" stroke="#8e4aa8" stroke-width="0.75" opacity="1.00"/>
<line x1="340.28" y1="631.60" x2="340.28" y2="602.16" stroke="#8e4aa8" stroke-width="0.75" opacity="0.70"/>
<line x1="342.68" y1="631.60" x2="342.68" y2="602.12" stroke="#8e4aa8" stroke-width="0.75" opacity="0.69"/>
<line x1="343.61" y1="631.60" x2="343.61" y2="599.98" stroke="#8e4aa8" stroke-width="0.75" opacity="0.76"/>
<line x1="344.88" y1="631.60" x2="344.88" y2="602.75" stroke="#8e4aa8" stroke-width="0.75" opacity="0.50"/>
<line x1="346.48" y1="631.60" x2="346.48" y2="600.22" stroke="#8e4aa8" stroke-width="0.75" opacity="0.52"/>
<line x1="347.99" y1="631.60" x2="347.99" y2="601.88" stroke="#8e4aa8" stroke-width="0.75" opacity="0.63"/>
<line x1="350.05" y1="631.60" x2="350.05" y2="601.12" stroke="#8e4aa8" stroke-width="0.75" opacity="0.92"/>
<line x1="350.78" y1="631.60" x2="350.78" y2="602.12" stroke="#8e4aa8" stroke-width="0.75" opacity="0.72"/>
<line x1="352.26" y1="631.60" x2="352.26" y2="600.79" stroke="#8e4aa8" stroke-width="0.75" opacity="0.60"/>
<line x1="354.10" y1="631.60" x2="354.10" y2="601.64" stroke="#8e4aa8" stroke-width="0.75" opacity="0.79"/>
<line x1="355.53" y1="631.60" x2="355.53" y2="599.96" stroke="#8e4aa8" stroke-width="0.75" opacity="0.47"/>
<line x1="357.41" y1="631.60" x2="357.41" y2="601.92" stroke="#8e4aa8" stroke-width="0.75" opacity="0.53"/>
<line x1="358.77" y1="631.60" x2="358.77" y2="602.71" stroke="#8e4aa8" stroke-width="0.75" opacity="0.83"/>
<line x1="359.76" y1="631.60" x2="359.76" y2="600.42" stroke="#8e4aa8" stroke-width="0.75" opacity="0.87"/>
<line x1="361.08" y1="631.60" x2="361.08" y2="602.75" stroke="#8e4aa8" stroke-width="0.75" opacity="0.87"/>
<line x1="363.18" y1="631.60" x2="363.18" y2="599.64" stroke="#8e4aa8" stroke-width="0.75" opacity="0.64"/>
<line x1="364.81" y1="631.60" x2="364.81" y2="600.50" stroke="#8e4aa8" stroke-width="0.75" opacity="0.66"/>
<line x1="365.32" y1="631.60" x2="365.32" y2="599.74" stroke="#8e4aa8" stroke-width="0.75" opacity="0.55"/>
<line x1="367.50" y1="631.60" x2="367.50" y2="602.37" stroke="#8e4aa8" stroke-width="0.75" opacity="0.52"/>
<rect x="315.00" y="629.90" width="53.00" height="3.40" fill="#8e4aa8" stroke="none" stroke-width="0.5" />
<line x1="317.65" y1="633.10" x2="317.65" y2="635.21" stroke="#8e4aa8" stroke-width="0.5" opacity="0.8"/>
<line x1="325.94" y1="633.10" x2="325.94" y2="634.24" stroke="#8e4aa8" stroke-width="0.5" opacity="0.8"/>
<line x1="358.50" y1="633.10" x2="358.50" y2="634.49" stroke="#8e4aa8" stroke-width="0.5" opacity="0.8"/>
<line x1="324.74" y1="633.10" x2="324.74" y2="634.85" stroke="#8e4aa8" stroke-width="0.5" opacity="0.8"/>
<line x1="351.83" y1="633.10" x2="351.83" y2="635.01" stroke="#8e4aa8" stroke-width="0.5" opacity="0.8"/>
<line x1="360.57" y1="633.10" x2="360.57" y2="634.72" stroke="#8e4aa8" stroke-width="0.5" opacity="0.8"/>
<line x1="342.77" y1="633.10" x2="342.77" y2="635.45" stroke="#8e4aa8" stroke-width="0.5" opacity="0.8"/>
<line x1="339.46" y1="633.10" x2="339.46" y2="635.45" stroke="#8e4aa8" stroke-width="0.5" opacity="0.8"/>
<line x1="339.75" y1="633.10" x2="339.75" y2="634.11" stroke="#8e4aa8" stroke-width="0.5" opacity="0.8"/>
<line x1="321.54" y1="633.10" x2="321.54" y2="635.60" stroke="#8e4aa8" stroke-width="0.5" opacity="0.8"/>
<line x1="354.48" y1="633.10" x2="354.48" y2="635.97" stroke="#8e4aa8" stroke-width="0.5" opacity="0.8"/>
<line x1="351.58" y1="633.10" x2="351.58" y2="635.13" stroke="#8e4aa8" stroke-width="0.5" opacity="0.8"/>
<line x1="323.81" y1="633.10" x2="323.81" y2="635.76" stroke="#8e4aa8" stroke-width="0.5" opacity="0.8"/>
<line x1="321.30" y1="633.10" x2="321.30" y2="634.78" stroke="#8e4aa8" stroke-width="0.5" opacity="0.8"/>
<line x1="322.45" y1="633.10" x2="322.45" y2="634.68" stroke="#8e4aa8" stroke-width="0.5" opacity="0.8"/>
<line x1="331.28" y1="633.10" x2="331.28" y2="634.78" stroke="#8e4aa8" stroke-width="0.5" opacity="0.8"/>
<line x1="352.69" y1="633.10" x2="352.69" y2="635.05" stroke="#8e4aa8" stroke-width="0.5" opacity="0.8"/>
<line x1="327.87" y1="633.10" x2="327.87" y2="635.59" stroke="#8e4aa8" stroke-width="0.5" opacity="0.8"/>
<line x1="353.96" y1="633.10" x2="353.96" y2="635.70" stroke="#8e4aa8" stroke-width="0.5" opacity="0.8"/>
<line x1="316.75" y1="633.10" x2="316.75" y2="635.21" stroke="#8e4aa8" stroke-width="0.5" opacity="0.8"/>
<line x1="362.46" y1="633.10" x2="362.46" y2="634.40" stroke="#8e4aa8" stroke-width="0.5" opacity="0.8"/>
<line x1="325.71" y1="633.10" x2="325.71" y2="635.67" stroke="#8e4aa8" stroke-width="0.5" opacity="0.8"/>
<line x1="334.29" y1="633.10" x2="334.29" y2="634.72" stroke="#8e4aa8" stroke-width="0.5" opacity="0.8"/>
<line x1="358.33" y1="633.10" x2="358.33" y2="634.68" stroke="#8e4aa8" stroke-width="0.5" opacity="0.8"/>
<line x1="325.52" y1="633.10" x2="325.52" y2="634.29" stroke="#8e4aa8" stroke-width="0.5" opacity="0.8"/>
<line x1="333.32" y1="633.10" x2="333.32" y2="635.41" stroke="#8e4aa8" stroke-width="0.5" opacity="0.8"/>
<line x1="334.52" y1="633.10" x2="334.52" y2="635.57" stroke="#8e4aa8" stroke-width="0.5" opacity="0.8"/>
<line x1="318.50" y1="633.10" x2="318.50" y2="634.37" stroke="#8e4aa8" stroke-width="0.5" opacity="0.8"/>
<line x1="348.12" y1="633.10" x2="348.12" y2="634.90" stroke="#8e4aa8" stroke-width="0.5" opacity="0.8"/>
<line x1="341.49" y1="633.10" x2="341.49" y2="635.95" stroke="#8e4aa8" stroke-width="0.5" opacity="0.8"/>
<line x1="329.70" y1="633.10" x2="329.70" y2="634.22" stroke="#8e4aa8" stroke-width="0.5" opacity="0.8"/>
<line x1="316.79" y1="633.10" x2="316.79" y2="634.91" stroke="#8e4aa8" stroke-width="0.5" opacity="0.8"/>
<line x1="330.75" y1="633.10" x2="330.75" y2="634.89" stroke="#8e4aa8" stroke-width="0.5" opacity="0.8"/>
<line x1="315.30" y1="633.10" x2="315.30" y2="633.80" stroke="#8e4aa8" stroke-width="0.5" opacity="0.8"/>
<line x1="335.12" y1="633.10" x2="335.12" y2="635.54" stroke="#8e4aa8" stroke-width="0.5" opacity="0.8"/>
<line x1="330.92" y1="633.10" x2="330.92" y2="635.90" stroke="#8e4aa8" stroke-width="0.5" opacity="0.8"/>
<line x1="345.71" y1="633.10" x2="345.71" y2="634.73" stroke="#8e4aa8" stroke-width="0.5" opacity="0.8"/>
<line x1="356.19" y1="633.10" x2="356.19" y2="634.34" stroke="#8e4aa8" stroke-width="0.5" opacity="0.8"/>
<line x1="347.08" y1="633.10" x2="347.08" y2="635.75" stroke="#8e4aa8" stroke-width="0.5" opacity="0.8"/>
<line x1="343.67" y1="633.10" x2="343.67" y2="634.54" stroke="#8e4aa8" stroke-width="0.5" opacity="0.8"/>
<line x1="320.09" y1="633.10" x2="320.09" y2="635.12" stroke="#8e4aa8" stroke-width="0.5" opacity="0.8"/>
<line x1="324.94" y1="633.10" x2="324.94" y2="634.66" stroke="#8e4aa8" stroke-width="0.5" opacity="0.8"/>
<line x1="343.75" y1="633.10" x2="343.75" y2="635.96" stroke="#8e4aa8" stroke-width="0.5" opacity="0.8"/>
<line x1="350.69" y1="633.10" x2="350.69" y2="634.99" stroke="#8e4aa8" stroke-width="0.5" opacity="0.8"/>
<line x1="360.49" y1="633.10" x2="360.49" y2="634.51" stroke="#8e4aa8" stroke-width="0.5" opacity="0.8"/>
<line x1="335.55" y1="633.10" x2="335.55" y2="635.36" stroke="#8e4aa8" stroke-width="0.5" opacity="0.8"/>
<line x1="344.37" y1="633.10" x2="344.37" y2="634.31" stroke="#8e4aa8" stroke-width="0.5" opacity="0.8"/>
<line x1="336.77" y1="633.10" x2="336.77" y2="635.69" stroke="#8e4aa8" stroke-width="0.5" opacity="0.8"/>
<line x1="327.84" y1="633.10" x2="327.84" y2="635.42" stroke="#8e4aa8" stroke-width="0.5" opacity="0.8"/>
<line x1="317.55" y1="633.10" x2="317.55" y2="636.00" stroke="#8e4aa8" stroke-width="0.5" opacity="0.8"/>
<line x1="351.26" y1="633.10" x2="351.26" y2="634.54" stroke="#8e4aa8" stroke-width="0.5" opacity="0.8"/>
<line x1="367.11" y1="633.10" x2="367.11" y2="635.63" stroke="#8e4aa8" stroke-width="0.5" opacity="0.8"/>
<line x1="318.27" y1="633.10" x2="318.27" y2="634.37" stroke="#8e4aa8" stroke-width="0.5" opacity="0.8"/>
<line x1="341.06" y1="633.10" x2="341.06" y2="636.10" stroke="#8e4aa8" stroke-width="0.5" opacity="0.8"/>
<line x1="322.46" y1="633.10" x2="322.46" y2="633.91" stroke="#8e4aa8" stroke-width="0.5" opacity="0.8"/>
<line x1="331.57" y1="633.10" x2="331.57" y2="633.90" stroke="#8e4aa8" stroke-width="0.5" opacity="0.8"/>
<line x1="336.67" y1="633.10" x2="336.67" y2="635.04" stroke="#8e4aa8" stroke-width="0.5" opacity="0.8"/>
<line x1="338.34" y1="633.10" x2="338.34" y2="634.13" stroke="#8e4aa8" stroke-width="0.5" opacity="0.8"/>
<line x1="316.23" y1="633.10" x2="316.23" y2="635.65" stroke="#8e4aa8" stroke-width="0.5" opacity="0.8"/>
<line x1="338.32" y1="633.10" x2="338.32" y2="634.90" stroke="#8e4aa8" stroke-width="0.5" opacity="0.8"/>
<rect x="315.00" y="647.60" width="53.00" height="25.10" fill="#f7a43a" stroke="none" stroke-width="0.5" opacity="0.16"/>
<line x1="315.21" y1="672.70" x2="315.21" y2="645.38" stroke="#f7a43a" stroke-width="0.75" opacity="0.63"/>
<line x1="316.61" y1="672.70" x2="316.61" y2="647.76" stroke="#f7a43a" stroke-width="0.75" opacity="0.67"/>
<line x1="317.96" y1="672.70" x2="317.96" y2="644.82" stroke="#f7a43a" stroke-width="0.75" opacity="0.68"/>
<line x1="319.82" y1="672.70" x2="319.82" y2="647.20" stroke="#f7a43a" stroke-width="0.75" opacity="0.71"/>
<line x1="320.67" y1="672.70" x2="320.67" y2="646.85" stroke="#f7a43a" stroke-width="0.75" opacity="0.70"/>
<line x1="322.16" y1="672.70" x2="322.16" y2="644.80" stroke="#f7a43a" stroke-width="0.75" opacity="0.50"/>
<line x1="322.80" y1="672.70" x2="322.80" y2="644.75" stroke="#f7a43a" stroke-width="0.75" opacity="0.81"/>
<line x1="324.47" y1="672.70" x2="324.47" y2="645.83" stroke="#f7a43a" stroke-width="0.75" opacity="0.62"/>
<line x1="326.07" y1="672.70" x2="326.07" y2="644.72" stroke="#f7a43a" stroke-width="0.75" opacity="0.56"/>
<line x1="327.01" y1="672.70" x2="327.01" y2="647.65" stroke="#f7a43a" stroke-width="0.75" opacity="0.45"/>
<line x1="328.69" y1="672.70" x2="328.69" y2="647.65" stroke="#f7a43a" stroke-width="0.75" opacity="0.83"/>
<line x1="329.89" y1="672.70" x2="329.89" y2="647.65" stroke="#f7a43a" stroke-width="0.75" opacity="0.72"/>
<line x1="330.64" y1="672.70" x2="330.64" y2="646.58" stroke="#f7a43a" stroke-width="0.75" opacity="0.92"/>
<line x1="331.54" y1="672.70" x2="331.54" y2="646.23" stroke="#f7a43a" stroke-width="0.75" opacity="0.74"/>
<line x1="333.55" y1="672.70" x2="333.55" y2="645.80" stroke="#f7a43a" stroke-width="0.75" opacity="0.57"/>
<line x1="334.19" y1="672.70" x2="334.19" y2="645.22" stroke="#f7a43a" stroke-width="0.75" opacity="0.85"/>
<line x1="335.33" y1="672.70" x2="335.33" y2="646.23" stroke="#f7a43a" stroke-width="0.75" opacity="0.92"/>
<line x1="337.31" y1="672.70" x2="337.31" y2="647.23" stroke="#f7a43a" stroke-width="0.75" opacity="0.78"/>
<line x1="338.69" y1="672.70" x2="338.69" y2="645.04" stroke="#f7a43a" stroke-width="0.75" opacity="0.81"/>
<line x1="339.94" y1="672.70" x2="339.94" y2="644.60" stroke="#f7a43a" stroke-width="0.75" opacity="0.59"/>
<line x1="341.32" y1="672.70" x2="341.32" y2="647.64" stroke="#f7a43a" stroke-width="0.75" opacity="0.47"/>
<line x1="341.83" y1="672.70" x2="341.83" y2="647.70" stroke="#f7a43a" stroke-width="0.75" opacity="0.78"/>
<line x1="342.97" y1="672.70" x2="342.97" y2="645.61" stroke="#f7a43a" stroke-width="0.75" opacity="0.88"/>
<line x1="344.28" y1="672.70" x2="344.28" y2="647.55" stroke="#f7a43a" stroke-width="0.75" opacity="0.98"/>
<line x1="346.39" y1="672.70" x2="346.39" y2="644.87" stroke="#f7a43a" stroke-width="0.75" opacity="0.70"/>
<line x1="346.79" y1="672.70" x2="346.79" y2="645.13" stroke="#f7a43a" stroke-width="0.75" opacity="0.63"/>
<line x1="348.10" y1="672.70" x2="348.10" y2="644.86" stroke="#f7a43a" stroke-width="0.75" opacity="0.65"/>
<line x1="349.22" y1="672.70" x2="349.22" y2="647.73" stroke="#f7a43a" stroke-width="0.75" opacity="0.84"/>
<line x1="350.51" y1="672.70" x2="350.51" y2="647.10" stroke="#f7a43a" stroke-width="0.75" opacity="0.57"/>
<line x1="351.76" y1="672.70" x2="351.76" y2="646.14" stroke="#f7a43a" stroke-width="0.75" opacity="0.77"/>
<line x1="353.34" y1="672.70" x2="353.34" y2="645.81" stroke="#f7a43a" stroke-width="0.75" opacity="0.95"/>
<line x1="354.41" y1="672.70" x2="354.41" y2="644.71" stroke="#f7a43a" stroke-width="0.75" opacity="0.90"/>
<line x1="355.82" y1="672.70" x2="355.82" y2="645.18" stroke="#f7a43a" stroke-width="0.75" opacity="0.98"/>
<line x1="357.70" y1="672.70" x2="357.70" y2="647.42" stroke="#f7a43a" stroke-width="0.75" opacity="0.45"/>
<line x1="358.20" y1="672.70" x2="358.20" y2="646.76" stroke="#f7a43a" stroke-width="0.75" opacity="0.85"/>
<line x1="360.11" y1="672.70" x2="360.11" y2="645.81" stroke="#f7a43a" stroke-width="0.75" opacity="0.87"/>
<line x1="361.30" y1="672.70" x2="361.30" y2="645.62" stroke="#f7a43a" stroke-width="0.75" opacity="0.51"/>
<line x1="362.39" y1="672.70" x2="362.39" y2="647.74" stroke="#f7a43a" stroke-width="0.75" opacity="0.97"/>
<line x1="363.66" y1="672.70" x2="363.66" y2="646.02" stroke="#f7a43a" stroke-width="0.75" opacity="0.58"/>
<line x1="365.12" y1="672.70" x2="365.12" y2="647.49" stroke="#f7a43a" stroke-width="0.75" opacity="0.70"/>
<line x1="366.19" y1="672.70" x2="366.19" y2="647.25" stroke="#f7a43a" stroke-width="0.75" opacity="0.45"/>
<line x1="367.10" y1="672.70" x2="367.10" y2="646.36" stroke="#f7a43a" stroke-width="0.75" opacity="0.59"/>
<rect x="315.00" y="671.00" width="53.00" height="3.40" fill="#f7a43a" stroke="none" stroke-width="0.5" />
<line x1="321.84" y1="674.20" x2="321.84" y2="675.09" stroke="#f7a43a" stroke-width="0.5" opacity="0.8"/>
<line x1="361.80" y1="674.20" x2="361.80" y2="676.06" stroke="#f7a43a" stroke-width="0.5" opacity="0.8"/>
<line x1="366.51" y1="674.20" x2="366.51" y2="676.89" stroke="#f7a43a" stroke-width="0.5" opacity="0.8"/>
<line x1="354.88" y1="674.20" x2="354.88" y2="675.07" stroke="#f7a43a" stroke-width="0.5" opacity="0.8"/>
<line x1="346.23" y1="674.20" x2="346.23" y2="677.18" stroke="#f7a43a" stroke-width="0.5" opacity="0.8"/>
<line x1="341.66" y1="674.20" x2="341.66" y2="675.05" stroke="#f7a43a" stroke-width="0.5" opacity="0.8"/>
<line x1="324.79" y1="674.20" x2="324.79" y2="677.17" stroke="#f7a43a" stroke-width="0.5" opacity="0.8"/>
<line x1="366.77" y1="674.20" x2="366.77" y2="675.47" stroke="#f7a43a" stroke-width="0.5" opacity="0.8"/>
<line x1="331.88" y1="674.20" x2="331.88" y2="676.54" stroke="#f7a43a" stroke-width="0.5" opacity="0.8"/>
<line x1="341.91" y1="674.20" x2="341.91" y2="675.33" stroke="#f7a43a" stroke-width="0.5" opacity="0.8"/>
<line x1="367.18" y1="674.20" x2="367.18" y2="676.33" stroke="#f7a43a" stroke-width="0.5" opacity="0.8"/>
<line x1="334.35" y1="674.20" x2="334.35" y2="674.95" stroke="#f7a43a" stroke-width="0.5" opacity="0.8"/>
<line x1="342.05" y1="674.20" x2="342.05" y2="676.63" stroke="#f7a43a" stroke-width="0.5" opacity="0.8"/>
<line x1="324.43" y1="674.20" x2="324.43" y2="675.10" stroke="#f7a43a" stroke-width="0.5" opacity="0.8"/>
<line x1="353.38" y1="674.20" x2="353.38" y2="677.02" stroke="#f7a43a" stroke-width="0.5" opacity="0.8"/>
<line x1="334.98" y1="674.20" x2="334.98" y2="675.99" stroke="#f7a43a" stroke-width="0.5" opacity="0.8"/>
<line x1="348.73" y1="674.20" x2="348.73" y2="676.10" stroke="#f7a43a" stroke-width="0.5" opacity="0.8"/>
<line x1="321.80" y1="674.20" x2="321.80" y2="675.53" stroke="#f7a43a" stroke-width="0.5" opacity="0.8"/>
<line x1="325.92" y1="674.20" x2="325.92" y2="675.35" stroke="#f7a43a" stroke-width="0.5" opacity="0.8"/>
<line x1="319.67" y1="674.20" x2="319.67" y2="675.80" stroke="#f7a43a" stroke-width="0.5" opacity="0.8"/>
<line x1="326.62" y1="674.20" x2="326.62" y2="676.85" stroke="#f7a43a" stroke-width="0.5" opacity="0.8"/>
<line x1="332.07" y1="674.20" x2="332.07" y2="677.12" stroke="#f7a43a" stroke-width="0.5" opacity="0.8"/>
<line x1="357.99" y1="674.20" x2="357.99" y2="675.52" stroke="#f7a43a" stroke-width="0.5" opacity="0.8"/>
<line x1="323.17" y1="674.20" x2="323.17" y2="676.22" stroke="#f7a43a" stroke-width="0.5" opacity="0.8"/>
<line x1="340.12" y1="674.20" x2="340.12" y2="676.13" stroke="#f7a43a" stroke-width="0.5" opacity="0.8"/>
<line x1="321.53" y1="674.20" x2="321.53" y2="676.12" stroke="#f7a43a" stroke-width="0.5" opacity="0.8"/>
<line x1="355.24" y1="674.20" x2="355.24" y2="675.92" stroke="#f7a43a" stroke-width="0.5" opacity="0.8"/>
<line x1="328.53" y1="674.20" x2="328.53" y2="677.02" stroke="#f7a43a" stroke-width="0.5" opacity="0.8"/>
<line x1="330.69" y1="674.20" x2="330.69" y2="677.19" stroke="#f7a43a" stroke-width="0.5" opacity="0.8"/>
<line x1="351.50" y1="674.20" x2="351.50" y2="674.91" stroke="#f7a43a" stroke-width="0.5" opacity="0.8"/>
<line x1="338.71" y1="674.20" x2="338.71" y2="675.24" stroke="#f7a43a" stroke-width="0.5" opacity="0.8"/>
<line x1="356.68" y1="674.20" x2="356.68" y2="675.87" stroke="#f7a43a" stroke-width="0.5" opacity="0.8"/>
<line x1="319.53" y1="674.20" x2="319.53" y2="677.09" stroke="#f7a43a" stroke-width="0.5" opacity="0.8"/>
<line x1="357.36" y1="674.20" x2="357.36" y2="676.30" stroke="#f7a43a" stroke-width="0.5" opacity="0.8"/>
<line x1="345.08" y1="674.20" x2="345.08" y2="675.07" stroke="#f7a43a" stroke-width="0.5" opacity="0.8"/>
<line x1="367.07" y1="674.20" x2="367.07" y2="675.59" stroke="#f7a43a" stroke-width="0.5" opacity="0.8"/>
<line x1="342.77" y1="674.20" x2="342.77" y2="676.03" stroke="#f7a43a" stroke-width="0.5" opacity="0.8"/>
<line x1="340.04" y1="674.20" x2="340.04" y2="674.94" stroke="#f7a43a" stroke-width="0.5" opacity="0.8"/>
<line x1="362.34" y1="674.20" x2="362.34" y2="676.03" stroke="#f7a43a" stroke-width="0.5" opacity="0.8"/>
<line x1="335.85" y1="674.20" x2="335.85" y2="676.88" stroke="#f7a43a" stroke-width="0.5" opacity="0.8"/>
<line x1="360.59" y1="674.20" x2="360.59" y2="676.55" stroke="#f7a43a" stroke-width="0.5" opacity="0.8"/>
<line x1="363.10" y1="674.20" x2="363.10" y2="675.70" stroke="#f7a43a" stroke-width="0.5" opacity="0.8"/>
<line x1="320.55" y1="674.20" x2="320.55" y2="675.70" stroke="#f7a43a" stroke-width="0.5" opacity="0.8"/>
<line x1="346.89" y1="674.20" x2="346.89" y2="676.71" stroke="#f7a43a" stroke-width="0.5" opacity="0.8"/>
<line x1="353.92" y1="674.20" x2="353.92" y2="676.35" stroke="#f7a43a" stroke-width="0.5" opacity="0.8"/>
<line x1="346.85" y1="674.20" x2="346.85" y2="676.43" stroke="#f7a43a" stroke-width="0.5" opacity="0.8"/>
<line x1="345.47" y1="674.20" x2="345.47" y2="674.94" stroke="#f7a43a" stroke-width="0.5" opacity="0.8"/>
<line x1="343.97" y1="674.20" x2="343.97" y2="675.53" stroke="#f7a43a" stroke-width="0.5" opacity="0.8"/>
<line x1="318.83" y1="674.20" x2="318.83" y2="676.31" stroke="#f7a43a" stroke-width="0.5" opacity="0.8"/>
<line x1="359.57" y1="674.20" x2="359.57" y2="675.55" stroke="#f7a43a" stroke-width="0.5" opacity="0.8"/>
<line x1="350.51" y1="674.20" x2="350.51" y2="676.34" stroke="#f7a43a" stroke-width="0.5" opacity="0.8"/>
<line x1="351.11" y1="674.20" x2="351.11" y2="676.91" stroke="#f7a43a" stroke-width="0.5" opacity="0.8"/>
<line x1="351.87" y1="674.20" x2="351.87" y2="675.08" stroke="#f7a43a" stroke-width="0.5" opacity="0.8"/>
<line x1="347.71" y1="674.20" x2="347.71" y2="675.70" stroke="#f7a43a" stroke-width="0.5" opacity="0.8"/>
<line x1="337.08" y1="674.20" x2="337.08" y2="676.45" stroke="#f7a43a" stroke-width="0.5" opacity="0.8"/>
<line x1="324.20" y1="674.20" x2="324.20" y2="676.34" stroke="#f7a43a" stroke-width="0.5" opacity="0.8"/>
<line x1="364.73" y1="674.20" x2="364.73" y2="675.08" stroke="#f7a43a" stroke-width="0.5" opacity="0.8"/>
<line x1="360.13" y1="674.20" x2="360.13" y2="676.53" stroke="#f7a43a" stroke-width="0.5" opacity="0.8"/>
<line x1="336.42" y1="674.20" x2="336.42" y2="676.66" stroke="#f7a43a" stroke-width="0.5" opacity="0.8"/>
<line x1="319.21" y1="674.20" x2="319.21" y2="675.27" stroke="#f7a43a" stroke-width="0.5" opacity="0.8"/>
<text font-size="7.2" fill="#8a3cab" stroke="#8a3cab" stroke-width="0.14"><tspan x="372.5" y="611.0">Achiever:</tspan><tspan x="372.5" y="619.9">80 neurons</tspan><tspan x="372.5" y="628.7">8 mice</tspan></text>
<text font-size="7.2" fill="#f39c2f" stroke="#f39c2f" stroke-width="0.14"><tspan x="372.5" y="652.6">Storer:</tspan><tspan x="372.5" y="662.2">104 neurons</tspan><tspan x="372.5" y="671.1">8 mice</tspan></text>
<rect x="450.80" y="625.00" width="19.80" height="45.60" fill="#c9a8d6" stroke="none" stroke-width="0.5" />
<rect x="472.50" y="632.70" width="19.30" height="37.90" fill="#fcd7a6" stroke="none" stroke-width="0.5" />
<circle cx="460.42" cy="652.18" r="2.10" fill="#8e4aa8" stroke="#fff" stroke-width="0.45" />
<circle cx="459.36" cy="611.03" r="2.10" fill="#8e4aa8" stroke="#fff" stroke-width="0.45" />
<circle cx="467.32" cy="625.56" r="2.10" fill="#8e4aa8" stroke="#fff" stroke-width="0.45" />
<circle cx="459.18" cy="627.78" r="2.10" fill="#8e4aa8" stroke="#fff" stroke-width="0.45" />
<circle cx="455.96" cy="653.51" r="2.10" fill="#8e4aa8" stroke="#fff" stroke-width="0.45" />
<circle cx="452.37" cy="642.33" r="2.10" fill="#8e4aa8" stroke="#fff" stroke-width="0.45" />
<circle cx="464.27" cy="614.05" r="2.10" fill="#8e4aa8" stroke="#fff" stroke-width="0.45" />
<circle cx="463.40" cy="622.45" r="2.10" fill="#8e4aa8" stroke="#fff" stroke-width="0.45" />
<circle cx="460.59" cy="651.00" r="2.10" fill="#8e4aa8" stroke="#fff" stroke-width="0.45" />
<circle cx="459.04" cy="621.05" r="2.10" fill="#8e4aa8" stroke="#fff" stroke-width="0.45" />
<circle cx="458.37" cy="649.89" r="2.10" fill="#8e4aa8" stroke="#fff" stroke-width="0.45" />
<circle cx="458.69" cy="644.20" r="2.10" fill="#8e4aa8" stroke="#fff" stroke-width="0.45" />
<circle cx="468.71" cy="612.17" r="2.10" fill="#8e4aa8" stroke="#fff" stroke-width="0.45" />
<circle cx="468.70" cy="617.87" r="2.10" fill="#8e4aa8" stroke="#fff" stroke-width="0.45" />
<circle cx="461.82" cy="622.50" r="2.10" fill="#8e4aa8" stroke="#fff" stroke-width="0.45" />
<circle cx="452.10" cy="636.21" r="2.10" fill="#8e4aa8" stroke="#fff" stroke-width="0.45" />
<circle cx="465.76" cy="637.46" r="2.10" fill="#8e4aa8" stroke="#fff" stroke-width="0.45" />
<circle cx="466.79" cy="630.13" r="2.10" fill="#8e4aa8" stroke="#fff" stroke-width="0.45" />
<circle cx="458.07" cy="630.73" r="2.10" fill="#8e4aa8" stroke="#fff" stroke-width="0.45" />
<circle cx="459.79" cy="642.35" r="2.10" fill="#8e4aa8" stroke="#fff" stroke-width="0.45" />
<circle cx="466.64" cy="649.56" r="2.10" fill="#8e4aa8" stroke="#fff" stroke-width="0.45" />
<circle cx="453.41" cy="633.72" r="2.10" fill="#8e4aa8" stroke="#fff" stroke-width="0.45" />
<circle cx="454.71" cy="645.70" r="2.10" fill="#8e4aa8" stroke="#fff" stroke-width="0.45" />
<circle cx="459.73" cy="624.41" r="2.10" fill="#8e4aa8" stroke="#fff" stroke-width="0.45" />
<circle cx="459.16" cy="613.10" r="2.10" fill="#8e4aa8" stroke="#fff" stroke-width="0.45" />
<circle cx="465.89" cy="636.16" r="2.10" fill="#8e4aa8" stroke="#fff" stroke-width="0.45" />
<circle cx="463.53" cy="636.35" r="2.10" fill="#8e4aa8" stroke="#fff" stroke-width="0.45" />
<circle cx="463.02" cy="632.07" r="2.10" fill="#8e4aa8" stroke="#fff" stroke-width="0.45" />
<circle cx="453.00" cy="631.22" r="2.10" fill="#8e4aa8" stroke="#fff" stroke-width="0.45" />
<circle cx="452.14" cy="638.27" r="2.10" fill="#8e4aa8" stroke="#fff" stroke-width="0.45" />
<circle cx="466.75" cy="621.59" r="2.10" fill="#8e4aa8" stroke="#fff" stroke-width="0.45" />
<circle cx="463.46" cy="627.82" r="2.10" fill="#8e4aa8" stroke="#fff" stroke-width="0.45" />
<circle cx="457.03" cy="619.12" r="2.10" fill="#8e4aa8" stroke="#fff" stroke-width="0.45" />
<circle cx="452.31" cy="646.30" r="2.10" fill="#8e4aa8" stroke="#fff" stroke-width="0.45" />
<circle cx="463.47" cy="640.32" r="2.10" fill="#8e4aa8" stroke="#fff" stroke-width="0.45" />
<circle cx="463.68" cy="614.62" r="2.10" fill="#8e4aa8" stroke="#fff" stroke-width="0.45" />
<circle cx="453.44" cy="624.39" r="2.10" fill="#8e4aa8" stroke="#fff" stroke-width="0.45" />
<circle cx="462.20" cy="637.44" r="2.10" fill="#8e4aa8" stroke="#fff" stroke-width="0.45" />
<circle cx="453.77" cy="624.61" r="2.10" fill="#8e4aa8" stroke="#fff" stroke-width="0.45" />
<circle cx="458.43" cy="619.96" r="2.10" fill="#8e4aa8" stroke="#fff" stroke-width="0.45" />
<circle cx="467.14" cy="613.61" r="2.10" fill="#8e4aa8" stroke="#fff" stroke-width="0.45" />
<circle cx="465.38" cy="629.43" r="2.10" fill="#8e4aa8" stroke="#fff" stroke-width="0.45" />
<circle cx="452.68" cy="613.01" r="2.10" fill="#8e4aa8" stroke="#fff" stroke-width="0.45" />
<circle cx="454.85" cy="640.90" r="2.10" fill="#8e4aa8" stroke="#fff" stroke-width="0.45" />
<circle cx="458.43" cy="626.58" r="2.10" fill="#8e4aa8" stroke="#fff" stroke-width="0.45" />
<circle cx="463.08" cy="640.22" r="2.10" fill="#8e4aa8" stroke="#fff" stroke-width="0.45" />
<circle cx="467.53" cy="623.39" r="2.10" fill="#8e4aa8" stroke="#fff" stroke-width="0.45" />
<circle cx="461.23" cy="650.71" r="2.10" fill="#8e4aa8" stroke="#fff" stroke-width="0.45" />
<circle cx="457.22" cy="618.18" r="2.10" fill="#8e4aa8" stroke="#fff" stroke-width="0.45" />
<circle cx="459.61" cy="636.06" r="2.10" fill="#8e4aa8" stroke="#fff" stroke-width="0.45" />
<circle cx="457.38" cy="621.12" r="2.10" fill="#8e4aa8" stroke="#fff" stroke-width="0.45" />
<circle cx="461.25" cy="613.19" r="2.10" fill="#8e4aa8" stroke="#fff" stroke-width="0.45" />
<circle cx="461.37" cy="621.44" r="2.10" fill="#8e4aa8" stroke="#fff" stroke-width="0.45" />
<circle cx="466.67" cy="638.50" r="2.10" fill="#8e4aa8" stroke="#fff" stroke-width="0.45" />
<circle cx="465.97" cy="651.82" r="2.10" fill="#8e4aa8" stroke="#fff" stroke-width="0.45" />
<circle cx="456.99" cy="640.28" r="2.10" fill="#8e4aa8" stroke="#fff" stroke-width="0.45" />
<circle cx="466.29" cy="648.27" r="2.10" fill="#8e4aa8" stroke="#fff" stroke-width="0.45" />
<circle cx="454.68" cy="613.42" r="2.10" fill="#8e4aa8" stroke="#fff" stroke-width="0.45" />
<circle cx="468.38" cy="617.01" r="2.10" fill="#8e4aa8" stroke="#fff" stroke-width="0.45" />
<circle cx="459.71" cy="621.37" r="2.10" fill="#8e4aa8" stroke="#fff" stroke-width="0.45" />
<circle cx="461.70" cy="641.36" r="2.10" fill="#8e4aa8" stroke="#fff" stroke-width="0.45" />
<circle cx="456.40" cy="642.92" r="2.10" fill="#8e4aa8" stroke="#fff" stroke-width="0.45" />
<circle cx="463.03" cy="637.71" r="2.10" fill="#8e4aa8" stroke="#fff" stroke-width="0.45" />
<circle cx="460.42" cy="642.64" r="2.10" fill="#8e4aa8" stroke="#fff" stroke-width="0.45" />
<circle cx="467.42" cy="631.17" r="2.10" fill="#8e4aa8" stroke="#fff" stroke-width="0.45" />
<circle cx="457.30" cy="654.23" r="2.10" fill="#8e4aa8" stroke="#fff" stroke-width="0.45" />
<circle cx="464.52" cy="621.66" r="2.10" fill="#8e4aa8" stroke="#fff" stroke-width="0.45" />
<circle cx="461.71" cy="645.19" r="2.10" fill="#8e4aa8" stroke="#fff" stroke-width="0.45" />
<circle cx="464.88" cy="637.25" r="2.10" fill="#8e4aa8" stroke="#fff" stroke-width="0.45" />
<circle cx="460.76" cy="654.50" r="2.10" fill="#8e4aa8" stroke="#fff" stroke-width="0.45" />
<circle cx="465.74" cy="623.21" r="2.10" fill="#8e4aa8" stroke="#fff" stroke-width="0.45" />
<circle cx="454.37" cy="645.31" r="2.10" fill="#8e4aa8" stroke="#fff" stroke-width="0.45" />
<circle cx="459.57" cy="626.91" r="2.10" fill="#8e4aa8" stroke="#fff" stroke-width="0.45" />
<circle cx="459.36" cy="610.59" r="2.10" fill="#8e4aa8" stroke="#fff" stroke-width="0.45" />
<circle cx="484.51" cy="621.15" r="2.10" fill="#f7a43a" stroke="#fff" stroke-width="0.45" />
<circle cx="480.68" cy="613.49" r="2.10" fill="#f7a43a" stroke="#fff" stroke-width="0.45" />
<circle cx="474.25" cy="619.89" r="2.10" fill="#f7a43a" stroke="#fff" stroke-width="0.45" />
<circle cx="489.65" cy="652.97" r="2.10" fill="#f7a43a" stroke="#fff" stroke-width="0.45" />
<circle cx="482.78" cy="624.09" r="2.10" fill="#f7a43a" stroke="#fff" stroke-width="0.45" />
<circle cx="489.92" cy="651.99" r="2.10" fill="#f7a43a" stroke="#fff" stroke-width="0.45" />
<circle cx="490.91" cy="614.99" r="2.10" fill="#f7a43a" stroke="#fff" stroke-width="0.45" />
<circle cx="483.15" cy="650.91" r="2.10" fill="#f7a43a" stroke="#fff" stroke-width="0.45" />
<circle cx="479.97" cy="632.11" r="2.10" fill="#f7a43a" stroke="#fff" stroke-width="0.45" />
<circle cx="490.17" cy="611.26" r="2.10" fill="#f7a43a" stroke="#fff" stroke-width="0.45" />
<circle cx="486.19" cy="612.13" r="2.10" fill="#f7a43a" stroke="#fff" stroke-width="0.45" />
<circle cx="479.17" cy="639.08" r="2.10" fill="#f7a43a" stroke="#fff" stroke-width="0.45" />
<circle cx="479.21" cy="636.86" r="2.10" fill="#f7a43a" stroke="#fff" stroke-width="0.45" />
<circle cx="486.67" cy="623.27" r="2.10" fill="#f7a43a" stroke="#fff" stroke-width="0.45" />
<circle cx="475.51" cy="615.00" r="2.10" fill="#f7a43a" stroke="#fff" stroke-width="0.45" />
<circle cx="489.45" cy="620.81" r="2.10" fill="#f7a43a" stroke="#fff" stroke-width="0.45" />
<circle cx="476.69" cy="608.19" r="2.10" fill="#f7a43a" stroke="#fff" stroke-width="0.45" />
<circle cx="486.05" cy="627.81" r="2.10" fill="#f7a43a" stroke="#fff" stroke-width="0.45" />
<circle cx="484.67" cy="609.93" r="2.10" fill="#f7a43a" stroke="#fff" stroke-width="0.45" />
<circle cx="487.20" cy="642.13" r="2.10" fill="#f7a43a" stroke="#fff" stroke-width="0.45" />
<circle cx="485.49" cy="612.97" r="2.10" fill="#f7a43a" stroke="#fff" stroke-width="0.45" />
<circle cx="475.90" cy="637.56" r="2.10" fill="#f7a43a" stroke="#fff" stroke-width="0.45" />
<circle cx="490.88" cy="628.63" r="2.10" fill="#f7a43a" stroke="#fff" stroke-width="0.45" />
<circle cx="483.64" cy="639.26" r="2.10" fill="#f7a43a" stroke="#fff" stroke-width="0.45" />
<circle cx="482.75" cy="644.79" r="2.10" fill="#f7a43a" stroke="#fff" stroke-width="0.45" />
<circle cx="488.00" cy="637.05" r="2.10" fill="#f7a43a" stroke="#fff" stroke-width="0.45" />
<circle cx="473.69" cy="619.79" r="2.10" fill="#f7a43a" stroke="#fff" stroke-width="0.45" />
<circle cx="477.94" cy="645.40" r="2.10" fill="#f7a43a" stroke="#fff" stroke-width="0.45" />
<circle cx="482.97" cy="642.71" r="2.10" fill="#f7a43a" stroke="#fff" stroke-width="0.45" />
<circle cx="489.92" cy="638.04" r="2.10" fill="#f7a43a" stroke="#fff" stroke-width="0.45" />
<circle cx="481.12" cy="637.13" r="2.10" fill="#f7a43a" stroke="#fff" stroke-width="0.45" />
<circle cx="480.19" cy="612.09" r="2.10" fill="#f7a43a" stroke="#fff" stroke-width="0.45" />
<circle cx="491.30" cy="634.80" r="2.10" fill="#f7a43a" stroke="#fff" stroke-width="0.45" />
<circle cx="482.35" cy="638.14" r="2.10" fill="#f7a43a" stroke="#fff" stroke-width="0.45" />
<circle cx="480.31" cy="623.05" r="2.10" fill="#f7a43a" stroke="#fff" stroke-width="0.45" />
<circle cx="480.71" cy="627.35" r="2.10" fill="#f7a43a" stroke="#fff" stroke-width="0.45" />
<circle cx="485.14" cy="630.53" r="2.10" fill="#f7a43a" stroke="#fff" stroke-width="0.45" />
<circle cx="482.56" cy="657.26" r="2.10" fill="#f7a43a" stroke="#fff" stroke-width="0.45" />
<circle cx="490.78" cy="638.36" r="2.10" fill="#f7a43a" stroke="#fff" stroke-width="0.45" />
<circle cx="478.27" cy="609.27" r="2.10" fill="#f7a43a" stroke="#fff" stroke-width="0.45" />
<circle cx="476.24" cy="629.42" r="2.10" fill="#f7a43a" stroke="#fff" stroke-width="0.45" />
<circle cx="491.40" cy="614.97" r="2.10" fill="#f7a43a" stroke="#fff" stroke-width="0.45" />
<circle cx="485.67" cy="617.97" r="2.10" fill="#f7a43a" stroke="#fff" stroke-width="0.45" />
<circle cx="483.34" cy="624.63" r="2.10" fill="#f7a43a" stroke="#fff" stroke-width="0.45" />
<circle cx="489.71" cy="653.39" r="2.10" fill="#f7a43a" stroke="#fff" stroke-width="0.45" />
<circle cx="487.69" cy="629.84" r="2.10" fill="#f7a43a" stroke="#fff" stroke-width="0.45" />
<circle cx="484.31" cy="626.48" r="2.10" fill="#f7a43a" stroke="#fff" stroke-width="0.45" />
<circle cx="490.46" cy="627.81" r="2.10" fill="#f7a43a" stroke="#fff" stroke-width="0.45" />
<circle cx="487.31" cy="632.16" r="2.10" fill="#f7a43a" stroke="#fff" stroke-width="0.45" />
<circle cx="485.03" cy="632.69" r="2.10" fill="#f7a43a" stroke="#fff" stroke-width="0.45" />
<circle cx="485.30" cy="657.78" r="2.10" fill="#f7a43a" stroke="#fff" stroke-width="0.45" />
<circle cx="477.19" cy="639.87" r="2.10" fill="#f7a43a" stroke="#fff" stroke-width="0.45" />
<circle cx="476.08" cy="610.21" r="2.10" fill="#f7a43a" stroke="#fff" stroke-width="0.45" />
<circle cx="482.01" cy="617.69" r="2.10" fill="#f7a43a" stroke="#fff" stroke-width="0.45" />
<circle cx="485.45" cy="643.77" r="2.10" fill="#f7a43a" stroke="#fff" stroke-width="0.45" />
<circle cx="478.41" cy="626.47" r="2.10" fill="#f7a43a" stroke="#fff" stroke-width="0.45" />
<circle cx="476.73" cy="611.62" r="2.10" fill="#f7a43a" stroke="#fff" stroke-width="0.45" />
<circle cx="487.77" cy="617.23" r="2.10" fill="#f7a43a" stroke="#fff" stroke-width="0.45" />
<circle cx="473.79" cy="645.37" r="2.10" fill="#f7a43a" stroke="#fff" stroke-width="0.45" />
<circle cx="480.48" cy="624.39" r="2.10" fill="#f7a43a" stroke="#fff" stroke-width="0.45" />
<circle cx="482.31" cy="626.86" r="2.10" fill="#f7a43a" stroke="#fff" stroke-width="0.45" />
<circle cx="479.08" cy="610.32" r="2.10" fill="#f7a43a" stroke="#fff" stroke-width="0.45" />
<circle cx="488.73" cy="631.05" r="2.10" fill="#f7a43a" stroke="#fff" stroke-width="0.45" />
<circle cx="488.92" cy="647.94" r="2.10" fill="#f7a43a" stroke="#fff" stroke-width="0.45" />
<circle cx="481.84" cy="611.92" r="2.10" fill="#f7a43a" stroke="#fff" stroke-width="0.45" />
<circle cx="474.99" cy="638.77" r="2.10" fill="#f7a43a" stroke="#fff" stroke-width="0.45" />
<circle cx="489.70" cy="631.37" r="2.10" fill="#f7a43a" stroke="#fff" stroke-width="0.45" />
<circle cx="477.88" cy="619.44" r="2.10" fill="#f7a43a" stroke="#fff" stroke-width="0.45" />
<circle cx="487.91" cy="641.36" r="2.10" fill="#f7a43a" stroke="#fff" stroke-width="0.45" />
<circle cx="488.42" cy="646.36" r="2.10" fill="#f7a43a" stroke="#fff" stroke-width="0.45" />
<circle cx="486.97" cy="644.03" r="2.10" fill="#f7a43a" stroke="#fff" stroke-width="0.45" />
<circle cx="480.21" cy="624.64" r="2.10" fill="#f7a43a" stroke="#fff" stroke-width="0.45" />
<circle cx="476.96" cy="635.17" r="2.10" fill="#f7a43a" stroke="#fff" stroke-width="0.45" />
<circle cx="489.50" cy="653.46" r="2.10" fill="#f7a43a" stroke="#fff" stroke-width="0.45" />
<circle cx="488.60" cy="621.20" r="2.10" fill="#f7a43a" stroke="#fff" stroke-width="0.45" />
<circle cx="479.29" cy="640.68" r="2.10" fill="#f7a43a" stroke="#fff" stroke-width="0.45" />
<circle cx="478.10" cy="640.04" r="2.10" fill="#f7a43a" stroke="#fff" stroke-width="0.45" />
<circle cx="479.66" cy="628.18" r="2.10" fill="#f7a43a" stroke="#fff" stroke-width="0.45" />
<circle cx="488.91" cy="613.93" r="2.10" fill="#f7a43a" stroke="#fff" stroke-width="0.45" />
<circle cx="488.82" cy="618.22" r="2.10" fill="#f7a43a" stroke="#fff" stroke-width="0.45" />
<circle cx="491.55" cy="641.75" r="2.10" fill="#f7a43a" stroke="#fff" stroke-width="0.45" />
<circle cx="488.68" cy="639.99" r="2.10" fill="#f7a43a" stroke="#fff" stroke-width="0.45" />
<circle cx="491.40" cy="628.93" r="2.10" fill="#f7a43a" stroke="#fff" stroke-width="0.45" />
<circle cx="491.51" cy="610.66" r="2.10" fill="#f7a43a" stroke="#fff" stroke-width="0.45" />
<circle cx="474.99" cy="651.49" r="2.10" fill="#f7a43a" stroke="#fff" stroke-width="0.45" />
<circle cx="476.24" cy="634.64" r="2.10" fill="#f7a43a" stroke="#fff" stroke-width="0.45" />
<circle cx="477.95" cy="604.91" r="2.10" fill="#f7a43a" stroke="#fff" stroke-width="0.45" />
<circle cx="474.69" cy="616.69" r="2.10" fill="#f7a43a" stroke="#fff" stroke-width="0.45" />
<circle cx="485.87" cy="652.10" r="2.10" fill="#f7a43a" stroke="#fff" stroke-width="0.45" />
<circle cx="477.41" cy="614.83" r="2.10" fill="#f7a43a" stroke="#fff" stroke-width="0.45" />
<circle cx="489.05" cy="651.01" r="2.10" fill="#f7a43a" stroke="#fff" stroke-width="0.45" />
<circle cx="488.32" cy="617.24" r="2.10" fill="#f7a43a" stroke="#fff" stroke-width="0.45" />
<circle cx="481.36" cy="621.86" r="2.10" fill="#f7a43a" stroke="#fff" stroke-width="0.45" />
<circle cx="483.72" cy="645.00" r="2.10" fill="#f7a43a" stroke="#fff" stroke-width="0.45" />
<circle cx="477.72" cy="642.29" r="2.10" fill="#f7a43a" stroke="#fff" stroke-width="0.45" />
<circle cx="477.10" cy="624.55" r="2.10" fill="#f7a43a" stroke="#fff" stroke-width="0.45" />
<circle cx="486.25" cy="632.87" r="2.10" fill="#f7a43a" stroke="#fff" stroke-width="0.45" />
<circle cx="488.64" cy="642.48" r="2.10" fill="#f7a43a" stroke="#fff" stroke-width="0.45" />
<circle cx="485.05" cy="615.66" r="2.10" fill="#f7a43a" stroke="#fff" stroke-width="0.45" />
<circle cx="488.43" cy="621.98" r="2.10" fill="#f7a43a" stroke="#fff" stroke-width="0.45" />
<circle cx="458.00" cy="554.90" r="2.10" fill="#8e4aa8" stroke="#fff" stroke-width="0.45" />
<circle cx="465.50" cy="585.40" r="2.10" fill="#8e4aa8" stroke="#fff" stroke-width="0.45" />
<circle cx="455.10" cy="590.80" r="2.10" fill="#8e4aa8" stroke="#fff" stroke-width="0.45" />
<circle cx="464.60" cy="595.20" r="2.10" fill="#8e4aa8" stroke="#fff" stroke-width="0.45" />
<circle cx="463.80" cy="599.30" r="2.10" fill="#8e4aa8" stroke="#fff" stroke-width="0.45" />
<circle cx="463.00" cy="603.40" r="2.10" fill="#8e4aa8" stroke="#fff" stroke-width="0.45" />
<circle cx="477.70" cy="574.70" r="2.10" fill="#f7a43a" stroke="#fff" stroke-width="0.45" />
<circle cx="482.60" cy="574.40" r="2.10" fill="#f7a43a" stroke="#fff" stroke-width="0.45" />
<circle cx="478.60" cy="594.70" r="2.10" fill="#f7a43a" stroke="#fff" stroke-width="0.45" />
<line x1="447.00" y1="544.10" x2="447.00" y2="670.60" stroke="#666" stroke-width="0.6" />
<line x1="444.90" y1="670.60" x2="447.00" y2="670.60" stroke="#666" stroke-width="0.45" />
<line x1="444.90" y1="638.97" x2="447.00" y2="638.97" stroke="#666" stroke-width="0.45" />
<line x1="444.90" y1="607.34" x2="447.00" y2="607.34" stroke="#666" stroke-width="0.45" />
<line x1="444.90" y1="575.71" x2="447.00" y2="575.71" stroke="#666" stroke-width="0.45" />
<line x1="444.90" y1="544.08" x2="447.00" y2="544.08" stroke="#666" stroke-width="0.45" />
<text x="443.0" y="546.6" font-size="7.2" text-anchor="end" fill="#231f20" font-weight="normal" font-style="normal"  stroke="#231f20" stroke-width="0.14">10</text>
<text x="443.0" y="673.1" font-size="7.2" text-anchor="end" fill="#231f20" font-weight="normal" font-style="normal"  stroke="#231f20" stroke-width="0.14">0</text>
<polyline points="458.00,551.30 458.00,544.10 481.90,544.10 481.90,569.40" fill="none" stroke="#555" stroke-width="0.55" stroke-linejoin="round" stroke-linecap="round" />
<text x="470.0" y="544.9" font-size="8.5" text-anchor="middle" fill="#231f20" font-weight="normal" font-style="normal"  stroke="#231f20" stroke-width="0.14">***</text>
<text x="460.5" y="668.8" font-size="7.2" text-anchor="middle" fill="#231f20" font-weight="normal" font-style="normal"  stroke="#231f20" stroke-width="0.14">3.6</text>
<text x="481.7" y="668.8" font-size="7.2" text-anchor="middle" fill="#231f20" font-weight="normal" font-style="normal"  stroke="#231f20" stroke-width="0.14">3.0</text>
<text x="461.0" y="680.4" font-size="7.2" text-anchor="middle" fill="#231f20" font-weight="normal" font-style="normal"  stroke="#231f20" stroke-width="0.14">Hz</text>
<text x="482.0" y="680.4" font-size="7.2" text-anchor="middle" fill="#231f20" font-weight="normal" font-style="normal"  stroke="#231f20" stroke-width="0.14">Hz</text>
<g transform="translate(431.6,609.0) rotate(-90)"><text x="0" y="0" font-size="7.2" fill="#231f20" text-anchor="middle" stroke="#231f20" stroke-width="0.14">VTA DA firing rate (Hz)</text></g>
</svg></body></html>
